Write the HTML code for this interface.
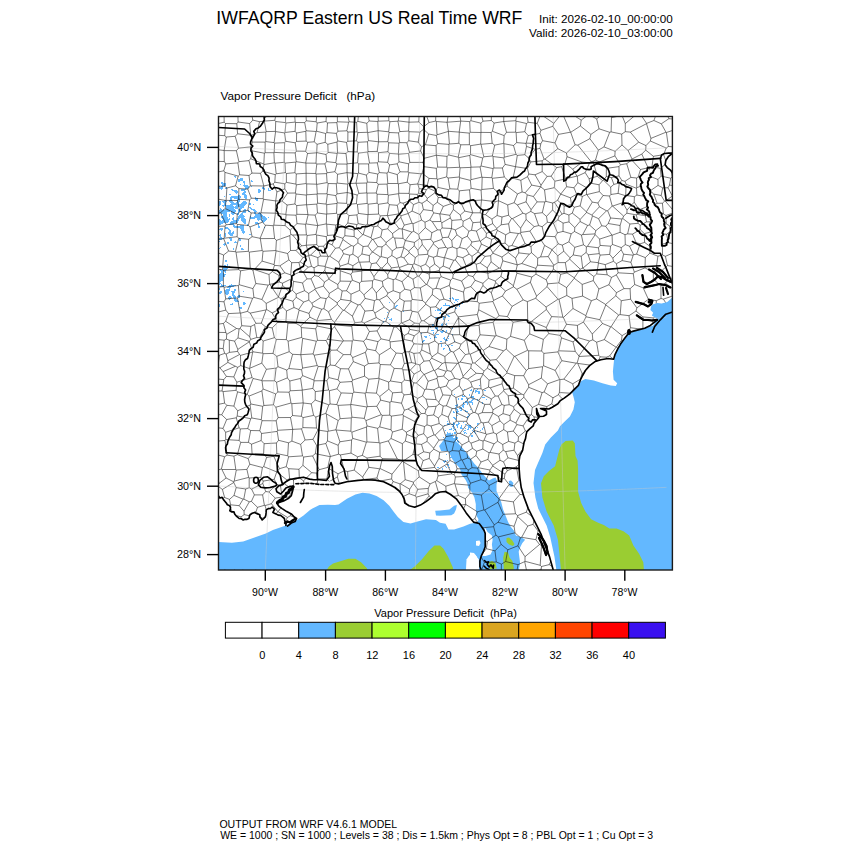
<!DOCTYPE html>
<html><head><meta charset="utf-8"><style>
html,body{margin:0;padding:0;background:#fff;width:850px;height:850px;overflow:hidden}
svg{position:absolute;left:0;top:0}
text{font-family:"Liberation Sans", sans-serif;fill:#000}
</style></head><body>
<svg width="850" height="850" viewBox="0 0 850 850">
<text x="216.31" y="24.30" font-size="17.7" textLength="306.08" lengthAdjust="spacingAndGlyphs" xml:space="preserve">IWFAQRP Eastern US Real Time WRF</text>
<text x="538.95" y="23.40" font-size="11.8" textLength="133.85" lengthAdjust="spacingAndGlyphs" xml:space="preserve">Init: 2026-02-10_00:00:00</text>
<text x="529.04" y="36.80" font-size="11.8" textLength="143.76" lengthAdjust="spacingAndGlyphs" xml:space="preserve">Valid: 2026-02-10_03:00:00</text>
<text x="220.49" y="99.60" font-size="11.5" textLength="154.61" lengthAdjust="spacingAndGlyphs" xml:space="preserve">Vapor Pressure Deficit   (hPa)</text>
<clipPath id="fr"><rect x="218.5" y="116.5" width="453.9" height="453.5"/></clipPath>
<g clip-path="url(#fr)">
<g stroke="none">
<polygon points="672.5,297.2 667.3,302.1 661.6,303.5 657.4,303.1 653.2,304.2 651.1,306.4 650.4,309.9 653.2,312.7 651.8,315.5 657.4,319.1 653.2,325.4 647.5,327.5 639.1,329.6 633.4,331.1 627.8,333.9 623.5,339.5 619.3,345.2 617.9,348.6 615.1,354.3 614.2,358.6 613.6,364.2 612.9,371.2 613.6,379.7 617.2,383.2 615.8,386.1 610.8,385.4 602.4,383.2 593.9,380.4 585.4,379.0 581.2,381.1 578.4,385.4 574.1,389.6 572.0,391.7 573.4,396.6 574.8,402.3 573.4,409.4 569.9,416.4 564.2,422.1 560.0,426.3 557.9,430.5 550.9,437.6 545.2,444.6 542.4,453.1 538.0,463.0 535.0,470.0 533.5,483.0 535.4,497.4 538.2,508.6 542.4,517.1 546.6,525.6 550.2,536.9 552.3,546.8 554.4,556.6 556.5,571.0 672.5,571.0" fill="#63b8ff"/>
<polygon points="218.5,542.0 231.9,542.8 243.2,541.5 254.5,537.5 265.8,533.4 272.9,530.0 284.4,526.1 295.9,520.8 303.5,515.4 310.0,510.1 312.4,508.6 319.5,505.1 327.9,504.7 335.0,505.1 338.5,504.4 346.9,498.8 355.4,494.5 362.5,492.8 369.5,493.4 376.6,495.9 383.6,500.2 389.3,505.8 393.5,511.5 397.8,517.1 403.4,522.1 410.5,523.5 417.5,521.4 426.0,519.2 435.9,519.9 440.0,522.8 445.6,523.7 448.5,529.4 454.1,529.4 463.5,526.5 470.1,523.7 475.8,522.8 478.0,521.0 480.0,516.0 483.0,515.0 486.0,520.0 484.5,526.0 485.0,533.0 485.2,546.8 483.4,551.7 481.3,555.9 479.9,560.9 479.9,566.5 481.3,571.0 218.5,571.0" fill="#63b8ff"/>
<polygon points="435.2,510.8 440.0,510.5 449.4,509.6 454.1,505.8 456.9,504.9 456.0,509.6 454.1,513.4 451.3,515.2 440.0,515.7 436.0,515.5" fill="#63b8ff"/>
<polygon points="447.5,433.5 444.8,438.5 439.1,446.1 441.2,451.1 448.3,451.1 452.5,459.5 456.0,464.0 459.8,468.2 461.6,474.8 465.4,479.5 467.3,483.2 468.2,487.9 472.0,492.6 474.4,497.4 475.8,503.9 475.8,509.6 476.7,516.2 479.5,520.9 483.3,525.6 485.5,528.4 487.6,531.9 491.9,535.5 492.6,539.7 491.9,544.6 492.6,550.3 490.5,554.5 485.5,556.0 482.7,556.0 478.0,557.0 477.0,571.0 518.7,571.0 520.1,563.0 519.4,557.4 518.7,551.7 520.1,547.5 522.2,543.2 525.1,539.7 520.8,536.9 515.9,535.5 513.8,530.5 510.9,527.0 508.1,522.1 505.3,515.0 503.1,509.6 501.2,502.1 498.4,495.5 496.5,490.8 496.5,484.2 497.4,481.4 495.5,477.6 492.7,478.5 488.9,480.4 485.0,476.5 481.5,472.2 478.6,468.0 474.4,463.8 470.2,458.1 467.4,453.9 463.8,449.6 458.2,443.3 453.9,439.8 452.0,435.0 450.5,432.5" fill="#63b8ff"/>
<polygon points="508.7,481.0 511.0,480.4 513.4,483.0 512.5,487.0 509.5,486.5" fill="#63b8ff"/>
<polygon points="469.4,555.3 475.3,554.7 478.8,559.4 479.2,571.0 465.9,571.0 466.5,559.4" fill="#fff"/>
<polygon points="476.0,541.0 479.5,540.4 480.6,543.0 479.0,546.1 476.0,545.5" fill="#fff"/>
<polygon points="470.0,552.5 474.0,553.0 477.0,557.0 477.0,571.0 470.0,571.0" fill="#fff"/>
<polygon points="561.4,444.6 565.6,441.1 572.7,440.4 574.8,443.2 575.5,455.9 577.6,460.6 578.1,469.1 578.1,491.7 581.2,503.0 585.4,511.5 591.1,519.2 598.1,522.8 603.8,524.9 609.4,528.4 616.5,528.4 623.5,531.2 629.2,535.5 633.4,545.4 639.1,553.8 643.3,562.3 644.0,571.0 561.4,571.0 560.8,568.0 559.4,553.8 557.9,539.7 553.7,525.6 546.6,511.5 542.4,497.4 541.0,483.2 543.8,476.2 549.0,471.0 555.1,466.3 557.9,455.0 559.5,449.0" fill="#9acd32"/>
<polygon points="326.0,571.0 329.0,566.5 333.0,563.5 337.1,562.3 348.4,558.8 355.4,558.8 361.1,562.3 366.7,567.9 368.0,571.0" fill="#9acd32"/>
<polygon points="408.4,571.0 414.7,566.5 421.8,559.5 428.8,551.0 434.5,545.4 440.1,545.4 443.5,548.8 448.2,557.1 452.9,567.6 453.5,571.0" fill="#9acd32"/>
<polygon points="504.6,551.7 508.1,552.4 509.5,557.4 512.4,560.9 513.8,567.2 513.5,571.0 503.9,571.0 503.2,557.4" fill="#9acd32"/>
<polygon points="506.5,538.0 509.0,537.6 512.0,540.0 514.5,544.0 513.0,546.0 509.0,544.5 506.5,542.0" fill="#9acd32"/>
<polygon points="489.0,562.0 492.0,561.0 495.5,563.0 496.8,568.6 490.0,569.0 489.0,566.0" fill="#9acd32"/>
<path d="M234 176h2v1h-2zM235 177h1v1h-1zM240 178h3v1h-3zM238 179h5v1h-5zM238 180h5v1h-5zM251 180h1v1h-1zM238 181h2v1h-2zM243 181h2v1h-2zM251 181h2v1h-2zM221 182h2v1h-2zM243 182h2v1h-2zM221 183h5v1h-5zM244 183h1v1h-1zM222 184h4v1h-4zM240 184h1v1h-1zM244 184h1v1h-1zM222 185h4v1h-4zM243 185h5v1h-5zM219 186h1v1h-1zM221 186h2v1h-2zM244 186h5v1h-5zM251 186h1v1h-1zM218 187h5v1h-5zM226 187h1v1h-1zM245 187h4v1h-4zM262 187h2v1h-2zM218 188h5v1h-5zM225 188h2v1h-2zM245 188h3v1h-3zM262 188h3v1h-3zM268 188h1v1h-1zM221 189h1v1h-1zM231 189h2v1h-2zM241 189h5v1h-5zM258 189h2v1h-2zM264 189h1v1h-1zM268 189h1v1h-1zM232 190h5v1h-5zM241 190h4v1h-4zM258 190h3v1h-3zM268 190h3v1h-3zM234 191h4v1h-4zM244 191h2v1h-2zM258 191h3v1h-3zM235 192h3v1h-3zM243 192h3v1h-3zM258 192h2v1h-2zM218 193h1v1h-1zM236 193h1v1h-1zM242 193h3v1h-3zM218 194h1v1h-1zM229 194h2v1h-2zM242 194h4v1h-4zM238 195h2v1h-2zM244 195h3v1h-3zM224 196h1v1h-1zM231 196h10v1h-10zM244 196h3v1h-3zM230 197h11v1h-11zM244 197h3v1h-3zM255 197h1v1h-1zM230 198h2v1h-2zM234 198h6v1h-6zM245 198h2v1h-2zM255 198h3v1h-3zM230 199h2v1h-2zM237 199h3v1h-3zM255 199h3v1h-3zM224 200h2v1h-2zM229 200h3v1h-3zM237 200h3v1h-3zM256 200h2v1h-2zM218 201h3v1h-3zM222 201h5v1h-5zM229 201h4v1h-4zM237 201h3v1h-3zM243 201h3v1h-3zM218 202h3v1h-3zM223 202h3v1h-3zM230 202h4v1h-4zM236 202h3v1h-3zM242 202h5v1h-5zM218 203h3v1h-3zM224 203h2v1h-2zM231 203h8v1h-8zM241 203h6v1h-6zM249 203h2v1h-2zM218 204h3v1h-3zM224 204h2v1h-2zM230 204h16v1h-16zM249 204h2v1h-2zM253 204h1v1h-1zM218 205h2v1h-2zM222 205h11v1h-11zM236 205h9v1h-9zM223 206h1v1h-1zM226 206h8v1h-8zM235 206h9v1h-9zM226 207h12v1h-12zM240 207h4v1h-4zM249 207h2v1h-2zM220 208h1v1h-1zM226 208h8v1h-8zM235 208h3v1h-3zM240 208h2v1h-2zM250 208h2v1h-2zM220 209h2v1h-2zM223 209h1v1h-1zM225 209h10v1h-10zM238 209h3v1h-3zM244 209h2v1h-2zM251 209h4v1h-4zM219 210h17v1h-17zM238 210h3v1h-3zM243 210h3v1h-3zM248 210h1v1h-1zM253 210h3v1h-3zM218 211h12v1h-12zM231 211h5v1h-5zM238 211h2v1h-2zM243 211h3v1h-3zM248 211h2v1h-2zM254 211h3v1h-3zM218 212h9v1h-9zM231 212h4v1h-4zM238 212h1v1h-1zM242 212h4v1h-4zM254 212h2v1h-2zM259 212h1v1h-1zM218 213h2v1h-2zM221 213h6v1h-6zM231 213h4v1h-4zM237 213h2v1h-2zM241 213h2v1h-2zM254 213h2v1h-2zM258 213h3v1h-3zM218 214h1v1h-1zM223 214h4v1h-4zM229 214h1v1h-1zM232 214h2v1h-2zM237 214h2v1h-2zM240 214h3v1h-3zM255 214h7v1h-7zM223 215h4v1h-4zM229 215h1v1h-1zM239 215h5v1h-5zM255 215h8v1h-8zM221 216h6v1h-6zM229 216h1v1h-1zM238 216h7v1h-7zM250 216h1v1h-1zM254 216h11v1h-11zM221 217h7v1h-7zM233 217h1v1h-1zM238 217h6v1h-6zM250 217h11v1h-11zM262 217h4v1h-4zM268 217h1v1h-1zM218 218h1v1h-1zM222 218h6v1h-6zM229 218h1v1h-1zM232 218h2v1h-2zM237 218h3v1h-3zM241 218h4v1h-4zM250 218h5v1h-5zM257 218h4v1h-4zM262 218h5v1h-5zM218 219h2v1h-2zM223 219h7v1h-7zM232 219h2v1h-2zM237 219h2v1h-2zM241 219h5v1h-5zM257 219h5v1h-5zM263 219h4v1h-4zM218 220h3v1h-3zM222 220h7v1h-7zM233 220h6v1h-6zM241 220h5v1h-5zM258 220h1v1h-1zM261 220h5v1h-5zM219 221h10v1h-10zM231 221h7v1h-7zM242 221h4v1h-4zM262 221h3v1h-3zM218 222h10v1h-10zM230 222h8v1h-8zM243 222h3v1h-3zM255 222h3v1h-3zM263 222h1v1h-1zM218 223h5v1h-5zM230 223h4v1h-4zM244 223h2v1h-2zM255 223h4v1h-4zM218 224h3v1h-3zM229 224h5v1h-5zM247 224h1v1h-1zM258 224h1v1h-1zM218 225h1v1h-1zM233 225h2v1h-2zM240 225h4v1h-4zM247 225h1v1h-1zM258 225h1v1h-1zM233 226h11v1h-11zM258 226h2v1h-2zM225 227h3v1h-3zM234 227h10v1h-10zM258 227h2v1h-2zM264 227h1v1h-1zM218 228h1v1h-1zM220 228h3v1h-3zM225 228h4v1h-4zM240 228h4v1h-4zM219 229h4v1h-4zM228 229h2v1h-2zM241 229h3v1h-3zM221 230h1v1h-1zM229 230h2v1h-2zM241 230h3v1h-3zM229 231h2v1h-2zM233 231h1v1h-1zM242 231h3v1h-3zM228 232h3v1h-3zM232 232h2v1h-2zM242 232h3v1h-3zM225 233h1v1h-1zM228 233h6v1h-6zM243 233h1v1h-1zM220 234h1v1h-1zM225 234h1v1h-1zM229 234h4v1h-4zM249 234h2v1h-2zM219 235h2v1h-2zM225 235h1v1h-1zM230 235h3v1h-3zM220 236h1v1h-1zM225 236h1v1h-1zM220 237h2v1h-2zM218 238h6v1h-6zM229 238h3v1h-3zM239 238h1v1h-1zM218 239h4v1h-4zM230 239h2v1h-2zM239 239h2v1h-2zM230 240h2v1h-2zM239 240h2v1h-2zM218 241h2v1h-2zM235 241h1v1h-1zM227 242h2v1h-2zM234 242h3v1h-3zM224 243h1v1h-1zM227 243h2v1h-2zM223 244h3v1h-3zM224 245h1v1h-1zM240 245h1v1h-1zM240 246h1v1h-1zM220 247h1v1h-1zM219 248h1v1h-1zM233 248h1v1h-1zM241 248h2v1h-2zM233 249h1v1h-1zM241 249h3v1h-3zM225 260h2v1h-2zM225 261h2v1h-2zM218 264h1v1h-1zM227 264h1v1h-1zM218 265h1v1h-1zM224 265h2v1h-2zM227 265h1v1h-1zM223 266h4v1h-4zM229 266h1v1h-1zM223 267h5v1h-5zM223 268h5v1h-5zM220 269h1v1h-1zM223 269h4v1h-4zM220 270h6v1h-6zM221 271h2v1h-2zM224 271h2v1h-2zM221 272h2v1h-2zM225 272h1v1h-1zM220 273h4v1h-4zM218 274h8v1h-8zM218 275h7v1h-7zM218 276h7v1h-7zM218 277h5v1h-5zM219 278h4v1h-4zM218 279h5v1h-5zM218 280h5v1h-5zM218 281h3v1h-3zM218 282h2v1h-2zM218 283h3v1h-3zM218 284h2v1h-2zM221 284h1v1h-1zM231 284h1v1h-1zM221 285h5v1h-5zM229 285h7v1h-7zM220 286h4v1h-4zM228 286h6v1h-6zM227 287h4v1h-4zM218 288h2v1h-2zM229 288h1v1h-1zM218 289h2v1h-2zM226 289h4v1h-4zM234 289h2v1h-2zM225 290h5v1h-5zM234 290h2v1h-2zM220 291h2v1h-2zM225 291h4v1h-4zM231 291h4v1h-4zM243 291h1v1h-1zM219 292h3v1h-3zM225 292h4v1h-4zM232 292h3v1h-3zM219 293h2v1h-2zM225 293h4v1h-4zM232 293h2v1h-2zM226 294h2v1h-2zM232 294h2v1h-2zM232 295h3v1h-3zM238 295h2v1h-2zM229 296h2v1h-2zM233 296h3v1h-3zM237 296h3v1h-3zM228 297h4v1h-4zM233 297h3v1h-3zM238 297h2v1h-2zM228 298h3v1h-3zM234 298h2v1h-2zM229 299h1v1h-1zM234 299h3v1h-3zM234 300h4v1h-4zM235 301h4v1h-4zM218 302h1v1h-1zM243 302h2v1h-2zM218 303h1v1h-1zM232 303h1v1h-1zM243 303h3v1h-3zM218 304h2v1h-2zM230 304h3v1h-3zM243 304h2v1h-2zM218 305h2v1h-2zM218 306h2v1h-2zM239 307h3v1h-3zM240 308h2v1h-2zM452 297h1v1h-1zM449 298h2v1h-2zM452 298h2v1h-2zM453 299h1v1h-1zM455 299h4v1h-4zM455 300h2v1h-2zM457 301h1v1h-1zM389 302h1v1h-1zM454 302h1v1h-1zM462 302h1v1h-1zM445 303h1v1h-1zM462 303h1v1h-1zM445 304h1v1h-1zM396 305h2v1h-2zM443 305h7v1h-7zM457 305h1v1h-1zM459 305h1v1h-1zM395 306h2v1h-2zM449 306h1v1h-1zM459 306h1v1h-1zM395 307h1v1h-1zM441 307h1v1h-1zM452 307h1v1h-1zM455 307h1v1h-1zM440 308h2v1h-2zM455 308h2v1h-2zM437 309h2v1h-2zM440 309h1v1h-1zM435 310h1v1h-1zM437 310h4v1h-4zM403 311h1v1h-1zM387 312h1v1h-1zM440 312h1v1h-1zM439 313h2v1h-2zM446 314h1v1h-1zM441 315h1v1h-1zM447 315h2v1h-2zM441 316h3v1h-3zM448 316h2v1h-2zM388 317h1v1h-1zM435 317h2v1h-2zM438 317h1v1h-1zM443 317h3v1h-3zM384 318h1v1h-1zM391 318h1v1h-1zM438 318h2v1h-2zM443 318h1v1h-1zM389 319h3v1h-3zM438 319h1v1h-1zM443 319h1v1h-1zM391 320h1v1h-1zM448 320h1v1h-1zM383 321h1v1h-1zM383 322h1v1h-1zM442 323h1v1h-1zM446 323h1v1h-1zM389 324h1v1h-1zM432 324h2v1h-2zM441 324h2v1h-2zM446 324h1v1h-1zM389 325h1v1h-1zM432 325h2v1h-2zM441 325h2v1h-2zM430 326h1v1h-1zM430 327h1v1h-1zM435 327h3v1h-3zM435 328h3v1h-3zM452 328h1v1h-1zM437 329h1v1h-1zM431 330h3v1h-3zM437 330h1v1h-1zM442 330h2v1h-2zM446 330h1v1h-1zM440 331h4v1h-4zM446 331h1v1h-1zM433 332h1v1h-1zM441 332h2v1h-2zM445 332h1v1h-1zM421 333h1v1h-1zM433 333h1v1h-1zM436 334h3v1h-3zM452 334h1v1h-1zM429 335h1v1h-1zM435 335h1v1h-1zM424 336h3v1h-3zM435 336h1v1h-1zM448 336h1v1h-1zM425 337h2v1h-2zM434 337h3v1h-3zM444 337h1v1h-1zM430 338h1v1h-1zM443 338h2v1h-2zM448 338h1v1h-1zM444 339h3v1h-3zM423 340h2v1h-2zM445 340h3v1h-3zM422 341h2v1h-2zM440 341h2v1h-2zM454 341h1v1h-1zM422 342h1v1h-1zM441 344h1v1h-1zM441 345h1v1h-1zM445 345h1v1h-1zM447 345h1v1h-1zM451 345h2v1h-2zM441 346h1v1h-1zM448 346h1v1h-1zM443 348h2v1h-2zM449 348h1v1h-1zM443 349h1v1h-1zM449 349h1v1h-1zM449 350h1v1h-1zM479 385h1v1h-1zM464 389h1v1h-1zM471 389h1v1h-1zM477 389h1v1h-1zM470 390h2v1h-2zM475 390h2v1h-2zM484 390h2v1h-2zM473 391h1v1h-1zM475 391h5v1h-5zM475 392h1v1h-1zM478 392h2v1h-2zM478 393h2v1h-2zM454 394h1v1h-1zM469 394h1v1h-1zM462 395h1v1h-1zM469 395h1v1h-1zM462 396h3v1h-3zM471 396h3v1h-3zM471 397h3v1h-3zM482 397h3v1h-3zM458 398h1v1h-1zM461 398h2v1h-2zM466 398h1v1h-1zM474 398h1v1h-1zM458 399h1v1h-1zM461 399h2v1h-2zM467 399h1v1h-1zM472 399h2v1h-2zM477 399h1v1h-1zM486 399h1v1h-1zM471 400h2v1h-2zM477 400h1v1h-1zM465 401h2v1h-2zM469 401h3v1h-3zM463 402h1v1h-1zM465 402h3v1h-3zM469 402h4v1h-4zM482 402h1v1h-1zM463 403h1v1h-1zM467 403h1v1h-1zM472 403h1v1h-1zM482 403h1v1h-1zM457 404h1v1h-1zM463 404h2v1h-2zM467 404h1v1h-1zM472 404h1v1h-1zM455 405h3v1h-3zM462 405h2v1h-2zM456 406h1v1h-1zM462 406h2v1h-2zM455 407h1v1h-1zM460 407h2v1h-2zM463 407h1v1h-1zM456 408h1v1h-1zM459 408h3v1h-3zM456 409h2v1h-2zM461 409h1v1h-1zM470 409h1v1h-1zM457 410h1v1h-1zM460 410h2v1h-2zM465 410h1v1h-1zM453 411h1v1h-1zM456 411h3v1h-3zM465 411h3v1h-3zM453 412h2v1h-2zM456 412h2v1h-2zM468 414h1v1h-1zM457 415h1v1h-1zM469 415h1v1h-1zM467 416h2v1h-2zM453 417h2v1h-2zM467 417h1v1h-1zM454 418h2v1h-2zM455 419h1v1h-1zM447 421h1v1h-1zM453 422h1v1h-1zM458 422h1v1h-1zM463 422h1v1h-1zM447 423h2v1h-2zM453 423h2v1h-2zM458 423h2v1h-2zM477 423h2v1h-2zM447 424h3v1h-3zM451 424h4v1h-4zM456 424h3v1h-3zM465 424h1v1h-1zM477 424h1v1h-1zM444 425h1v1h-1zM453 425h1v1h-1zM456 425h2v1h-2zM461 425h1v1h-1zM467 425h4v1h-4zM452 426h2v1h-2zM457 426h1v1h-1zM461 426h1v1h-1zM468 426h3v1h-3zM453 427h1v1h-1zM457 427h1v1h-1zM460 427h2v1h-2zM468 427h4v1h-4zM475 427h1v1h-1zM477 427h1v1h-1zM483 427h1v1h-1zM451 428h1v1h-1zM453 428h1v1h-1zM460 428h3v1h-3zM465 428h1v1h-1zM468 428h1v1h-1zM470 428h1v1h-1zM475 428h1v1h-1zM482 428h1v1h-1zM449 429h3v1h-3zM454 429h2v1h-2zM467 429h2v1h-2zM473 429h1v1h-1zM482 429h1v1h-1zM445 430h1v1h-1zM453 430h1v1h-1zM464 430h2v1h-2zM472 430h1v1h-1zM480 430h1v1h-1zM463 431h1v1h-1zM473 431h2v1h-2zM477 431h1v1h-1zM447 432h1v1h-1zM454 432h2v1h-2zM464 432h2v1h-2zM474 432h1v1h-1zM447 433h1v1h-1zM452 433h1v1h-1zM454 433h2v1h-2zM464 433h1v1h-1zM466 433h1v1h-1zM470 433h1v1h-1zM475 433h1v1h-1zM446 434h1v1h-1zM452 434h1v1h-1zM446 435h3v1h-3zM451 435h1v1h-1zM471 435h2v1h-2zM446 436h2v1h-2zM449 436h1v1h-1zM451 436h3v1h-3zM455 436h1v1h-1zM471 436h2v1h-2zM443 437h1v1h-1zM448 437h2v1h-2zM452 437h1v1h-1zM455 437h3v1h-3zM448 438h1v1h-1zM450 438h1v1h-1zM453 438h5v1h-5zM448 439h3v1h-3zM452 439h5v1h-5zM444 440h1v1h-1zM447 440h2v1h-2zM450 440h6v1h-6zM457 440h1v1h-1zM448 441h1v1h-1zM451 441h3v1h-3zM457 441h2v1h-2zM451 442h2v1h-2zM458 442h1v1h-1zM448 444h1v1h-1zM449 445h1v1h-1zM446 454h1v1h-1zM452 454h1v1h-1zM450 457h2v1h-2zM445 460h1v1h-1zM447 460h1v1h-1zM443 461h3v1h-3zM444 462h1v1h-1zM454 463h1v1h-1zM447 464h2v1h-2zM448 465h1v1h-1zM445 466h1v1h-1zM437 467h2v1h-2zM446 467h1v1h-1zM449 467h1v1h-1zM442 468h1v1h-1zM442 469h1v1h-1zM456 470h1v1h-1zM447 471h2v1h-2zM447 472h1v1h-1z" fill="#63b8ff"/>
</g>
<mask id="land"><rect x="0" y="0" width="850" height="850" fill="#fff"/><polygon points="218.5,496.0 218.5,496.0 222.1,497.4 226.3,503.0 230.5,507.2 229.8,510.8 234.8,514.3 237.6,517.1 243.2,520.0 248.9,518.5 250.0,514.7 254.6,512.4 257.6,513.9 259.9,517.0 262.2,520.0 265.3,517.0 266.1,512.4 268.3,508.6 272.2,507.0 274.5,509.3 272.9,512.4 276.0,513.9 280.6,515.4 284.4,518.5 287.5,521.6 285.9,525.4 290.0,526.0 296.6,518.5 294.3,517.0 291.3,513.9 286.7,511.6 282.1,508.6 279.0,506.3 276.8,503.2 279.0,502.5 283.6,500.9 288.2,498.6 291.3,495.6 292.8,490.2 293.6,486.4 296.0,484.5 305.0,484.0 315.0,484.0 328.0,481.5 333.6,481.0 335.0,483.2 338.5,483.9 346.9,481.8 358.2,480.4 366.7,479.7 375.2,480.1 383.6,481.8 389.3,484.6 394.9,487.5 399.2,491.0 402.0,494.5 404.1,498.8 404.8,503.0 409.1,505.8 414.7,507.2 420.4,505.1 426.0,501.6 431.6,497.4 435.2,493.8 440.1,492.0 445.4,491.5 450.6,494.5 456.3,498.8 460.5,504.4 463.4,508.6 466.2,512.9 470.0,517.8 473.5,522.1 479.2,523.5 481.3,526.3 484.1,530.5 485.2,533.4 485.2,539.7 485.2,546.8 483.4,551.7 481.3,555.9 479.9,560.9 479.9,566.5 481.5,571.0 218.5,569.5" fill="#000"/><polygon points="657.4,319.8 650.4,325.4 644.7,328.2 639.1,329.6 633.4,331.1 629.2,332.5 624.9,338.1 620.7,343.8 617.9,348.6 615.1,354.3 613.6,359.2 608.0,358.5 600.9,359.7 595.3,361.4 589.6,365.6 585.4,370.5 582.6,375.5 580.5,379.7 578.4,385.4 574.1,389.6 569.9,393.8 564.2,398.1 560.0,400.9 557.9,403.7 552.3,407.2 548.8,409.0 544.0,408.6 540.5,408.6 546.5,411.0 546.5,414.5 543.5,416.3 539.5,416.5 537.5,412.0 536.5,408.5 536.8,414.0 538.9,417.5 535.3,421.7 533.9,423.5 533.2,425.9 529.7,428.8 526.9,431.6 526.2,434.4 525.5,438.6 524.1,442.2 522.6,450.3 519.8,455.9 519.1,460.6 519.1,468.4 519.8,477.6 521.2,487.5 524.1,497.4 528.3,508.6 532.5,517.1 536.8,525.6 541.0,534.1 545.2,545.4 549.5,556.6 553.5,571.0 672.5,569.5 672.5,322.0 660.0,325.0" fill="#000"/><polygon points="672.5,297.2 667.3,302.1 661.6,303.5 657.4,303.1 653.2,304.2 651.1,306.4 650.4,309.9 653.2,312.7 651.8,315.5 657.4,319.1 653.2,325.4 647.5,327.5 639.1,329.6 633.4,331.1 627.8,333.9 623.5,339.5 619.3,345.2 617.9,348.6 615.1,354.3 614.2,358.6 613.6,364.2 612.9,371.2 613.6,379.7 617.2,383.2 615.8,386.1 610.8,385.4 602.4,383.2 593.9,380.4 585.4,379.0 581.2,381.1 578.4,385.4 574.1,389.6 572.0,391.7 573.4,396.6 574.8,402.3 573.4,409.4 569.9,416.4 564.2,422.1 560.0,426.3 557.9,430.5 550.9,437.6 545.2,444.6 542.4,453.1 538.0,463.0 535.0,470.0 533.5,483.0 535.4,497.4 538.2,508.6 542.4,517.1 546.6,525.6 550.2,536.9 552.3,546.8 554.4,556.6 556.5,571.0 672.5,571.0" fill="#000"/><polygon points="657.4,164.3 652.9,167.9 647.1,170.9 641.2,175.3 639.7,176.8 642.6,182.6 641.2,187.1 644.1,192.9 645.6,198.8 647.1,204.7 648.5,210.6 650.5,216.0 651.5,228.0 652.2,237.1 651.5,242.9 650.7,248.8 654.4,253.2 660.3,253.2 661.8,242.9 661.8,240.0 663.2,231.2 664.7,222.4 663.2,217.9 661.8,213.5 658.8,209.1 655.9,206.2 652.9,201.8 650.7,195.9 648.5,188.5 647.8,182.6 650.0,175.3 654.4,169.4 658.1,165.7" fill="#000"/><polygon points="672.2,153.5 668.6,156.3 665.8,160.5 665.1,164.8 667.2,167.6 670.8,170.4 673.0,173.5 673.0,153.0" fill="#000"/></mask>
<path mask="url(#land)" d="M471.9 571.8L478.9 573.1M471.9 571.8L467.9 573.2M467.9 573.2L464.5 583.3M477.9 580.7L478.9 573.1M547.7 283.8L558.8 282.9M547.7 283.8L546.2 279.8M546.2 279.8L553.4 269.1M558.8 282.9L560.7 274.3M553.4 269.1L560.7 274.3M569.7 259.2L580.2 269.1M569.7 259.2L565.3 262.6M580.2 269.1L574.3 277.8M574.3 277.8L567.0 272.9M565.3 262.6L567.0 272.9M566.6 287.6L574.3 278.3M566.6 287.6L558.8 282.9M574.3 277.8L574.3 278.3M567.0 272.9L560.7 274.3M546.2 279.8L536.0 274.1M536.0 274.1L535.9 268.4M535.9 268.4L537.5 265.2M553.4 269.1L553.4 266.1M537.5 265.2L553.4 266.1M573.2 255.0L570.0 257.8M573.2 255.0L574.8 247.3M570.0 257.8L563.8 251.2M574.8 247.3L568.9 241.8M563.8 251.2L562.3 245.1M568.9 241.8L562.3 245.1M586.4 246.8L583.5 244.8M586.4 246.8L586.2 252.4M583.5 244.8L574.8 247.3M573.2 255.0L581.2 256.2M586.2 252.4L581.2 256.2M569.7 259.2L570.0 257.8M580.2 269.1L582.7 268.2M581.2 256.2L582.7 268.2M582.2 284.4L574.3 278.3M582.2 284.4L593.3 280.6M593.3 280.6L593.8 276.5M593.8 276.5L582.8 268.2M582.8 268.2L582.7 268.2M598.9 289.0L609.0 284.7M598.9 289.0L593.3 280.6M593.8 276.5L596.7 274.0M609.0 284.7L611.5 277.4M611.5 277.4L607.2 274.8M596.7 274.0L607.2 274.8M596.7 274.0L598.5 263.0M607.2 274.8L605.2 264.6M605.2 264.6L598.5 263.0M636.1 242.6L640.2 243.8M636.1 242.6L629.5 246.2M640.2 243.8L636.6 254.2M636.6 254.2L633.6 254.7M629.5 246.2L633.6 254.7M616.3 274.9L611.5 277.4M616.3 274.9L618.1 272.8M613.5 261.3L605.2 264.6M613.5 261.3L616.4 263.7M616.4 263.7L618.1 272.8M633.2 255.2L623.6 254.2M633.2 255.2L630.9 262.3M623.6 254.2L622.1 260.6M622.1 260.6L630.9 262.3M653.9 120.5L646.6 123.4M653.9 120.5L661.3 123.8M650.9 138.4L666.0 132.2M650.9 138.4L646.5 123.7M646.5 123.7L646.6 123.4M666.0 132.2L661.3 123.8M653.9 120.5L658.6 107.9M664.3 107.9L668.9 118.7M661.3 123.8L668.9 118.7M668.9 118.7L677.7 119.4M637.7 107.0L639.0 112.1M639.0 112.1L646.6 123.4M526.2 143.1L540.8 143.8M526.2 143.1L528.2 135.6M540.8 143.8L542.6 140.7M542.6 140.7L540.0 133.4M540.0 133.4L528.2 135.6M599.0 128.8L590.9 134.4M599.0 128.8L596.7 118.9M590.9 134.4L580.4 126.0M596.7 118.9L588.6 114.5M588.6 114.5L581.2 120.1M581.2 120.1L580.4 126.0M220.8 576.5L211.7 575.0M227.5 586.8L229.5 574.9M220.8 576.5L225.8 572.8M229.5 574.9L225.8 572.8M467.9 573.2L459.6 570.2M458.0 583.7L454.8 574.3M459.6 570.2L454.8 574.3M471.9 571.8L468.6 563.0M468.6 563.0L459.8 566.6M459.6 570.2L459.8 566.6M461.0 553.7L456.8 559.6M461.0 553.7L470.3 555.5M468.6 563.0L470.3 555.5M459.8 566.6L456.8 559.6M312.9 575.8L306.5 565.1M306.5 565.1L302.0 567.0M302.0 567.0L302.1 575.5M595.0 233.9L582.7 234.6M595.0 233.9L595.8 230.7M589.6 225.1L595.8 230.7M589.6 225.1L587.6 225.4M587.6 225.4L582.7 234.6M586.4 246.8L587.4 246.4M595.0 233.9L595.2 234.6M583.5 244.8L581.4 235.1M595.2 234.6L587.4 246.4M582.7 234.6L581.4 235.1M622.6 202.7L627.0 210.0M622.6 202.7L612.6 206.1M623.6 216.1L612.6 206.1M623.6 216.1L626.9 213.2M626.9 213.2L627.0 210.0M623.6 216.1L622.7 218.4M638.2 223.3L636.3 214.9M638.2 223.3L629.9 224.0M626.9 213.2L636.3 214.9M622.7 218.4L629.9 224.0M632.5 234.1L640.2 229.6M632.5 234.1L627.6 233.9M640.2 229.6L640.1 225.4M638.2 223.3L640.1 225.4M629.9 224.0L627.6 233.9M636.1 242.6L632.5 234.1M629.5 246.2L625.3 244.6M625.3 244.6L625.0 234.7M625.0 234.7L627.6 233.9M525.9 214.1L530.8 211.4M525.9 214.1L522.9 213.2M522.9 213.2L517.3 204.9M526.1 201.8L517.3 204.9M526.1 201.8L531.1 209.7M531.1 209.7L530.8 211.4M514.1 202.7L517.3 204.9M514.1 202.7L517.5 193.9M517.5 193.9L522.1 192.0M522.1 192.0L525.2 192.8M526.1 201.8L527.2 194.9M527.2 194.9L525.2 192.8M544.1 159.2L544.9 159.1M544.1 159.2L540.0 148.3M540.0 148.3L540.8 143.8M542.6 140.7L555.0 142.9M555.0 142.9L557.8 148.7M544.9 159.1L557.8 148.7M555.1 236.7L557.5 232.8M555.1 236.7L558.3 243.9M557.5 232.8L563.0 231.4M558.3 243.9L562.3 245.1M568.9 241.8L571.2 233.8M563.0 231.4L571.2 233.8M581.4 235.1L574.5 231.5M571.2 233.8L574.5 231.5M580.0 221.5L574.8 227.6M580.0 221.5L587.6 225.4M574.8 227.6L574.5 231.5M555.1 236.7L544.1 236.1M544.6 245.4L541.3 240.5M544.6 245.4L552.0 249.6M552.0 249.6L558.3 243.9M544.1 236.1L541.3 240.5M548.2 256.6L553.8 265.2M548.2 256.6L552.0 249.8M552.0 249.8L557.8 255.8M557.8 255.8L558.1 262.6M558.1 262.6L553.8 265.2M537.5 265.2L537.7 258.2M553.4 266.1L553.8 265.2M537.7 258.2L540.6 256.9M540.6 256.9L548.2 256.6M540.6 256.9L544.6 245.4M552.0 249.6L552.0 249.8M563.8 251.2L557.8 255.8M565.3 262.6L558.1 262.6M516.0 270.6L517.3 264.9M516.0 270.6L502.3 270.8M502.8 260.8L500.4 268.2M502.8 260.8L517.2 264.8M517.3 264.9L517.2 264.8M502.3 270.8L500.4 268.2M516.9 273.2L531.8 277.0M516.9 273.2L516.0 270.6M531.8 277.0L536.0 274.1M535.9 268.4L521.8 263.5M521.8 263.5L517.3 264.9M508.2 252.5L501.9 257.0M508.2 252.5L515.5 258.2M515.5 258.2L517.2 264.8M501.9 257.0L502.8 260.8M616.4 263.7L622.1 260.6M618.1 272.8L633.3 273.7M630.9 262.3L634.4 272.1M633.3 273.7L634.4 272.1M645.3 257.6L636.6 254.2M645.3 257.6L645.0 267.9M633.6 254.7L633.2 255.2M634.4 272.1L645.0 267.9M642.9 329.4L630.5 327.7M642.9 329.4L642.9 316.9M629.0 315.7L630.5 327.7M629.0 315.7L636.0 311.0M642.9 316.9L636.0 311.0M634.7 284.5L643.2 287.9M634.7 284.5L630.1 288.7M643.2 287.9L648.4 299.3M648.4 299.3L636.9 307.9M636.9 307.9L630.6 299.2M630.6 299.2L630.1 288.7M609.0 284.7L616.4 292.7M616.3 274.9L624.0 288.6M616.4 292.7L624.0 288.6M634.7 284.5L633.3 273.7M630.1 288.7L624.0 288.6M613.5 261.3L612.8 258.2M623.6 254.2L621.2 249.8M612.8 258.2L621.2 249.8M612.1 235.2L620.1 232.3M612.1 235.2L612.4 244.4M625.3 244.6L621.3 247.6M620.1 232.3L625.0 234.7M612.4 244.4L621.3 247.6M621.3 247.6L621.2 249.8M582.8 268.2L590.5 261.8M598.5 263.0L598.3 262.7M598.3 262.7L590.5 261.8M586.2 252.4L588.2 254.8M588.2 254.8L590.5 261.8M640.2 243.8L644.6 242.4M640.2 229.6L644.3 233.6M644.6 242.4L644.3 233.6M645.3 257.6L649.9 253.1M649.9 253.1L649.6 246.1M644.6 242.4L649.6 246.1M609.7 132.3L599.0 128.8M609.7 132.3L604.0 146.9M589.9 138.7L590.9 134.4M589.9 138.7L598.4 150.1M598.4 150.1L604.0 146.9M619.0 166.6L606.4 168.4M619.0 166.6L619.0 175.9M606.4 168.4L606.3 176.5M606.3 176.5L611.4 177.6M619.0 175.9L611.4 177.6M650.9 138.4L650.4 141.0M646.5 123.7L630.3 132.1M650.4 141.0L646.0 145.6M630.3 132.1L638.7 142.2M646.0 145.6L638.7 142.2M674.5 129.8L666.4 132.5M674.5 129.8L684.3 138.2M666.4 132.5L668.4 146.5M668.4 146.5L683.1 147.5M666.0 132.2L666.4 132.5M677.7 119.4L674.5 129.8M650.4 141.0L666.2 148.0M666.2 148.0L668.4 146.5M573.8 115.4L563.4 115.6M573.8 115.4L578.3 102.3M560.0 110.7L561.1 114.3M561.1 114.3L563.4 115.6M570.7 132.3L580.4 126.0M570.7 132.3L570.5 132.2M570.5 132.2L563.4 115.6M581.2 120.1L573.8 115.4M535.3 149.4L526.5 146.4M535.3 149.4L528.3 157.7M526.5 146.4L524.8 154.7M528.3 157.7L524.8 154.7M526.0 143.4L526.5 146.4M526.0 143.4L526.2 143.1M540.0 148.3L535.3 149.4M544.1 159.2L542.2 160.8M542.2 160.8L530.9 161.9M530.9 161.9L528.3 157.7M516.0 154.3L517.3 155.4M516.0 154.3L513.5 145.5M516.7 142.6L513.5 145.5M516.7 142.6L526.0 143.4M517.3 155.4L524.8 154.7M517.3 155.4L515.5 166.7M515.5 166.7L527.4 168.5M527.4 168.5L530.9 161.9M516.0 121.1L515.6 132.2M516.0 121.1L526.5 123.5M526.5 123.5L524.8 131.7M524.8 131.7L516.1 132.6M516.1 132.6L515.6 132.2M516.7 142.6L516.1 132.6M528.2 135.6L524.8 131.7M588.6 114.5L587.9 108.1M596.7 118.9L606.1 111.4M622.0 115.4L611.5 117.6M622.0 115.4L625.3 123.6M611.5 117.6L611.1 131.9M625.3 123.6L625.3 131.7M611.1 131.9L621.7 134.1M621.7 134.1L625.3 131.7M606.1 111.4L611.5 117.6M624.3 105.9L622.0 115.4M639.0 112.1L625.3 123.6M609.7 132.3L611.1 131.9M630.3 132.1L625.3 131.7M674.5 212.9L678.4 223.4M674.5 212.9L683.0 210.9M410.4 370.0L414.1 374.1M410.4 370.0L416.1 364.0M416.1 364.0L419.8 364.9M419.8 364.9L420.6 370.5M414.1 374.1L420.6 370.5M470.7 382.1L480.3 379.0M470.7 382.1L467.6 379.2M467.6 379.2L476.3 373.3M476.3 373.3L483.0 373.7M480.3 379.0L483.0 374.2M483.0 373.7L483.0 374.2M471.4 364.2L460.1 362.1M471.4 364.2L470.8 368.0M470.8 368.0L463.1 376.2M463.1 376.2L458.4 363.0M460.1 362.1L458.5 362.8M458.4 363.0L458.5 362.8M463.0 377.4L463.1 376.2M463.0 377.4L467.6 379.2M476.3 373.3L470.8 368.0M465.4 354.6L460.1 362.1M465.4 354.6L459.3 348.2M459.3 348.2L453.4 352.0M453.4 352.0L458.5 362.8M481.0 388.8L474.1 388.7M481.0 388.8L480.3 379.0M470.7 382.1L472.2 386.6M472.2 386.6L474.1 388.7M482.7 389.9L481.0 388.8M482.7 389.9L483.1 394.5M474.1 388.7L470.7 397.6M483.1 394.5L478.9 400.4M478.9 400.4L470.7 397.6M462.8 391.0L463.4 394.5M462.8 391.0L472.2 386.6M463.4 394.5L468.0 398.6M468.0 398.6L470.7 397.6M437.0 470.1L438.0 475.9M437.0 470.1L447.0 464.0M438.0 475.9L451.7 473.9M451.7 473.9L447.0 464.0M438.9 458.5L434.5 466.1M438.9 458.5L447.9 462.5M437.0 470.1L434.7 467.4M447.0 464.0L447.9 462.5M434.5 466.1L434.7 467.4M308.9 546.8L314.9 555.2M308.9 546.8L302.2 548.8M302.2 548.8L301.6 555.1M301.6 555.1L308.3 559.6M308.3 559.6L314.9 555.2M306.5 565.1L307.3 564.1M302.0 567.0L296.5 564.4M296.5 564.4L297.5 558.1M297.5 558.1L301.6 555.1M307.3 564.1L308.3 559.6M309.5 545.1L317.3 542.7M309.5 545.1L307.9 537.9M307.9 537.9L318.5 534.8M317.3 542.7L318.5 534.8M289.4 567.5L296.5 564.4M289.4 567.5L288.4 566.4M297.5 558.1L290.2 552.9M288.4 566.4L285.1 555.6M290.2 552.9L285.1 555.6M275.7 572.6L275.1 573.2M275.7 572.6L275.4 565.4M275.1 573.2L267.7 573.5M267.7 573.5L266.4 565.6M266.4 565.6L273.5 562.7M275.4 565.4L273.5 562.7M264.2 577.6L267.7 573.5M274.2 581.7L275.1 573.2M288.4 566.4L275.4 565.4M273.7 561.3L273.5 562.7M273.7 561.3L283.1 554.9M285.1 555.6L283.1 554.9M264.2 577.6L255.8 570.1M262.5 564.8L266.4 565.6M262.5 564.8L255.7 568.7M255.8 570.1L255.7 568.7M212.6 565.8L217.0 563.4M225.8 572.8L225.0 569.3M225.0 569.3L217.0 563.4M211.3 552.1L218.8 555.1M217.0 563.4L218.8 555.1M685.5 499.6L677.3 495.3M672.7 507.4L678.4 508.8M672.7 507.4L673.9 498.0M673.9 498.0L677.3 495.3M676.5 448.7L684.4 447.0M676.5 448.7L672.5 445.9M677.7 438.1L672.5 445.9M454.8 574.3L451.2 573.4M451.2 573.4L443.9 577.2M449.1 554.8L444.6 557.3M449.1 554.8L455.9 559.7M455.9 559.7L447.6 564.4M444.6 557.3L444.3 563.1M444.3 563.1L447.6 564.4M441.0 552.6L445.1 546.2M441.0 552.6L444.6 557.3M449.8 547.8L445.1 546.2M449.8 547.8L449.1 554.8M451.2 573.4L447.6 564.4M456.8 559.6L455.9 559.7M438.9 575.2L437.8 572.9M439.1 565.0L437.8 572.9M439.1 565.0L444.3 563.1M434.0 544.0L430.4 548.5M434.0 544.0L434.3 535.3M430.4 548.5L422.1 542.7M434.3 535.3L428.6 533.2M428.6 533.2L423.0 536.5M422.1 542.7L423.0 536.5M436.6 534.3L444.9 536.5M436.6 534.3L434.3 535.3M444.9 536.5L444.5 545.2M444.5 545.2L434.0 544.0M412.5 545.4L416.4 546.0M412.5 545.4L410.9 534.2M416.4 546.0L422.1 542.7M418.1 533.2L411.6 533.1M418.1 533.2L423.0 536.5M410.9 534.2L411.6 533.1M400.5 537.5L399.7 542.0M400.5 537.5L410.9 534.2M412.5 545.4L411.9 545.8M411.9 545.8L399.7 542.0M411.9 545.8L406.7 555.8M398.9 551.5L396.4 545.7M398.9 551.5L406.1 555.9M399.7 542.0L396.4 545.7M406.1 555.9L406.7 555.8M293.3 577.9L288.7 573.0M281.3 582.4L284.8 574.9M288.7 573.0L284.8 574.9M289.4 567.5L288.7 573.0M275.7 572.6L284.8 574.9M516.9 273.2L513.4 285.7M531.8 277.0L530.4 282.3M530.4 282.3L516.9 289.3M516.9 289.3L513.5 286.8M513.4 285.7L513.5 286.8M502.3 270.8L500.9 276.4M513.4 285.7L500.9 276.4M484.0 371.1L474.7 363.0M484.0 371.1L483.0 373.7M471.4 364.2L472.8 363.0M472.8 363.0L474.7 363.0M484.0 371.1L487.3 368.2M474.7 363.0L484.7 354.2M484.7 354.2L490.1 360.2M487.3 368.2L490.1 360.2M582.2 284.4L582.6 296.1M566.6 287.6L566.8 295.5M566.8 295.5L572.0 298.4M572.0 298.4L582.6 296.1M598.9 289.0L596.5 298.9M596.5 298.9L591.4 300.7M591.4 300.7L582.6 296.1M401.6 523.2L398.2 525.9M401.6 523.2L402.7 523.3M400.5 537.5L399.5 535.5M411.6 533.1L410.0 528.6M398.2 525.9L399.5 535.5M402.7 523.3L410.0 528.6M632.9 429.4L637.0 425.1M632.9 429.4L635.0 436.6M635.0 436.6L641.6 437.9M641.6 437.9L645.1 434.8M645.1 434.8L644.5 428.8M637.0 425.1L644.5 428.8M493.6 526.7L480.9 528.0M493.6 526.7L494.2 524.8M494.2 524.8L484.7 510.0M480.9 528.0L475.0 518.5M475.0 518.5L477.4 511.8M477.4 511.8L483.9 509.9M483.9 509.9L484.7 510.0M468.5 522.4L468.0 523.9M468.5 522.4L475.0 518.5M468.0 523.9L472.9 537.4M473.7 537.1L472.9 537.4M473.7 537.1L480.9 528.0M679.7 457.6L672.5 462.7M679.6 470.3L671.4 466.2M672.5 462.7L671.4 466.2M676.5 448.7L679.7 457.6M677.3 495.3L678.3 487.5M677.6 432.5L674.5 430.1M672.5 445.9L671.7 446.0M667.9 431.9L674.5 430.1M667.9 431.9L665.4 439.0M665.4 439.0L671.7 446.0M635.0 436.6L629.9 442.5M641.6 437.9L644.5 448.1M644.5 448.1L644.1 448.8M631.8 448.3L629.9 442.5M631.8 448.3L637.7 450.7M637.7 450.7L644.1 448.8M652.9 459.0L657.2 455.7M652.9 459.0L653.2 466.2M663.6 466.8L661.3 457.7M663.6 466.8L655.1 467.8M653.2 466.2L655.1 467.8M657.2 455.7L661.3 457.7M668.4 468.5L671.4 466.2M668.4 468.5L663.6 466.8M672.5 462.7L667.9 455.7M661.3 457.7L667.9 455.7M671.7 446.0L668.8 448.9M667.9 455.7L668.8 448.9M459.7 334.7L465.5 338.5M459.7 334.7L458.5 318.0M465.5 338.5L468.1 326.3M468.1 326.3L458.5 318.0M461.0 344.2L454.9 341.9M461.0 344.2L466.1 339.8M466.1 339.8L465.5 338.5M459.7 334.7L452.4 334.8M452.4 334.8L454.9 341.9M461.0 344.2L459.3 348.2M451.0 351.4L453.4 352.0M451.0 351.4L447.9 345.4M454.9 341.9L447.9 345.4M451.0 351.4L444.9 356.5M444.9 356.5L437.8 352.8M437.8 352.8L438.5 343.8M438.5 343.8L445.0 343.0M447.9 345.4L445.0 343.0M419.8 364.9L424.0 361.2M424.3 374.4L433.8 370.2M424.3 374.4L423.9 374.3M433.8 370.2L429.5 360.6M423.9 374.3L420.6 370.5M424.0 361.2L429.5 360.6M388.9 120.8L388.4 111.4M388.9 120.8L378.2 121.2M378.2 110.7L378.2 121.2M222.8 111.0L214.5 112.0M209.8 107.8L214.5 112.0M214.5 112.0L210.7 121.5M224.7 135.7L212.6 134.9M224.7 135.7L225.5 123.5M225.5 123.5L224.2 122.2M224.2 122.2L213.2 124.7M222.8 111.0L224.0 112.0M224.0 112.0L224.2 122.2M235.2 136.3L238.6 148.1M235.2 136.3L226.3 137.0M226.3 137.0L224.1 150.5M238.6 148.1L236.4 150.7M236.4 150.7L224.2 150.6M224.1 150.5L224.2 150.6M224.7 135.7L226.3 137.0M225.5 123.5L236.8 123.7M237.6 133.8L236.8 123.7M237.6 133.8L235.2 136.3M213.3 149.2L224.1 150.5M224.3 161.5L224.2 150.6M224.3 161.5L210.5 161.3M611.9 235.1L605.7 226.3M611.9 235.1L599.6 239.1M595.2 234.6L599.6 239.1M595.8 230.7L601.8 225.8M605.7 226.3L601.8 225.8M648.1 206.3L639.2 209.8M648.1 206.3L644.5 196.3M639.2 209.8L634.2 202.2M644.5 196.3L636.9 195.1M634.2 202.2L634.4 196.7M634.4 196.7L636.9 195.1M627.0 210.0L634.2 202.2M636.3 214.9L636.9 214.3M636.9 214.3L639.2 209.8M620.1 225.5L622.0 219.0M620.1 225.5L608.2 223.5M622.0 219.0L610.6 218.0M608.2 223.5L610.6 218.0M622.7 218.4L622.0 219.0M620.1 232.3L620.1 225.5M612.1 235.2L611.9 235.1M605.7 226.3L608.2 223.5M612.2 206.0L607.7 210.8M612.2 206.0L612.6 206.1M607.7 210.8L610.6 218.0M610.7 187.1L610.9 194.5M610.7 187.1L603.5 180.2M599.4 191.6L599.1 184.8M599.4 191.6L603.1 195.5M603.1 195.5L609.5 196.0M599.1 184.8L602.6 180.6M609.5 196.0L610.9 194.5M602.6 180.6L603.5 180.2M606.3 176.5L603.5 180.2M613.9 184.4L611.4 177.6M613.9 184.4L610.7 187.1M606.4 168.4L599.6 161.9M595.5 160.1L599.6 161.9M595.5 160.1L593.0 161.3M593.0 161.3L597.4 176.3M597.4 176.3L602.6 180.6M531.1 209.7L537.1 201.9M527.2 194.9L533.4 196.5M537.1 201.9L533.4 196.5M520.8 180.3L522.1 192.0M520.8 180.3L527.5 176.7M525.2 192.8L531.7 185.1M531.7 185.1L527.5 176.7M514.1 202.7L507.7 204.9M517.5 193.9L507.1 186.2M498.8 193.0L507.1 186.2M498.8 193.0L498.5 200.7M498.5 200.7L507.7 204.9M498.8 193.0L493.4 188.4M507.1 186.2L508.3 180.7M493.4 188.4L492.3 178.3M492.3 178.3L504.3 177.0M504.3 177.0L508.3 180.7M520.8 180.3L513.0 178.2M515.5 166.7L515.5 166.7M527.4 168.5L528.8 174.0M527.5 176.7L528.8 174.0M515.5 166.7L513.0 178.2M513.0 178.2L508.3 180.7M493.4 188.4L481.8 189.5M491.8 177.7L492.3 178.3M491.8 177.7L482.2 177.3M481.8 189.5L482.2 177.3M495.5 201.7L481.7 200.0M495.5 201.7L498.5 200.7M481.7 200.0L481.1 190.1M498.5 200.7L498.5 200.7M481.8 189.5L481.1 190.1M481.5 200.1L481.7 200.0M481.5 200.1L470.5 200.7M470.5 200.7L469.5 189.8M469.5 189.8L471.1 188.3M481.1 190.1L471.1 188.3M557.5 232.8L553.4 223.0M542.2 226.7L544.1 236.1M542.2 226.7L547.4 222.3M547.4 222.3L553.4 223.0M563.0 231.4L563.1 223.1M574.8 227.6L569.0 221.9M563.1 223.1L569.0 221.9M553.4 223.0L557.9 219.9M563.1 223.1L557.9 219.9M580.0 221.5L580.2 219.4M580.2 219.4L572.3 213.1M572.3 213.1L568.9 215.0M569.0 221.9L568.9 215.0M525.9 214.1L526.1 219.5M534.5 213.6L530.8 211.4M534.5 213.6L538.7 225.6M538.7 225.6L534.2 226.6M526.1 219.5L534.2 226.6M512.5 218.6L522.9 213.2M512.5 218.6L520.6 228.2M526.1 219.5L520.6 228.2M515.5 258.2L518.7 252.9M521.8 263.5L529.3 254.1M518.7 252.9L529.3 254.1M537.7 258.2L531.5 252.7M531.5 252.7L529.3 254.1M500.7 244.0L494.2 238.3M500.7 244.0L492.9 252.7M491.7 239.4L494.2 238.3M491.7 239.4L490.0 248.1M490.0 248.1L492.9 252.7M508.2 252.5L508.8 246.3M508.8 246.3L505.0 243.1M505.0 243.1L500.7 244.0M501.9 257.0L492.9 253.2M492.9 253.2L492.9 252.7M487.3 267.9L480.2 263.0M487.3 267.9L491.1 261.8M480.2 263.0L485.0 256.4M491.1 261.8L490.7 255.7M485.0 256.4L490.7 255.7M476.2 264.2L480.2 263.0M476.2 264.2L477.2 270.9M487.5 273.1L477.2 270.9M487.5 273.1L487.3 267.9M499.2 268.1L491.1 261.8M499.2 268.1L487.8 273.5M487.8 273.5L487.5 273.1M499.2 268.1L500.4 268.2M492.9 253.2L490.7 255.7M480.2 212.8L482.3 214.5M480.2 212.8L481.5 200.1M495.5 201.7L485.5 214.7M482.3 214.5L485.5 214.7M610.6 246.2L609.7 254.4M610.6 246.2L600.1 245.4M609.7 254.4L600.1 255.1M598.4 247.8L600.1 245.4M598.4 247.8L599.3 253.6M599.3 253.6L600.1 255.1M612.8 258.2L609.7 254.4M612.4 244.4L610.6 246.2M599.6 239.1L600.1 245.4M598.3 262.7L600.1 255.1M587.4 246.4L598.4 247.8M588.2 254.8L599.3 253.6M643.2 287.9L653.4 279.1M645.0 267.9L653.3 272.2M653.4 279.1L653.3 272.2M649.9 253.1L657.9 256.2M657.9 256.2L655.9 270.7M653.3 272.2L655.9 270.7M642.9 329.4L645.8 332.8M637.0 339.6L628.2 332.0M637.0 339.6L640.6 339.8M630.5 327.7L628.2 332.0M645.8 332.8L644.5 337.2M640.6 339.8L644.5 337.2M652.5 345.9L644.5 337.2M652.5 345.9L651.9 348.7M640.6 349.8L647.1 352.2M640.6 349.8L640.6 339.8M647.1 352.2L651.9 348.7M642.8 387.6L639.8 383.6M642.8 387.6L633.1 392.5M639.8 383.6L632.5 380.6M633.1 392.5L630.8 388.5M630.8 388.5L631.5 380.8M631.5 380.8L632.5 380.6M589.9 138.7L577.8 145.1M595.5 160.1L598.4 150.1M593.0 161.3L591.1 161.7M591.1 161.7L577.8 145.1M570.7 132.3L575.1 144.8M575.1 144.8L577.8 145.1M570.5 132.2L558.4 134.4M558.4 134.4L555.0 142.9M557.8 148.7L566.5 153.0M575.1 144.8L566.5 153.0M591.1 161.7L589.6 162.8M566.5 153.0L567.0 156.7M567.0 156.7L582.2 162.1M582.2 162.1L589.6 162.8M613.9 184.4L619.3 183.0M619.0 175.9L621.9 180.5M621.9 180.5L619.3 183.0M610.9 194.5L618.1 193.4M619.3 183.0L618.1 193.4M622.6 202.7L625.2 195.6M612.2 206.0L609.5 196.0M618.1 193.4L625.2 195.6M634.4 196.7L625.7 195.4M625.2 195.6L625.7 195.4M641.8 154.1L645.7 150.1M641.8 154.1L648.1 167.8M645.7 150.1L653.4 156.3M653.4 156.3L652.0 166.4M652.0 166.4L649.2 168.0M649.2 168.0L648.1 167.8M666.2 148.0L663.6 154.7M646.0 145.6L645.7 150.1M663.6 154.7L653.4 156.3M650.7 176.6L649.2 168.0M650.7 176.6L658.0 179.5M658.0 179.5L661.1 176.1M661.1 176.1L660.3 168.4M660.3 168.4L652.0 166.4M650.7 176.6L646.0 180.7M646.0 180.7L638.2 177.0M640.5 169.5L638.2 177.0M640.5 169.5L648.1 167.8M491.8 177.7L493.1 168.6M493.1 168.6L493.9 168.0M504.3 177.0L502.4 168.0M493.9 168.0L502.4 168.0M515.5 166.7L505.1 164.4M505.1 164.4L502.4 168.0M516.0 154.3L504.3 157.2M513.5 145.5L503.9 143.7M503.9 143.7L504.3 157.2M505.1 164.4L503.8 157.9M504.3 157.2L503.8 157.9M493.9 168.0L493.0 156.5M503.8 157.9L493.0 156.5M515.7 120.7L503.7 121.5M515.7 120.7L516.0 121.1M515.6 132.2L506.5 132.3M506.5 132.3L503.7 121.5M503.9 143.7L503.6 143.4M503.6 143.4L504.2 135.6M506.5 132.3L504.2 135.6M515.7 120.7L517.6 111.1M526.5 123.5L528.1 122.3M528.1 122.3L526.5 110.7M674.5 212.9L673.9 212.6M678.4 223.4L669.8 226.0M673.9 212.6L666.0 215.5M666.0 215.5L666.2 223.8M669.8 226.0L666.2 223.8M640.1 225.4L646.5 221.9M636.9 214.3L645.4 215.8M645.4 215.8L646.5 221.9M644.3 233.6L650.8 232.0M650.8 232.0L650.0 221.8M650.0 221.8L646.5 221.9M239.2 296.2L238.4 285.5M239.2 296.2L252.6 298.3M252.9 288.6L253.9 297.4M252.9 288.6L239.1 284.7M239.1 284.7L238.4 285.5M253.9 297.4L252.6 298.3M225.7 298.9L237.5 298.0M225.7 298.9L224.0 287.2M237.5 298.0L239.2 296.2M224.0 287.2L238.4 285.5M225.8 163.9L224.3 161.5M225.8 163.9L223.8 170.8M210.5 161.3L213.9 172.8M223.8 170.8L213.9 172.8M213.9 172.8L212.0 175.4M416.1 364.0L415.6 363.5M419.9 352.8L424.0 361.2M419.9 352.8L413.8 353.4M413.8 353.4L415.6 363.5M402.9 369.8L410.4 370.0M402.9 369.8L402.2 368.8M402.2 368.8L404.3 363.5M404.3 363.5L411.6 362.6M415.6 363.5L411.6 362.6M402.2 353.5L404.4 352.0M402.2 353.5L404.3 363.5M411.6 362.6L408.9 351.7M404.4 352.0L408.9 351.7M413.8 353.4L409.6 351.6M409.6 351.6L408.9 351.7M416.4 383.1L413.8 382.8M416.4 383.1L423.9 374.3M414.1 374.1L411.6 381.0M411.6 381.0L413.8 382.8M402.9 369.8L404.5 380.1M411.6 381.0L404.5 380.1M402.2 368.8L394.2 368.4M394.2 368.4L390.4 381.0M390.4 381.0L401.7 382.7M404.5 380.1L401.7 382.7M438.9 458.5L439.7 452.3M439.7 452.3L433.8 449.2M429.3 458.4L434.5 466.1M429.3 458.4L429.8 452.9M429.8 452.9L433.8 449.2M433.6 415.0L427.2 415.7M433.6 415.0L438.4 418.0M427.0 424.9L427.2 415.7M427.0 424.9L431.0 426.0M438.4 418.0L439.2 423.5M431.0 426.0L439.2 423.5M502.1 383.8L502.6 377.1M502.1 383.8L490.3 387.8M489.0 380.2L488.5 387.1M489.0 380.2L502.4 377.1M502.4 377.1L502.6 377.1M488.5 387.1L490.3 387.8M482.7 389.9L488.5 387.1M483.0 374.2L489.0 380.2M487.3 368.2L502.4 377.1M490.1 360.2L496.3 359.6M507.0 373.0L502.6 377.1M507.0 373.0L506.9 372.0M496.3 359.6L506.9 372.0M477.6 468.1L478.2 467.7M477.6 468.1L472.0 467.7M478.2 467.7L481.0 462.0M472.0 467.7L470.6 459.3M481.0 462.0L476.0 455.5M470.6 459.3L476.0 455.5M418.1 533.2L420.2 524.3M428.6 533.2L428.2 529.8M428.2 529.8L420.2 524.3M410.0 528.6L416.7 522.3M416.7 522.3L420.2 524.1M420.2 524.3L420.2 524.1M436.6 534.3L439.1 524.2M448.8 527.5L443.6 522.2M448.8 527.5L447.0 535.1M444.9 536.5L447.0 535.1M443.6 522.2L439.1 524.2M428.2 529.8L431.5 521.7M439.1 524.2L431.5 521.7M469.9 493.4L465.4 498.7M469.9 493.4L469.8 485.2M469.8 485.2L454.9 483.9M454.9 483.9L458.4 495.5M458.4 495.5L465.4 498.7M481.3 495.0L483.9 509.9M481.3 495.0L469.9 493.4M477.4 511.8L465.7 504.4M465.7 504.4L465.4 498.7M428.3 488.4L430.1 483.9M428.3 488.4L417.7 489.3M430.1 483.9L419.2 476.9M419.2 476.9L413.4 482.1M413.4 482.1L413.4 483.5M417.7 489.3L413.4 483.5M379.9 488.7L375.6 493.7M379.9 488.7L389.1 490.2M375.6 493.7L379.4 499.0M389.1 490.2L392.1 497.0M379.4 499.0L392.1 497.0M237.5 298.0L240.2 313.0M247.4 311.4L240.6 313.2M247.4 311.4L252.6 298.3M240.2 313.0L240.6 313.2M225.7 298.9L224.0 301.8M224.0 301.8L225.8 310.1M225.8 310.1L228.5 313.6M240.2 313.0L228.5 313.6M229.5 574.9L232.7 575.0M225.0 569.3L229.1 564.2M229.1 564.2L236.2 564.7M232.7 575.0L236.2 564.7M250.7 578.0L241.6 574.7M237.7 577.1L241.6 574.7M255.8 570.1L250.7 578.0M229.1 564.2L228.7 554.7M218.8 555.1L223.8 551.8M223.8 551.8L228.7 554.7M672.7 507.4L666.9 510.6M666.9 510.6L666.9 514.1M666.9 514.1L670.8 520.8M680.9 514.5L670.8 520.8M678.8 572.1L673.2 576.0M678.8 572.1L670.9 563.2M670.9 563.2L665.4 563.9M665.4 563.9L664.3 573.0M666.3 575.5L664.3 573.0M620.2 314.6L618.6 315.0M620.2 314.6L621.3 300.7M618.6 315.0L605.8 304.9M621.3 300.7L615.8 295.8M615.8 295.8L605.6 304.4M605.6 304.4L605.8 304.9M629.0 315.7L620.2 314.6M636.0 311.0L636.9 307.9M630.6 299.2L621.3 300.7M616.4 292.7L615.8 295.8M596.5 298.9L605.6 304.4M458.5 548.3L455.0 546.9M458.5 548.3L466.2 538.4M455.0 546.9L453.4 537.6M453.4 537.6L460.2 534.1M466.2 538.4L460.2 534.1M461.0 553.7L458.5 548.3M449.8 547.8L455.0 546.9M470.3 555.5L474.6 553.8M474.6 553.8L472.5 537.8M472.5 537.8L466.2 538.4M447.0 535.1L453.4 537.6M444.5 545.2L445.1 546.2M458.6 528.2L460.2 534.1M458.6 528.2L455.8 526.1M455.8 526.1L448.8 527.5M458.6 528.2L468.0 523.9M472.5 537.8L472.9 537.4M441.0 552.6L431.5 554.4M439.1 565.0L435.2 562.0M435.2 562.0L431.5 554.4M430.4 548.5L431.0 554.0M431.5 554.4L431.0 554.0M396.6 564.8L400.9 574.0M396.6 564.8L401.3 562.1M401.3 562.1L407.9 568.2M407.9 568.2L405.6 572.6M405.6 572.6L401.2 574.3M400.9 574.0L401.2 574.3M314.9 575.5L319.0 572.1M319.0 572.1L325.5 576.2M492.9 301.5L499.1 315.7M492.9 301.5L479.2 303.3M478.7 309.8L479.2 303.3M478.7 309.8L495.9 318.6M495.9 318.6L499.1 315.7M493.2 322.3L480.0 323.9M493.2 322.3L495.9 318.6M477.3 314.5L480.0 323.9M477.3 314.5L478.7 309.8M500.9 276.4L495.2 281.0M487.8 273.5L488.4 278.3M495.2 281.0L488.4 278.3M469.1 353.8L470.2 354.2M469.1 353.8L466.7 340.0M470.2 354.2L481.5 348.9M481.5 348.9L476.9 340.4M466.7 340.0L476.9 340.4M465.4 354.6L469.1 353.8M472.8 363.0L470.2 354.2M466.1 339.8L466.7 340.0M483.4 350.3L484.7 354.2M483.4 350.3L481.5 348.9M480.0 334.8L479.1 325.3M480.0 334.8L476.9 340.4M479.1 325.3L468.1 326.3M541.3 378.1L542.6 366.7M541.3 378.1L547.6 383.8M547.6 383.8L559.7 379.5M543.6 365.8L555.2 370.4M543.6 365.8L542.6 366.7M559.7 379.5L555.2 370.4M563.8 379.2L559.9 379.6M563.8 379.2L576.2 363.2M559.9 379.6L559.7 379.5M576.2 363.2L561.8 360.7M561.8 360.7L555.2 370.4M633.7 399.7L633.1 392.5M633.7 399.7L629.9 401.9M629.9 401.9L622.9 396.9M630.8 388.5L622.0 391.2M622.0 391.2L622.9 396.9M623.8 410.9L614.5 400.4M623.8 410.9L613.3 411.9M608.5 402.1L612.1 400.0M608.5 402.1L608.4 407.2M608.4 407.2L613.3 411.9M614.5 400.4L612.1 400.0M547.7 283.8L547.1 286.6M530.4 282.3L536.6 296.1M547.1 286.6L536.6 296.1M523.2 299.9L527.4 301.6M523.2 299.9L512.0 306.4M527.4 301.6L527.7 319.8M527.7 319.8L513.0 322.3M512.0 306.4L507.4 316.6M513.0 322.3L507.4 316.6M516.9 289.3L523.2 299.9M536.6 296.1L535.7 298.3M535.7 298.3L527.4 301.6M529.9 321.5L527.7 319.8M529.9 321.5L529.7 333.9M510.5 336.4L524.3 340.3M510.5 336.4L513.0 322.3M529.7 333.9L524.3 340.3M561.8 360.7L557.9 351.9M543.6 365.8L543.8 353.4M557.9 351.9L543.8 353.4M572.0 298.4L573.0 308.5M591.4 300.7L585.8 315.6M573.0 308.5L585.8 315.6M514.9 356.3L527.6 350.3M514.9 356.3L526.3 370.5M528.6 368.6L526.3 370.5M528.6 368.6L528.7 350.8M528.7 350.8L527.6 350.3M514.7 375.6L507.0 373.0M514.7 375.6L523.7 375.7M523.7 375.7L526.3 370.5M506.9 372.0L514.2 356.3M514.2 356.3L514.9 356.3M528.6 384.7L541.3 378.1M528.6 384.7L523.7 375.7M542.6 366.7L528.6 368.6M543.8 353.4L541.6 351.0M541.6 351.0L528.7 350.8M529.7 333.9L543.4 339.4M524.3 340.3L527.6 350.3M543.4 339.4L541.6 351.0M503.6 350.8L506.3 349.1M503.6 350.8L489.0 346.5M506.3 349.1L506.9 339.2M506.9 339.2L496.1 335.5M489.0 346.5L495.2 336.0M496.1 335.5L495.2 336.0M496.3 359.6L503.6 350.8M514.2 356.3L506.3 349.1M483.4 350.3L489.0 346.5M510.5 336.4L506.9 339.2M493.2 322.3L496.1 335.5M499.1 315.7L507.4 316.6M480.0 334.8L495.2 336.0M480.0 323.9L479.1 325.3M402.7 523.3L410.6 517.3M416.7 522.3L415.7 520.1M410.6 517.3L415.7 520.1M478.9 573.1L481.1 571.5M481.1 571.5L491.1 577.4M474.6 553.8L480.6 556.1M480.6 556.1L484.3 562.4M481.1 571.5L484.3 562.4M473.7 537.1L487.3 541.4M480.6 556.1L486.4 548.7M487.3 541.4L486.4 548.7M493.6 526.7L495.9 535.1M487.3 541.4L495.9 535.1M481.3 495.0L489.0 488.8M489.0 488.8L498.8 498.9M484.7 510.0L498.0 502.3M498.0 502.3L499.0 499.8M498.8 498.9L499.0 499.8M494.2 524.8L498.0 522.3M498.0 502.3L503.2 514.3M498.0 522.3L503.2 514.3M665.4 563.9L660.9 560.3M664.3 573.0L655.1 573.2M655.1 573.2L654.8 564.7M654.8 564.7L660.9 560.3M670.9 563.2L675.2 556.6M679.8 557.6L675.2 556.6M668.4 468.5L667.7 477.5M681.3 473.9L671.9 482.1M667.7 477.5L671.9 482.1M678.3 487.5L672.1 482.8M671.9 482.1L672.1 482.8M652.6 445.3L658.0 449.3M652.6 445.3L654.6 436.5M663.1 439.1L658.4 449.1M663.1 439.1L654.8 436.4M658.0 449.3L658.4 449.1M654.8 436.4L654.6 436.5M652.9 459.0L647.6 456.3M644.5 448.1L652.6 445.3M644.1 448.8L647.6 456.3M657.2 455.7L658.0 449.3M645.1 434.8L654.6 436.5M665.4 439.0L663.1 439.1M668.8 448.9L658.4 449.1M637.7 450.7L636.8 458.7M647.6 456.3L640.9 463.1M636.8 458.7L640.9 463.1M653.2 466.2L644.9 468.3M644.9 468.3L641.1 464.7M640.9 463.1L641.1 464.7M412.6 266.2L408.0 276.2M412.6 266.2L417.5 276.2M417.5 276.2L413.0 279.2M413.0 279.2L408.0 276.2M452.4 334.8L449.7 333.7M445.0 343.0L449.1 333.9M449.7 333.7L449.1 333.9M428.6 343.8L430.3 354.0M428.6 343.8L422.9 343.9M430.3 354.0L421.6 349.9M421.6 349.9L422.5 344.3M422.5 344.3L422.9 343.9M437.8 352.8L432.1 356.8M438.5 343.8L434.8 341.0M434.8 341.0L428.6 343.8M432.1 356.8L430.3 354.0M419.9 352.8L421.6 349.9M429.5 360.6L431.6 358.2M431.6 358.2L432.1 356.8M413.9 343.8L409.6 351.6M413.9 343.8L422.5 344.3M434.2 324.7L437.7 330.6M434.2 324.7L429.2 324.7M429.2 324.7L427.5 332.4M437.7 330.6L434.3 335.4M434.3 335.4L427.5 332.4M423.8 320.7L429.2 324.7M423.8 320.7L431.1 315.3M431.1 315.3L436.2 318.5M436.2 318.5L434.2 324.7M434.8 341.0L434.3 335.4M441.2 329.8L449.1 333.9M441.2 329.8L437.7 330.6M420.8 332.8L427.5 332.4M420.8 332.8L422.9 343.9M261.9 299.5L268.2 285.1M261.9 299.5L253.9 297.4M252.9 288.6L255.8 283.5M268.2 285.1L255.8 283.5M420.8 332.8L419.6 331.9M419.6 331.9L419.3 331.1M421.5 320.8L423.8 320.7M421.5 320.8L419.4 323.7M419.4 323.7L419.3 331.1M225.8 163.9L237.9 162.9M236.4 150.7L238.9 161.7M238.9 161.7L237.9 162.9M306.3 111.1L317.0 111.8M318.2 110.8L317.0 111.8M305.8 111.5L306.3 120.8M317.0 111.8L316.2 121.8M316.2 121.8L306.3 120.8M387.1 184.1L378.3 184.3M387.1 184.1L387.9 194.6M378.3 184.3L376.2 193.0M376.2 193.0L377.1 194.2M377.1 194.2L387.9 194.6M408.6 163.8L408.2 171.9M408.6 163.8L398.9 161.8M398.9 161.8L397.2 163.8M397.2 163.8L400.0 171.8M408.2 171.9L400.0 171.8M387.0 173.1L387.8 183.5M387.0 173.1L388.2 172.0M387.8 183.5L397.9 183.5M388.2 172.0L397.3 174.6M397.9 183.5L397.3 174.6M388.2 172.0L389.6 164.9M397.2 163.8L389.6 164.9M397.3 174.6L400.0 171.8M337.0 112.0L337.3 112.3M337.0 112.0L337.0 100.4M346.6 110.9L337.3 112.3M388.9 120.8L389.9 121.7M389.9 121.7L388.7 131.8M378.2 121.2L377.8 121.5M388.7 131.8L378.2 130.7M377.8 121.5L378.2 130.7M387.6 162.3L389.5 153.4M387.6 162.3L378.4 161.8M378.4 161.8L378.5 152.7M378.5 152.7L388.0 151.7M388.0 151.7L389.5 153.4M367.6 111.9L369.2 121.0M367.6 111.9L358.9 111.9M358.9 111.9L357.8 121.4M357.8 121.4L366.8 123.3M366.8 123.3L369.2 121.0M369.1 110.4L367.6 111.9M377.8 121.5L369.2 121.0M358.1 110.9L358.9 111.9M347.1 111.3L349.1 121.8M357.8 121.4L356.6 122.3M349.1 121.8L356.6 122.3M357.8 132.6L356.5 140.8M357.8 132.6L357.1 131.9M347.8 141.3L356.5 140.8M347.8 141.3L347.9 132.0M347.9 132.0L357.1 131.9M357.8 132.6L367.4 132.3M367.4 132.3L366.8 123.3M356.6 122.3L357.1 131.9M237.6 133.8L250.7 135.3M236.8 123.7L238.1 122.0M238.1 122.0L249.7 123.6M250.7 135.3L249.7 123.6M601.8 225.8L598.6 218.7M607.7 210.8L606.5 210.8M606.5 210.8L598.6 218.7M589.6 225.1L592.5 215.9M598.6 218.7L592.5 215.9M632.0 159.0L628.1 150.5M632.0 159.0L631.7 160.0M631.7 160.0L626.7 163.7M628.1 150.5L622.0 145.0M620.5 164.8L614.9 155.9M620.5 164.8L626.7 163.7M622.0 145.0L615.1 151.3M615.1 151.3L614.9 155.9M638.7 142.2L628.1 150.5M641.8 154.1L632.0 159.0M640.5 169.5L631.7 160.0M621.7 134.1L622.0 145.0M619.0 166.6L620.5 164.8M599.6 161.9L614.9 155.9M604.0 146.9L615.1 151.3M542.2 160.8L542.2 171.6M528.8 174.0L535.0 174.8M542.2 171.6L535.0 174.8M565.1 163.2L561.7 166.7M565.1 163.2L572.8 169.2M561.7 166.7L565.5 178.8M572.8 169.2L577.0 176.1M565.5 178.8L577.0 176.1M544.9 159.1L556.7 167.6M556.7 167.6L561.7 166.7M567.0 156.7L565.1 163.2M582.2 162.1L572.8 169.2M476.4 231.0L471.5 230.3M476.4 231.0L481.4 227.7M471.5 230.3L472.9 222.7M472.9 222.7L480.3 222.1M481.4 227.7L480.3 222.1M463.1 221.3L469.9 217.9M463.1 221.3L462.9 225.9M469.9 217.9L472.9 222.7M462.9 225.9L468.9 231.2M468.9 231.2L471.5 230.3M480.2 212.8L472.7 212.8M470.5 200.7L469.6 201.7M469.6 201.7L472.7 212.8M469.9 217.9L472.6 212.8M482.3 214.5L480.3 222.1M472.7 212.8L472.6 212.8M471.1 188.3L470.4 180.4M470.4 180.4L470.9 179.7M482.2 177.3L481.9 177.1M481.9 177.1L470.9 179.7M408.2 171.9L408.8 172.7M398.4 183.8L397.9 183.5M398.4 183.8L407.2 182.2M407.2 182.2L408.8 172.7M457.1 256.2L455.3 259.9M457.1 256.2L456.9 248.6M447.7 248.3L452.4 247.0M447.7 248.3L444.5 257.6M455.3 259.9L453.8 260.3M444.5 257.6L453.8 260.3M452.4 247.0L456.9 248.6M534.5 213.6L542.3 212.7M537.1 201.9L544.8 201.9M542.3 212.7L544.8 201.9M542.2 226.7L538.7 225.6M547.4 222.3L546.5 216.4M542.3 212.7L546.5 216.4M562.1 214.1L558.9 216.5M562.1 214.1L554.4 202.2M558.9 216.5L552.6 209.9M552.6 209.9L552.7 203.0M554.4 202.2L552.7 203.0M557.9 219.9L558.9 216.5M564.0 213.3L568.9 215.0M564.0 213.3L562.1 214.1M546.5 216.4L552.6 209.9M545.9 201.4L544.8 201.9M545.9 201.4L552.7 203.0M534.2 226.6L529.9 231.1M520.6 228.2L520.8 232.4M529.9 231.1L520.8 232.4M541.3 240.5L536.4 241.9M529.9 231.1L536.4 241.9M531.5 252.7L531.0 246.5M536.4 241.9L531.0 246.5M476.2 264.2L472.4 261.9M485.0 256.4L478.0 252.0M472.4 261.9L472.0 256.3M478.0 252.0L472.0 256.3M457.1 256.2L462.8 257.7M462.8 257.7L469.1 254.1M459.6 247.4L456.9 248.6M459.6 247.4L466.3 249.2M466.3 249.2L469.1 254.1M462.8 257.7L466.0 265.8M466.0 265.8L472.4 261.9M469.1 254.1L472.0 256.3M481.4 244.1L478.1 251.4M481.4 244.1L480.4 241.1M480.4 241.1L479.8 240.8M479.8 240.8L471.9 242.0M478.1 251.4L470.7 245.0M471.9 242.0L470.7 245.0M490.0 248.1L481.4 244.1M478.0 252.0L478.1 251.4M486.1 237.0L491.7 239.4M486.1 237.0L480.4 241.1M467.3 236.2L468.9 231.2M467.3 236.2L471.9 242.0M476.4 231.0L479.8 240.8M466.3 249.2L470.7 245.0M467.3 236.2L462.2 238.6M459.6 247.4L462.2 238.6M486.1 237.0L486.4 233.4M481.4 227.7L482.8 228.2M486.4 233.4L482.8 228.2M670.6 309.5L674.2 322.7M670.6 309.5L680.8 309.8M674.2 322.7L681.7 311.3M648.4 299.3L656.3 300.7M656.3 300.7L656.1 316.1M642.9 316.9L653.3 317.9M653.3 317.9L656.1 316.1M645.8 332.8L651.9 330.6M653.3 317.9L651.9 330.6M665.3 315.9L672.6 323.5M665.3 315.9L658.2 317.1M672.6 323.5L661.1 322.6M658.2 317.1L661.1 322.6M674.2 322.7L673.7 323.9M673.7 323.9L683.9 324.1M669.8 309.2L665.3 315.9M669.8 309.2L670.6 309.5M672.6 323.5L673.5 324.1M673.7 323.9L673.5 324.1M673.5 324.1L672.3 329.9M672.3 329.9L678.0 336.8M662.4 244.2L668.4 242.7M662.4 244.2L657.5 241.4M668.4 242.7L666.6 234.3M657.5 241.4L657.6 232.9M666.6 234.3L657.7 232.8M657.6 232.9L657.7 232.8M662.5 255.0L665.4 256.3M662.5 255.0L662.4 244.2M673.0 243.7L668.4 242.7M673.0 243.7L674.2 252.5M674.2 252.5L665.4 256.3M657.9 256.2L662.5 255.0M649.6 246.1L657.5 241.4M650.8 232.0L657.6 232.9M670.2 231.4L666.6 234.3M670.2 231.4L669.8 226.0M666.2 223.8L659.3 227.2M659.3 227.2L657.7 232.8M659.3 227.2L653.7 220.2M653.7 220.2L650.0 221.8M645.3 377.0L639.8 383.6M645.3 377.0L645.6 371.8M632.5 380.6L640.0 371.1M645.6 371.8L640.0 371.1M625.0 181.3L626.1 184.2M625.0 181.3L630.9 177.4M626.1 184.2L636.5 188.3M630.9 177.4L636.6 178.0M636.6 178.0L636.7 187.7M636.7 187.7L636.5 188.3M621.9 180.5L625.0 181.3M625.7 195.4L626.1 184.2M626.7 163.7L630.9 177.4M636.9 195.1L636.5 188.3M638.2 177.0L636.6 178.0M646.0 180.7L646.6 184.1M646.6 184.1L636.7 187.7M493.1 168.6L481.0 166.0M481.9 177.1L480.1 166.9M481.0 166.0L480.1 166.9M505.3 109.8L503.9 111.7M503.7 121.5L503.7 121.5M503.9 111.7L503.7 121.5M503.9 111.7L492.6 110.1M470.5 109.9L472.2 111.9M472.2 111.9L480.5 111.2M540.7 114.3L537.2 123.4M540.7 114.3L553.8 123.3M537.2 123.4L540.9 130.3M540.9 130.3L552.8 126.3M553.8 123.3L552.8 126.3M540.6 110.5L540.7 114.3M528.1 122.3L537.2 123.4M561.1 114.3L553.8 123.3M540.0 133.4L540.9 130.3M558.4 134.4L552.8 126.3M663.4 213.9L655.2 215.5M663.4 213.9L662.4 203.2M655.2 215.5L650.3 208.8M657.2 203.3L662.4 203.2M657.2 203.3L649.8 207.4M649.8 207.4L650.3 208.8M666.0 215.5L663.4 213.9M653.7 220.2L655.2 215.5M673.9 212.6L673.6 210.8M673.6 210.8L665.3 201.1M665.3 201.1L664.6 201.2M664.6 201.2L662.4 203.2M645.4 215.8L650.3 208.8M648.1 206.3L649.8 207.4M663.6 154.7L665.8 160.6M660.3 168.4L665.5 164.2M665.8 160.6L665.5 164.2M665.8 160.6L680.3 158.7M670.8 168.2L665.5 164.2M670.8 168.2L679.7 165.0M672.2 177.0L670.7 178.2M672.2 177.0L675.5 177.1M675.5 177.1L678.3 186.2M670.7 178.2L669.5 185.1M669.5 185.1L678.3 186.2M661.1 176.1L670.7 178.2M670.8 168.2L672.2 177.0M683.3 175.1L675.5 177.1M224.0 301.8L212.0 301.0M212.0 301.0L213.8 287.6M224.0 287.2L223.4 286.6M223.4 286.6L213.8 287.6M225.8 310.1L212.6 313.4M212.6 341.1L214.1 347.9M214.1 347.9L213.3 353.0M424.8 389.8L416.4 383.1M424.8 389.8L426.0 389.1M424.3 374.4L428.1 381.3M426.0 389.1L428.1 381.3M433.8 370.2L434.6 370.6M437.0 378.4L428.1 381.3M437.0 378.4L437.5 376.8M434.6 370.6L437.5 376.8M414.3 335.8L412.3 341.1M414.3 335.8L408.0 333.5M412.3 341.1L404.3 339.5M408.0 333.5L404.2 335.5M404.2 335.5L404.3 339.5M419.6 331.9L414.3 335.8M413.9 343.8L412.3 341.1M409.8 329.4L419.3 331.1M409.8 329.4L408.0 333.5M404.4 352.0L403.7 340.4M403.7 340.4L404.3 339.5M388.6 382.0L388.8 389.2M388.6 382.0L379.2 378.6M379.2 378.6L376.4 393.2M388.8 389.2L379.8 396.4M379.8 396.4L376.4 393.2M366.0 392.6L376.4 393.2M366.0 392.6L368.8 379.2M379.2 378.6L378.8 378.3M368.8 379.2L378.8 378.3M433.6 415.0L436.1 406.3M436.1 406.3L428.1 406.8M427.2 415.7L425.1 413.4M428.1 406.8L425.9 410.1M425.1 413.4L425.9 410.1M390.4 381.0L388.6 382.0M401.7 382.7L402.0 392.2M388.8 389.2L392.6 392.8M402.0 392.2L392.6 392.8M379.8 396.4L380.6 400.1M389.9 402.3L380.6 400.1M389.9 402.3L391.2 401.5M391.2 401.5L392.6 392.8M433.6 448.2L427.1 441.4M433.6 448.2L439.0 440.1M439.0 440.1L435.1 435.1M427.3 438.0L427.1 441.4M427.3 438.0L434.0 434.8M434.0 434.8L435.1 435.1M445.9 436.6L442.9 427.6M445.9 436.6L444.2 439.7M444.2 439.7L439.0 440.1M442.9 427.6L435.1 435.1M423.7 433.7L427.3 438.0M423.7 433.7L424.5 426.5M424.5 426.5L427.0 424.9M431.0 426.0L434.0 434.8M439.2 423.5L443.1 426.4M443.1 426.4L442.9 427.6M478.9 400.4L479.2 401.4M468.0 398.6L467.4 400.4M467.4 400.4L473.2 412.6M473.2 412.6L475.0 412.5M479.2 401.4L475.0 412.5M467.4 400.4L459.2 407.0M473.2 412.6L469.9 414.4M459.2 407.0L469.9 414.4M463.4 394.5L455.9 397.5M455.9 397.5L457.2 407.3M459.2 407.0L457.2 407.3M457.0 468.8L466.4 468.7M457.0 468.8L454.2 474.6M454.2 474.6L455.4 477.0M455.4 477.0L467.1 476.3M467.1 476.3L468.4 469.8M468.4 469.8L466.4 468.7M461.2 459.8L455.6 463.1M461.2 459.8L462.1 460.1M455.6 463.1L457.0 468.8M462.1 460.1L466.4 468.7M451.7 473.9L454.2 474.6M447.9 462.5L450.0 460.5M450.0 460.5L455.6 463.1M438.0 475.9L436.7 480.6M454.4 483.5L455.4 477.0M454.4 483.5L445.8 486.2M445.8 486.2L436.7 480.6M470.6 483.2L467.1 476.3M470.6 483.2L469.8 485.2M454.4 483.5L454.9 483.9M470.6 483.2L481.0 479.7M477.6 468.1L481.0 479.7M472.0 467.7L468.4 469.8M462.1 460.1L467.6 458.0M470.6 459.3L467.6 458.0M489.0 488.8L489.0 485.5M481.0 479.7L485.6 481.3M489.0 485.5L485.6 481.3M452.1 450.6L454.1 442.3M452.1 450.6L449.1 452.1M447.5 451.3L444.8 440.6M447.5 451.3L449.1 452.1M444.8 440.6L454.1 442.3M450.0 460.5L449.1 452.1M461.2 459.8L459.0 451.1M459.0 451.1L452.1 450.6M439.7 452.3L447.5 451.3M433.8 449.2L433.6 448.2M444.2 439.7L444.8 440.6M467.6 458.0L466.9 451.9M476.0 455.5L476.7 451.2M476.7 451.2L472.5 448.4M472.5 448.4L466.9 451.9M459.0 451.1L460.5 450.1M460.5 450.1L466.9 451.9M420.2 524.1L428.6 517.0M415.7 520.1L421.0 512.4M421.0 512.4L428.6 517.0M431.5 521.7L428.8 517.0M428.6 517.0L428.8 517.0M535.5 457.0L535.2 450.2M535.5 457.0L526.5 456.0M526.9 449.0L526.5 456.0M526.9 449.0L532.9 448.9M532.9 448.9L535.2 450.2M543.9 444.8L548.2 437.4M543.9 444.8L541.3 444.8M543.8 430.9L548.2 437.4M543.8 430.9L539.8 431.3M541.3 444.8L534.8 437.7M539.8 431.3L534.8 437.7M493.5 432.7L496.4 434.0M493.5 432.7L486.5 434.4M496.4 434.0L497.6 441.2M486.5 434.4L484.0 440.2M484.0 440.2L494.0 443.9M494.0 443.9L497.6 441.2M429.3 458.4L423.1 460.6M434.7 467.4L420.4 469.2M420.4 469.2L423.1 460.6M430.1 483.9L435.3 481.5M436.7 480.6L435.3 481.5M419.2 476.9L418.3 470.7M420.4 469.2L418.3 470.7M405.2 479.7L413.4 482.1M405.2 479.7L403.5 462.0M418.3 470.7L403.5 462.0M345.6 570.1L346.0 575.5M345.6 570.1L350.2 567.2M346.0 575.5L356.7 574.4M352.3 567.3L350.2 567.2M352.3 567.3L356.7 574.4M356.7 574.4L356.7 574.4M325.5 576.2L334.3 570.3M334.3 570.3L337.5 579.8M359.5 560.0L358.9 558.1M359.5 560.0L352.3 567.3M358.9 558.1L352.3 553.7M350.2 567.2L345.7 556.7M352.3 553.7L345.7 556.7M356.7 574.4L355.5 580.6M359.5 560.0L361.5 561.8M356.7 574.4L362.1 573.0M362.1 573.0L361.5 561.8M412.3 576.0L405.6 572.6M401.2 574.3L400.2 579.8M362.1 573.0L368.5 576.1M398.9 551.5L392.6 559.7M396.4 545.7L393.0 545.6M393.0 545.6L386.9 550.7M386.9 550.7L386.8 551.3M386.8 551.3L392.6 559.7M396.6 564.8L392.4 563.1M389.1 573.2L400.9 574.0M389.1 573.2L388.3 565.1M388.3 565.1L392.4 563.1M401.3 562.1L406.1 555.9M392.6 559.7L392.4 563.1M399.5 535.5L386.9 535.2M393.0 545.6L385.8 537.3M386.9 535.2L385.8 537.3M199.5 455.9L214.2 454.0M214.2 454.0L212.5 441.7M405.2 479.7L400.4 483.7M413.4 483.5L409.7 489.2M409.7 489.2L400.4 483.7M389.1 490.2L393.1 481.5M393.1 481.5L400.0 483.9M392.1 497.0L393.2 497.7M393.2 497.7L400.6 495.1M400.6 495.1L400.0 483.9M401.6 523.2L398.7 511.3M398.2 525.9L390.1 525.4M398.7 511.3L390.5 516.7M390.5 516.7L390.1 525.4M386.9 535.2L388.6 526.0M390.1 525.4L388.6 526.0M225.9 332.5L223.4 323.4M225.9 332.5L212.4 332.3M223.4 323.4L214.7 324.7M214.7 324.7L211.0 328.0M226.7 334.3L225.9 332.5M226.7 334.3L236.6 328.5M225.7 321.3L236.6 328.5M225.7 321.3L223.4 323.4M228.5 313.6L225.7 321.3M212.6 313.4L214.7 324.7M214.0 339.1L212.4 332.3M214.0 339.1L212.6 341.1M366.0 392.6L365.1 393.2M380.6 400.1L376.8 406.3M376.8 406.3L367.3 406.6M365.1 393.2L367.3 406.6M262.5 564.8L261.7 556.3M273.7 561.3L268.4 552.7M268.4 552.7L261.7 556.3M307.3 564.1L315.1 566.4M314.9 555.2L316.9 555.6M316.9 555.6L315.1 566.4M308.9 546.8L309.5 545.1M317.3 542.7L322.7 547.3M322.7 547.3L319.8 555.3M316.9 555.6L319.8 555.3M319.0 572.1L319.1 571.9M319.1 571.9L315.1 566.4M309.8 528.3L306.1 523.9M309.8 528.3L314.0 527.5M314.0 527.5L316.1 517.2M306.1 523.9L306.8 518.6M306.8 518.6L313.5 516.2M316.1 517.2L313.5 516.2M304.6 534.8L309.8 528.3M304.6 534.8L307.9 537.9M319.2 533.9L318.5 534.8M319.2 533.9L319.0 532.3M319.0 532.3L314.0 527.5M319.0 532.3L327.6 523.6M319.0 516.4L316.1 517.2M319.0 516.4L325.4 518.1M327.6 523.6L325.4 518.1M319.8 504.7L314.1 502.1M319.8 504.7L319.0 516.4M314.1 502.1L309.0 507.5M309.0 507.5L313.5 516.2M304.6 534.8L299.1 534.3M299.1 534.3L297.2 529.1M306.1 523.9L297.8 526.9M297.8 526.9L297.2 529.1M300.2 516.1L306.8 518.6M300.2 516.1L296.5 518.1M297.8 526.9L296.5 518.1M302.2 548.8L296.8 545.4M299.1 534.3L297.2 536.9M297.2 536.9L296.8 545.4M290.2 552.9L292.6 547.6M296.8 545.4L292.6 547.6M283.1 554.9L279.8 549.0M279.8 549.0L284.3 542.0M292.6 547.6L284.3 542.0M239.0 558.3L245.2 551.4M239.0 558.3L240.2 562.6M240.2 562.6L243.8 565.2M245.2 551.4L251.7 559.0M243.8 565.2L250.5 564.2M250.5 564.2L251.7 559.0M240.8 544.4L245.8 546.0M240.8 544.4L238.9 544.8M245.8 546.0L245.2 551.4M238.9 544.8L233.0 554.7M233.0 554.7L239.0 558.3M236.2 564.7L240.2 562.6M233.0 554.7L228.7 554.7M241.6 574.7L243.8 565.2M255.7 568.7L250.5 564.2M261.7 556.3L257.1 554.6M257.1 554.6L251.7 559.0M223.8 551.4L229.7 541.8M223.8 551.4L219.1 544.5M219.1 544.5L217.6 539.7M217.6 539.7L227.8 535.4M229.7 541.8L228.2 535.5M228.2 535.5L227.8 535.4M223.8 551.8L223.8 551.4M238.9 544.8L229.7 541.8M210.6 546.9L219.1 544.5M210.6 536.1L217.6 539.7M211.9 531.9L221.0 529.0M221.0 529.0L227.8 535.4M240.8 544.4L239.1 534.1M239.1 534.1L233.4 531.1M233.4 531.1L228.2 535.5M590.1 538.4L596.9 538.3M590.1 538.4L587.2 541.2M596.9 538.3L599.1 546.4M587.2 541.2L590.8 545.7M599.1 546.4L590.8 545.7M596.9 538.3L602.5 533.8M607.4 544.1L605.0 535.0M607.4 544.1L602.1 550.3M599.1 546.4L602.1 550.3M602.5 533.8L605.0 535.0M655.1 573.2L651.0 577.3M416.4 546.0L420.2 556.9M406.7 555.8L409.4 557.9M420.2 556.9L409.4 557.9M431.0 554.0L422.2 558.2M420.2 556.9L422.2 558.2M407.9 568.2L410.8 565.5M410.8 565.5L409.4 557.9M389.1 573.2L387.9 575.7M374.6 572.2L368.5 576.1M374.6 572.2L381.6 578.8M495.7 282.5L491.3 292.8M495.7 282.5L505.5 291.0M502.4 296.0L493.6 300.4M502.4 296.0L505.5 291.0M493.6 300.4L491.3 292.8M513.5 286.8L505.5 291.0M495.2 281.0L495.7 282.5M492.9 301.5L493.6 300.4M512.0 306.4L502.4 296.0M608.4 407.2L602.3 412.9M613.3 411.9L611.3 419.5M611.3 419.5L611.1 419.5M611.1 419.5L603.4 416.2M602.3 412.9L603.4 416.2M606.6 426.1L611.1 419.5M606.6 426.1L599.0 425.5M603.4 416.2L599.0 425.5M622.0 391.2L619.6 389.0M622.9 396.9L614.5 400.4M612.1 400.0L613.0 390.7M619.6 389.0L613.0 390.7M631.5 380.8L626.0 377.9M626.0 377.9L620.7 382.6M619.6 389.0L620.7 382.6M626.0 377.9L624.1 372.6M624.1 372.6L617.1 370.2M617.1 370.2L615.6 370.8M620.7 382.6L611.6 380.0M615.6 370.8L611.6 380.0M628.2 332.0L622.1 335.6M618.6 315.0L611.1 326.7M622.1 335.6L611.1 326.7M605.8 304.9L599.8 319.7M585.8 315.6L586.0 316.8M586.0 316.8L599.8 319.7M566.8 295.5L559.0 299.2M573.0 308.5L563.4 317.5M563.4 317.5L562.9 317.2M559.0 299.2L562.9 317.2M547.1 286.6L558.0 299.2M559.0 299.2L558.0 299.2M535.7 298.3L546.1 307.0M558.0 299.2L546.1 307.0M548.7 333.6L560.2 335.4M548.7 333.6L543.4 339.4M558.7 350.8L557.9 351.9M558.7 350.8L561.5 337.9M561.5 337.9L560.2 335.4M417.7 489.3L415.3 495.9M409.7 489.2L409.1 493.7M415.3 495.9L409.1 493.7M400.6 495.1L403.7 496.3M400.4 483.7L400.0 483.9M403.7 496.3L409.1 493.7M393.2 497.7L392.7 505.3M392.7 505.3L398.7 511.1M398.7 511.1L407.2 507.1M403.7 496.3L407.2 507.1M410.6 517.3L410.3 508.1M398.7 511.3L398.7 511.1M407.2 507.1L410.3 508.1M635.6 412.6L637.2 420.2M635.6 412.6L627.2 408.1M637.2 420.2L627.8 417.8M627.8 417.8L624.3 415.6M624.3 415.6L624.0 410.9M627.2 408.1L624.0 410.9M639.6 400.9L643.0 407.2M639.6 400.9L633.7 399.7M629.9 401.9L627.2 408.1M643.0 407.2L635.6 412.6M630.3 428.9L627.8 417.8M630.3 428.9L632.9 429.4M637.0 425.1L637.4 420.4M637.4 420.4L637.2 420.2M623.8 410.9L624.0 410.9M611.3 419.5L619.4 423.7M619.4 423.7L624.3 415.6M637.4 420.4L645.4 417.0M643.0 407.2L647.4 410.4M647.4 410.4L645.4 417.0M639.6 400.9L642.5 398.2M642.5 398.2L650.8 401.0M650.8 401.0L652.0 409.2M647.4 410.4L652.0 409.2M650.8 401.0L653.7 396.0M653.7 396.0L661.9 399.5M661.9 399.5L662.0 400.0M662.0 400.0L655.5 409.6M652.0 409.2L655.5 409.6M666.8 412.1L670.3 404.9M666.8 412.1L657.2 411.6M670.3 404.9L662.0 400.0M657.2 411.6L655.5 409.6M484.3 562.4L496.3 562.0M486.4 548.7L495.0 550.9M496.3 562.0L495.0 550.9M495.9 535.1L498.4 536.9M498.4 536.9L501.1 544.3M495.0 550.9L501.1 544.3M518.8 464.4L516.4 466.8M518.8 464.4L527.8 468.7M516.4 466.8L518.9 480.4M518.9 480.4L527.7 478.2M527.8 468.7L527.7 478.2M535.5 457.0L536.7 458.9M526.5 456.0L518.4 460.6M518.4 460.6L518.8 464.4M536.7 458.9L531.8 467.1M527.8 468.7L531.8 467.1M541.9 471.5L542.2 459.5M541.9 471.5L537.5 471.1M536.7 458.9L542.2 459.5M531.8 467.1L537.5 471.1M552.3 499.7L542.2 499.9M552.3 499.7L552.5 501.2M552.5 501.2L545.7 511.1M545.7 511.1L542.2 508.9M542.2 508.9L542.2 499.9M513.4 501.9L519.9 494.4M513.4 501.9L515.5 513.8M519.9 494.4L523.2 494.8M523.2 494.8L529.6 502.6M526.2 512.2L517.6 515.6M526.2 512.2L529.6 503.9M529.6 503.9L529.6 502.6M515.5 513.8L517.6 515.6M498.8 498.9L509.1 484.5M499.0 499.8L513.4 501.9M509.1 484.5L513.9 485.9M513.9 485.9L519.9 494.4M503.2 514.3L515.5 513.8M533.9 517.8L526.2 512.2M533.9 517.8L539.5 509.4M539.5 509.4L529.6 503.9M539.5 509.4L542.2 508.9M542.2 499.9L539.9 498.0M539.9 498.0L529.6 502.6M552.3 499.7L554.1 496.7M539.9 490.8L539.9 498.0M539.9 490.8L548.9 489.4M548.9 489.4L554.1 496.7M590.1 538.4L588.6 525.7M587.2 541.2L587.1 541.2M588.6 525.7L587.6 525.2M587.6 525.2L582.9 526.3M582.9 526.3L579.8 536.5M587.1 541.2L579.8 536.5M491.1 577.4L501.3 570.3M496.3 562.0L501.4 564.1M501.3 570.3L501.4 564.1M544.1 392.0L547.6 383.8M544.1 392.0L542.1 392.6M528.6 384.7L528.7 387.3M542.1 392.6L528.7 387.3M610.9 434.8L619.1 443.6M610.9 434.8L611.8 432.8M611.8 432.8L620.1 428.6M623.9 440.6L619.1 443.6M623.9 440.6L621.5 429.5M621.5 429.5L620.1 428.6M605.9 438.5L610.9 434.8M605.9 438.5L606.2 446.6M606.2 446.6L616.6 448.4M616.6 448.4L619.1 443.6M619.4 423.7L620.1 428.6M606.6 426.1L611.8 432.8M617.1 449.5L624.9 455.0M617.1 449.5L616.6 448.4M624.9 455.0L631.8 448.3M629.9 442.5L623.9 440.6M630.3 428.9L621.5 429.5M666.9 510.6L662.7 507.7M666.9 514.1L660.7 518.7M662.7 507.7L654.7 508.4M660.7 518.7L652.8 518.9M654.7 508.4L652.8 518.9M630.6 501.9L637.2 494.0M630.6 501.9L635.3 507.5M635.3 507.5L640.1 507.1M640.1 507.1L643.6 497.1M643.6 497.1L637.2 494.0M646.3 496.2L650.9 499.1M646.3 496.2L643.6 497.1M650.9 499.1L652.8 507.3M643.5 509.9L652.8 507.3M643.5 509.9L640.1 507.1M614.3 477.6L618.1 477.9M614.3 477.6L608.7 480.4M608.7 480.4L606.8 488.0M606.8 488.0L613.5 492.0M613.5 492.0L621.3 484.5M621.3 484.5L618.1 477.9M616.2 498.2L616.7 504.6M616.2 498.2L625.3 492.9M616.7 504.6L621.8 505.3M621.8 505.3L629.2 501.6M629.2 501.6L625.3 492.9M605.4 498.0L615.3 497.2M605.4 498.0L609.8 505.7M609.8 505.7L614.6 506.8M615.3 497.2L616.2 498.2M614.6 506.8L616.7 504.6M629.2 517.1L621.8 505.3M629.2 517.1L635.3 507.5M630.6 501.9L629.2 501.6M644.2 556.0L639.5 562.8M644.2 556.0L648.0 557.8M648.0 557.8L650.4 563.5M639.5 562.8L645.3 567.3M650.4 563.5L645.3 567.3M637.3 550.5L630.2 555.5M637.3 550.5L643.5 553.8M643.5 553.8L644.2 556.0M630.1 560.0L630.2 555.5M630.1 560.0L634.7 563.8M634.7 563.8L639.5 562.8M654.8 564.7L650.4 563.5M655.5 554.0L648.0 557.8M655.5 554.0L660.4 556.2M660.4 556.2L660.9 560.3M651.0 577.3L645.5 573.9M645.5 573.9L645.3 567.3M655.5 554.0L652.3 548.6M660.4 556.2L664.8 550.5M664.8 550.5L659.4 544.7M659.4 544.7L652.3 548.6M644.0 535.1L651.3 540.0M644.0 535.1L639.5 536.6M639.5 536.6L641.6 542.9M641.6 542.9L649.0 545.9M651.3 540.0L649.0 545.9M643.5 553.8L649.3 547.0M652.3 548.6L649.3 547.0M637.3 550.5L637.3 549.7M637.3 549.7L641.6 542.9M649.3 547.0L649.0 545.9M657.1 487.5L669.3 486.0M657.1 487.5L660.6 495.1M661.7 495.8L660.6 495.1M661.7 495.8L665.9 494.5M665.9 494.5L669.3 486.0M650.9 499.1L660.6 495.1M662.7 507.7L661.7 495.8M652.8 507.3L654.7 508.4M673.9 498.0L665.9 494.5M672.1 482.8L669.3 486.0M656.3 486.6L664.5 478.2M656.3 486.6L654.1 485.8M654.1 485.8L651.3 479.3M664.5 478.2L655.1 474.4M655.1 474.4L651.3 479.3M667.7 477.5L664.5 478.2M657.1 487.5L656.3 486.6M646.3 496.2L648.1 490.2M648.1 490.2L654.1 485.8M655.1 467.8L655.1 474.4M644.9 468.3L643.1 477.3M643.1 477.3L651.3 479.3M479.2 303.3L477.3 301.7M477.3 301.7L478.0 294.1M491.3 292.8L482.9 285.5M478.0 294.1L482.9 285.5M488.4 278.3L482.9 283.3M482.9 285.5L482.9 283.3M455.6 307.4L464.3 300.5M455.6 307.4L450.4 301.2M464.3 300.5L463.5 292.1M463.5 292.1L450.5 287.9M450.4 301.2L450.5 287.9M421.5 320.8L418.1 312.3M431.1 315.3L430.3 307.3M430.3 307.3L425.8 304.2M418.1 312.3L425.8 304.2M451.5 329.1L443.9 323.3M451.5 329.1L458.3 317.8M458.3 317.8L458.1 316.9M458.1 316.9L454.7 311.9M454.7 311.9L447.0 314.4M447.0 314.4L445.3 316.0M445.3 316.0L443.9 323.3M441.2 329.8L443.9 323.3M449.7 333.7L451.5 329.1M458.5 318.0L458.3 317.8M477.3 314.5L458.1 316.9M477.3 301.7L464.3 300.5M455.6 307.4L454.7 311.9M436.2 318.5L445.3 316.0M435.7 306.8L430.3 307.3M435.7 306.8L447.0 314.4M315.3 288.7L315.0 289.3M315.3 288.7L323.4 286.1M328.7 296.7L326.2 298.6M328.7 296.7L329.3 293.4M326.2 298.6L320.5 297.7M315.0 289.3L320.5 297.7M329.3 293.4L323.4 286.1M384.3 307.1L389.5 310.8M384.3 307.1L379.3 299.8M389.5 310.8L394.0 308.0M394.0 308.0L394.3 304.0M394.3 304.0L386.9 295.6M379.3 299.8L386.9 295.6M408.9 327.4L414.7 323.1M408.9 327.4L401.8 323.0M401.8 323.0L409.6 319.7M414.7 323.1L409.6 319.7M409.8 329.4L408.9 327.4M419.4 323.7L414.7 323.1M396.3 326.9L401.3 323.0M396.3 326.9L404.2 335.5M401.3 323.0L401.8 323.0M401.3 323.0L401.3 311.6M401.3 311.6L402.8 310.9M402.8 310.9L411.0 310.2M412.2 311.2L411.0 310.2M412.2 311.2L409.6 319.7M418.1 312.3L412.2 311.2M213.8 287.6L211.7 286.6M223.8 170.8L224.9 172.4M212.0 175.4L216.0 186.0M224.9 172.4L224.7 186.4M224.7 186.4L216.0 186.0M211.4 190.5L216.0 186.0M224.2 238.2L225.1 226.1M224.2 238.2L223.7 238.7M223.7 238.7L213.0 239.9M225.1 226.1L213.6 226.4M213.0 239.9L213.6 226.4M327.5 122.9L326.9 132.6M327.5 122.9L326.0 121.5M326.0 121.5L317.2 123.0M325.6 133.5L326.9 132.6M325.6 133.5L316.5 131.2M316.5 131.2L317.2 123.0M326.7 111.4L326.0 121.5M316.2 121.8L317.2 123.0M316.0 163.2L305.9 163.1M316.0 163.2L316.5 152.8M307.5 153.5L316.5 152.8M307.5 153.5L305.7 163.0M305.7 163.0L305.9 163.1M316.0 163.2L316.8 164.0M305.9 163.1L306.1 173.3M306.1 173.3L315.7 173.5M316.8 164.0L315.7 173.5M317.1 144.3L316.7 152.6M317.1 144.3L325.2 142.3M316.7 152.6L326.1 154.5M325.2 142.3L327.8 144.3M327.8 144.3L328.1 152.4M328.1 152.4L326.1 154.5M336.4 133.4L326.9 132.6M336.4 133.4L337.8 141.0M337.8 141.0L337.0 142.0M337.0 142.0L327.8 144.3M325.6 133.5L325.2 142.3M305.6 151.3L307.5 153.5M305.6 151.3L296.4 151.1M296.2 161.7L305.7 163.0M296.2 161.7L295.2 152.9M296.4 151.1L295.2 152.9M286.4 173.5L286.4 182.4M286.4 173.5L294.9 172.7M294.9 172.7L296.3 173.9M296.3 173.9L295.9 184.1M295.9 184.1L286.4 182.4M296.2 161.7L295.8 162.1M295.8 162.1L294.9 172.7M306.1 173.3L306.1 173.3M306.1 173.3L296.3 173.9M295.8 162.1L285.0 163.1M286.4 173.5L285.4 172.6M285.4 172.6L285.0 163.1M274.6 238.5L273.2 225.7M274.6 238.5L260.3 238.6M260.1 238.3L260.3 238.6M260.1 238.3L265.5 225.2M265.5 225.2L273.2 225.7M296.4 184.8L306.2 183.5M296.4 184.8L295.4 193.0M295.4 193.0L296.0 194.0M296.0 194.0L306.4 195.1M306.7 183.9L306.7 194.8M306.7 183.9L306.2 183.5M306.7 194.8L306.4 195.1M306.1 173.3L306.2 183.5M295.9 184.1L296.4 184.8M408.6 163.8L409.8 162.4M398.9 161.8L398.6 154.2M409.8 162.4L408.6 153.4M408.6 153.4L398.6 154.2M389.6 164.9L387.6 162.3M389.5 153.4L398.4 154.0M398.6 154.2L398.4 154.0M460.8 121.1L469.7 121.6M460.8 121.1L459.0 110.5M469.7 121.6L470.9 120.7M472.2 111.9L470.9 120.7M327.1 111.1L337.0 112.0M378.1 130.7L367.7 132.6M378.1 130.7L378.6 141.8M378.5 141.8L378.6 141.8M378.5 141.8L368.4 140.6M368.4 140.6L367.7 132.6M378.2 130.7L378.1 130.7M367.4 132.3L367.7 132.6M368.0 151.6L377.2 151.4M368.0 151.6L367.5 141.8M377.2 151.4L378.5 141.8M367.5 141.8L368.4 140.6M367.5 141.8L357.9 142.3M357.9 142.3L356.5 140.8M346.9 130.8L348.6 122.2M346.9 130.8L337.9 131.2M348.6 122.2L337.4 121.8M337.9 131.2L336.8 122.6M337.4 121.8L336.8 122.6M349.1 121.8L348.6 122.2M347.9 132.0L346.9 130.8M347.8 141.3L346.5 142.4M336.4 133.4L337.9 131.2M346.5 142.4L337.8 141.0M337.3 112.3L337.4 121.8M327.5 122.9L336.8 122.6M274.2 152.4L274.6 143.1M274.2 152.4L284.3 152.9M274.6 143.1L284.6 142.7M284.6 142.7L284.4 152.8M284.3 152.9L284.4 152.8M295.2 152.9L284.4 152.8M284.2 162.3L285.0 163.1M284.2 162.3L284.3 152.9M265.2 142.1L265.1 152.7M265.2 142.1L252.4 142.1M252.4 142.1L250.7 146.9M264.4 153.2L265.1 152.7M264.4 153.2L252.3 150.9M250.7 146.9L252.3 150.9M273.9 152.7L265.1 152.7M273.9 152.7L274.2 152.4M274.6 143.1L274.1 142.6M265.7 141.6L274.1 142.6M265.7 141.6L265.2 142.1M238.6 148.1L250.7 146.9M250.9 135.6L250.7 135.3M250.9 135.6L252.4 142.1M250.7 158.7L263.8 164.1M250.7 158.7L252.3 150.9M263.8 164.1L264.4 153.2M249.0 160.6L238.9 161.7M249.0 160.6L250.7 158.7M296.6 110.4L294.5 112.8M295.6 122.5L304.7 122.6M295.6 122.5L295.2 122.1M304.7 122.6L306.3 120.8M295.2 122.1L294.5 112.8M224.0 112.0L237.4 111.1M238.1 122.0L237.8 111.4M591.8 215.0L599.4 206.8M591.8 215.0L586.6 212.4M586.6 212.4L586.4 211.8M586.4 211.8L592.3 202.1M592.3 202.1L597.9 203.0M597.9 203.0L599.4 206.8M606.5 210.8L599.4 206.8M592.5 215.9L591.8 215.0M580.2 219.4L586.6 212.4M580.1 205.9L574.4 207.2M580.1 205.9L586.4 211.8M572.3 213.1L574.4 207.2M586.8 194.6L586.5 194.5M586.8 194.6L592.3 202.1M580.1 205.9L582.4 196.4M586.5 194.5L582.4 196.4M586.8 194.6L599.4 191.6M603.1 195.5L597.9 203.0M551.2 176.2L554.8 181.2M551.2 176.2L547.1 176.4M547.1 176.4L541.0 185.3M554.8 181.2L554.3 187.7M554.3 187.7L544.5 189.8M544.5 189.8L540.7 186.8M541.0 185.3L540.7 186.8M540.7 186.8L540.7 186.8M556.7 167.6L551.2 176.2M565.4 179.0L554.8 181.2M565.4 179.0L565.5 178.8M542.2 171.6L547.1 176.4M535.0 174.8L541.0 185.3M533.4 196.5L540.7 186.8M545.9 201.4L544.5 189.8M531.7 185.1L540.7 186.8M577.3 176.2L585.2 172.6M577.3 176.2L577.8 182.7M577.8 182.7L586.5 187.7M585.2 172.6L589.0 178.7M589.0 178.7L589.9 183.0M589.9 183.0L586.5 187.7M589.6 162.8L585.2 172.6M577.0 176.1L577.3 176.2M565.4 179.0L566.6 186.7M566.6 186.7L574.0 187.8M574.0 187.8L577.8 182.7M586.5 194.5L586.5 187.7M582.4 196.4L576.6 194.2M574.0 187.8L576.6 194.2M597.4 176.3L589.0 178.7M599.1 184.8L589.9 183.0M571.5 204.7L564.1 206.1M571.5 204.7L570.4 197.8M570.4 197.8L560.7 194.1M564.1 206.1L557.6 200.3M557.6 200.3L560.7 194.1M560.7 194.1L560.7 194.1M574.4 207.2L571.5 204.7M564.0 213.3L564.1 206.1M576.6 194.2L570.4 197.8M566.6 186.7L560.7 194.1M554.4 202.2L557.6 200.3M554.3 187.7L560.7 194.1M459.7 177.7L459.3 177.0M459.7 177.7L457.7 189.2M459.3 177.0L448.1 178.0M448.1 178.0L449.9 188.8M457.7 189.2L449.9 188.8M469.5 189.8L459.4 190.8M470.4 180.4L459.7 177.7M459.4 190.8L457.7 189.2M436.5 155.3L437.7 167.1M436.5 155.3L436.3 155.2M436.3 155.2L424.2 158.3M424.2 158.3L423.0 162.4M424.0 166.7L436.3 168.3M424.0 166.7L423.0 162.4M437.7 167.1L436.3 168.3M447.0 156.4L446.7 167.2M447.0 156.4L436.5 155.3M437.7 167.1L446.7 167.2M451.5 228.5L442.2 228.0M451.5 228.5L451.8 220.4M442.2 228.0L441.8 222.8M441.8 222.8L450.3 218.0M451.8 220.4L450.3 218.0M446.7 176.9L447.3 167.8M446.7 176.9L437.5 179.3M436.3 168.3L436.9 178.8M446.7 167.2L447.3 167.8M437.5 179.3L436.9 178.8M434.7 264.1L439.9 268.2M434.7 264.1L433.3 257.3M433.3 257.3L436.9 256.1M436.9 256.1L444.3 257.8M444.3 257.8L443.2 266.1M439.9 268.2L443.2 266.1M445.9 247.3L447.7 248.3M445.9 247.3L438.4 248.4M444.5 257.6L444.3 257.8M438.4 248.4L436.9 256.1M449.5 268.6L453.8 260.3M449.5 268.6L443.2 266.1M439.3 270.5L430.1 272.8M439.3 270.5L439.9 268.2M434.7 264.1L429.7 267.7M430.1 272.8L429.7 267.7M441.2 276.7L439.6 277.9M441.2 276.7L439.3 270.5M439.6 277.9L429.5 278.1M429.5 278.1L429.2 274.1M430.1 272.8L429.2 274.1M429.5 278.1L426.8 284.5M426.8 284.5L426.2 284.5M426.2 284.5L419.0 276.2M419.0 276.2L422.5 271.6M429.2 274.1L422.5 271.6M425.3 227.7L425.0 222.2M425.3 227.7L431.9 232.7M425.0 222.2L429.8 220.0M432.2 221.6L429.8 220.0M432.2 221.6L437.5 229.9M431.9 232.7L437.5 229.9M442.2 228.0L440.2 229.9M441.8 222.8L440.9 221.5M440.9 221.5L432.2 221.6M440.2 229.9L437.5 229.9M448.3 237.2L451.8 240.6M448.3 237.2L451.5 228.6M451.8 240.6L456.9 234.8M456.9 234.8L455.3 229.9M451.5 228.6L455.3 229.9M445.9 247.3L441.7 239.4M452.4 247.0L451.8 240.6M441.7 239.4L442.4 237.7M442.4 237.7L448.3 237.2M451.5 228.5L451.5 228.6M442.4 237.7L440.2 229.9M462.2 238.6L456.9 234.8M462.9 225.9L455.3 229.9M463.1 221.3L461.4 219.6M461.4 219.6L451.8 220.4M440.9 221.5L439.8 213.9M449.9 215.3L450.3 218.0M449.9 215.3L440.0 213.8M440.0 213.8L439.8 213.9M429.8 220.0L433.7 212.9M439.8 213.9L433.7 212.9M402.3 228.9L402.2 229.0M402.3 228.9L411.8 232.1M402.2 229.0L403.0 238.4M411.8 232.1L405.3 240.4M405.3 240.4L403.0 238.4M419.6 238.7L414.4 242.4M419.6 238.7L418.7 234.5M413.7 231.3L418.7 234.5M413.7 231.3L411.8 232.1M405.3 240.5L414.4 242.4M405.3 240.5L405.3 240.4M396.5 248.0L394.7 238.0M396.5 248.0L403.5 247.1M394.7 238.0L403.0 238.4M403.5 247.1L405.3 240.5M387.5 215.7L398.8 213.9M387.5 215.7L390.3 223.1M395.1 223.3L390.3 223.1M395.1 223.3L400.8 217.4M398.8 213.9L401.1 215.7M401.1 215.7L400.8 217.4M404.3 225.1L402.3 228.9M404.3 225.1L400.8 217.4M402.2 229.0L399.1 228.7M399.1 228.7L395.1 223.3M399.9 202.6L398.5 193.7M399.9 202.6L397.3 205.3M397.3 205.3L389.4 204.7M398.5 193.7L388.4 195.2M388.4 195.2L387.9 202.9M387.9 202.9L389.4 204.7M387.3 215.5L387.5 215.7M387.3 215.5L389.4 204.7M398.8 213.9L397.3 205.3M387.8 183.5L387.1 184.1M398.8 193.3L398.5 193.7M398.8 193.3L398.4 183.8M387.9 194.6L388.4 195.2M518.4 233.5L511.9 245.5M518.4 233.5L520.3 233.1M520.3 233.1L525.1 243.7M525.1 243.7L518.6 247.5M511.9 245.5L518.6 247.5M520.8 232.4L520.3 233.1M531.0 246.5L525.1 243.7M518.7 252.9L518.6 247.5M508.8 246.3L511.9 245.5M494.2 238.3L497.4 230.4M486.4 233.4L496.8 229.2M497.4 230.4L496.8 229.2M505.0 243.1L505.7 234.8M497.4 230.4L505.7 234.8M518.4 233.5L510.0 232.4M510.0 232.4L505.7 234.8M654.7 331.5L661.0 330.3M654.7 331.5L657.7 342.6M661.0 330.3L665.4 332.2M665.4 332.2L663.4 342.7M657.7 342.6L663.4 342.7M656.1 316.1L658.2 317.1M651.9 330.6L654.7 331.5M661.1 322.6L661.0 330.3M652.5 345.9L657.7 342.6M672.3 329.9L665.4 332.2M672.3 296.1L672.0 287.7M672.3 296.1L663.4 299.1M672.0 287.7L665.3 283.2M663.4 299.1L661.0 298.5M661.0 298.5L660.9 285.9M660.9 285.9L665.3 283.2M674.5 296.2L681.1 291.2M674.5 296.2L672.3 296.1M674.3 285.0L681.7 286.0M674.3 285.0L672.0 287.7M669.8 309.2L663.4 299.1M681.3 304.7L674.5 296.2M656.3 300.7L661.0 298.5M653.4 279.1L660.9 285.9M685.1 245.2L673.8 243.0M681.9 233.4L676.9 236.2M673.8 243.0L676.9 236.2M670.2 231.4L676.9 236.2M673.0 243.7L673.8 243.0M675.3 273.6L674.7 266.8M675.3 273.6L673.3 277.0M673.3 277.0L671.1 278.4M674.7 266.8L667.5 265.6M669.0 278.6L671.1 278.4M669.0 278.6L662.3 270.1M662.3 270.1L667.5 265.6M682.2 275.1L675.3 273.6M682.9 283.9L673.3 277.0M674.3 285.0L671.1 278.4M665.3 283.2L669.0 278.6M655.9 270.7L662.3 270.1M665.4 256.3L667.5 265.6M678.8 263.6L676.8 254.2M676.8 254.2L679.8 253.2M674.7 266.8L678.8 263.6M674.2 252.5L676.8 254.2M645.3 377.0L649.4 384.4M642.8 387.6L646.5 389.5M649.4 384.4L646.5 389.5M642.5 398.2L646.9 390.9M653.7 396.0L651.4 392.8M651.4 392.8L646.9 390.9M646.9 390.9L646.5 389.5M645.6 371.8L648.3 370.4M654.7 381.7L649.4 384.4M654.7 381.7L652.8 372.0M648.3 370.4L652.8 372.0M647.1 352.2L646.9 359.3M653.7 350.3L658.0 359.2M653.7 350.3L651.9 348.7M646.9 359.3L648.7 361.7M648.7 361.7L658.0 359.2M661.9 399.5L665.1 392.1M651.4 392.8L661.2 386.2M665.1 392.1L661.2 386.2M654.7 381.7L660.9 384.4M661.2 386.2L660.9 384.4M672.6 404.6L676.8 398.9M672.6 404.6L670.3 404.9M665.1 392.1L674.5 391.0M676.8 398.9L674.5 391.0M678.4 411.7L677.0 418.0M677.0 418.0L681.6 419.6M672.6 404.6L678.4 411.7M676.8 398.9L681.0 399.8M670.2 418.8L674.1 419.9M670.2 418.8L666.8 412.1M674.1 419.9L677.0 418.0M674.5 430.1L674.1 419.9M492.4 131.3L494.2 123.0M492.4 131.3L491.1 132.5M491.1 132.5L481.0 132.4M494.2 123.0L491.3 120.5M491.3 120.5L483.0 121.2M481.0 132.4L480.9 123.2M480.9 123.2L483.0 121.2M504.2 135.6L492.4 131.3M503.7 121.5L494.2 123.0M491.5 110.8L491.3 120.5M480.5 111.2L483.0 121.2M470.9 120.7L480.9 123.2M481.0 144.3L492.2 143.3M481.0 144.3L483.8 156.8M492.3 156.0L494.7 145.1M492.3 156.0L483.8 156.8M494.7 145.1L492.2 143.3M503.6 143.4L494.7 145.1M493.0 156.5L492.3 156.0M482.7 158.0L481.0 166.0M482.7 158.0L483.8 156.8M491.1 132.5L492.2 143.3M448.7 110.9L447.2 122.2M447.2 122.2L447.1 122.3M447.1 122.3L436.3 121.5M435.7 110.0L435.7 121.1M436.3 121.5L435.7 121.1M460.8 121.1L460.7 121.2M460.7 121.2L447.2 122.2M448.4 131.3L447.1 122.3M448.4 131.3L459.2 132.1M460.7 121.2L459.2 132.1M448.4 131.4L437.0 134.8M448.4 131.4L449.4 144.0M449.0 144.4L449.4 144.0M449.0 144.4L437.7 143.5M437.7 143.5L436.4 135.5M437.0 134.8L436.4 135.5M448.4 131.3L448.4 131.4M436.3 121.5L437.0 134.8M459.3 132.2L458.8 143.3M459.3 132.2L459.2 132.1M458.8 143.3L449.4 144.0M448.8 155.0L458.2 157.2M448.8 155.0L449.0 144.4M458.8 143.3L460.8 144.8M460.8 144.8L458.2 157.2M447.0 156.4L448.8 155.0M436.3 155.2L436.1 145.7M436.1 145.7L437.7 143.5M436.1 145.7L425.4 144.8M425.4 144.8L428.7 134.0M428.7 134.0L436.4 135.5M409.8 162.4L423.0 162.4M424.2 158.3L420.6 150.9M408.6 153.4L409.5 152.3M420.6 150.9L409.5 152.3M425.4 144.8L421.5 146.8M420.6 150.9L421.5 146.8M409.0 122.2L409.4 112.1M409.0 122.2L398.2 120.9M409.4 112.1L399.7 112.1M398.2 120.9L399.7 112.1M389.9 121.7L397.9 121.2M397.9 121.2L398.2 120.9M397.9 109.8L399.7 112.1M428.7 134.0L423.5 129.3M421.5 146.8L418.2 142.1M418.2 142.1L419.9 132.1M423.5 129.3L419.9 132.1M661.2 195.5L653.8 194.1M661.2 195.5L662.7 187.8M658.0 185.4L662.7 187.8M658.0 185.4L650.7 190.5M653.8 194.1L650.5 191.1M650.5 191.1L650.7 190.5M664.6 201.2L661.2 195.5M657.2 203.3L653.8 194.1M665.3 201.1L672.4 196.0M672.4 196.0L668.0 187.8M668.0 187.8L662.7 187.8M658.0 179.5L658.0 185.4M668.0 187.8L669.5 185.1M646.6 184.1L650.7 190.5M644.5 196.3L650.5 191.1M681.7 190.4L676.0 196.6M677.6 199.2L676.0 196.6M672.4 196.0L676.0 196.6M673.6 210.8L677.6 199.2M229.4 352.4L229.3 340.2M229.4 352.4L226.1 354.0M226.1 354.0L224.7 353.4M224.7 353.4L223.2 348.6M223.2 348.6L224.2 340.2M224.2 340.2L226.4 339.1M226.4 339.1L229.3 340.2M214.1 347.9L223.2 348.6M213.3 353.0L219.5 355.2M219.5 355.2L224.7 353.4M214.0 339.1L224.2 340.2M226.7 334.3L226.4 339.1M229.4 352.4L237.6 351.4M226.1 354.0L227.8 360.7M227.8 360.7L239.6 354.5M237.6 351.4L239.6 354.5M436.1 406.3L439.4 403.9M438.4 418.0L441.8 414.4M441.8 414.4L443.2 406.0M439.4 403.9L443.2 406.0M439.0 387.1L433.9 389.8M439.0 387.1L440.4 387.6M440.4 387.6L442.8 394.9M433.9 389.8L436.0 399.6M442.8 394.9L438.8 402.1M436.0 399.6L438.8 402.1M437.0 378.4L439.0 387.1M426.0 389.1L433.9 389.8M424.8 389.8L422.5 395.9M422.5 395.9L426.0 399.1M426.0 399.1L436.0 399.6M450.5 395.4L442.8 394.9M450.5 395.4L446.4 405.8M439.4 403.9L438.8 402.1M443.2 406.0L446.4 405.8M426.0 399.1L428.1 406.8M451.8 391.1L446.3 386.0M451.8 391.1L459.3 385.7M446.3 386.0L448.8 380.6M448.8 380.6L454.8 378.4M454.8 378.4L460.0 379.6M460.0 379.6L459.3 385.7M451.6 394.6L450.5 395.4M451.6 394.6L451.8 391.1M440.4 387.6L446.3 386.0M462.8 391.0L459.3 385.7M455.9 397.5L451.6 394.6M437.5 376.8L443.6 376.1M443.6 376.1L448.8 380.6M463.0 377.4L460.0 379.6M457.5 363.3L451.1 371.4M457.5 363.3L458.4 363.0M451.1 371.4L454.8 378.4M447.1 370.5L446.1 371.3M447.1 370.5L445.5 362.6M446.1 371.3L437.8 368.6M437.8 368.6L442.4 363.4M442.4 363.4L445.2 362.4M445.2 362.4L445.5 362.6M451.1 371.4L447.1 370.5M443.6 376.1L446.1 371.3M457.5 363.3L445.5 362.6M434.6 370.6L437.8 368.6M431.6 358.2L442.4 363.4M444.9 356.5L445.2 362.4M394.2 368.4L390.4 364.9M378.8 378.3L380.3 364.5M390.4 364.9L380.3 364.5M402.2 353.5L396.2 353.0M390.4 364.9L396.2 353.0M396.3 326.9L393.8 327.2M389.5 310.8L385.8 321.4M394.0 308.0L401.3 311.6M393.8 327.2L385.8 321.4M374.5 300.6L376.8 299.5M374.5 300.6L373.1 310.4M384.3 307.1L374.9 313.1M379.3 299.8L376.8 299.5M373.1 310.4L374.9 313.1M410.4 394.3L404.0 394.9M410.4 394.3L417.7 398.4M404.0 394.9L401.5 403.2M414.4 405.5L417.0 401.0M414.4 405.5L408.0 409.0M401.5 403.2L404.4 410.2M417.7 398.4L417.0 401.0M408.0 409.0L404.4 410.2M413.8 382.8L410.4 394.3M402.0 392.2L404.0 394.9M422.5 395.9L417.7 398.4M391.2 401.5L401.5 403.2M421.3 413.6L425.1 413.4M421.3 413.6L414.4 405.5M425.9 410.1L417.0 401.0M418.6 415.8L408.0 409.0M418.6 415.8L421.3 413.6M429.8 452.9L423.7 451.8M427.1 441.4L421.5 444.4M421.5 444.4L423.7 451.8M423.1 460.6L417.9 455.0M423.7 451.8L417.9 455.0M403.5 462.0L402.9 461.2M402.9 461.2L412.9 454.5M417.9 455.0L412.9 454.5M421.5 444.4L416.2 443.9M412.9 454.5L415.4 444.6M416.2 443.9L415.4 444.6M418.6 415.8L414.6 421.4M402.7 414.6L403.4 415.7M402.7 414.6L404.4 410.2M403.4 415.7L414.6 421.4M424.5 426.5L415.7 424.0M415.7 424.0L414.6 421.4M448.2 417.1L452.2 408.5M448.2 417.1L450.1 423.9M456.3 421.3L452.8 424.4M456.3 421.3L456.6 412.9M456.6 412.9L455.5 408.5M450.1 423.9L452.8 424.4M452.2 408.5L455.5 408.5M441.8 414.4L448.2 417.1M446.4 405.8L452.2 408.5M443.1 426.4L450.1 423.9M467.7 418.1L456.6 412.9M467.7 418.1L466.6 421.3M466.6 421.3L456.3 421.3M457.2 407.3L455.5 408.5M467.7 418.1L469.9 414.4M479.2 401.4L484.8 404.4M475.0 412.5L478.1 414.2M478.1 414.2L482.2 412.6M484.8 404.4L482.2 412.6M593.2 382.6L586.4 384.9M593.2 382.6L590.4 374.4M590.4 374.4L582.1 373.3M582.1 373.3L580.4 379.2M586.4 384.9L580.4 379.2M577.2 362.9L576.2 363.2M577.2 362.9L577.7 363.4M563.8 379.2L572.7 383.8M577.7 363.4L582.1 373.3M580.4 379.2L572.7 383.8M485.9 433.8L474.2 430.4M485.9 433.8L483.1 422.9M481.1 422.3L483.1 422.9M481.1 422.3L474.1 428.7M474.1 428.7L474.2 430.4M478.1 414.2L481.1 422.3M466.6 421.3L467.5 423.5M467.5 423.5L474.1 428.7M489.9 470.0L489.8 471.2M489.9 470.0L492.7 466.0M489.8 471.2L501.3 479.2M492.7 466.0L504.9 474.1M504.9 474.1L504.3 478.4M504.3 478.4L501.3 479.2M478.2 467.7L489.9 470.0M485.6 481.3L489.8 471.2M489.0 485.5L501.3 479.2M507.3 470.7L516.4 466.8M507.3 470.7L504.9 474.1M509.1 484.5L504.3 478.4M518.9 480.4L513.9 485.9M482.8 449.1L476.7 451.2M482.8 449.1L483.1 441.0M483.1 441.0L479.4 440.0M472.5 448.4L471.0 443.2M471.0 443.2L479.4 440.0M486.5 434.4L485.9 433.8M483.1 441.0L484.0 440.2M474.2 430.4L474.1 430.7M479.4 440.0L474.1 430.7M439.5 496.1L446.1 490.6M439.5 496.1L438.8 497.7M438.8 497.7L448.2 501.0M446.1 490.6L450.5 497.2M450.5 497.2L448.2 501.0M445.8 486.2L446.1 490.6M435.3 481.5L439.5 496.1M458.4 495.5L450.5 497.2M434.2 501.7L434.1 500.4M434.2 501.7L442.6 508.3M434.1 500.4L438.8 497.7M448.2 501.0L448.1 504.4M448.1 504.4L442.6 508.3M434.2 501.7L431.4 506.6M431.4 506.6L431.6 513.8M431.6 513.8L441.7 513.3M442.6 508.3L441.7 513.3M443.6 522.2L444.4 517.7M431.6 513.8L428.8 517.0M441.7 513.3L444.4 517.7M541.3 444.8L535.2 450.2M532.9 448.9L530.2 439.7M534.8 437.7L531.4 437.9M530.2 439.7L531.4 437.9M534.7 426.5L526.9 431.6M534.7 426.5L539.8 431.3M531.4 437.9L526.9 431.6M482.8 449.1L489.1 452.8M481.0 462.0L488.0 459.4M489.1 452.8L488.0 459.4M494.0 443.9L490.0 452.4M489.1 452.8L490.0 452.4M492.7 466.0L492.7 465.3M488.0 459.4L492.7 465.3M358.9 558.1L366.0 550.7M352.5 545.4L352.3 553.7M352.5 545.4L358.2 542.3M366.0 550.7L365.9 549.6M365.9 549.6L358.2 542.3M380.7 547.4L382.8 538.0M380.7 547.4L377.4 548.4M377.4 548.4L371.6 541.4M382.8 538.0L375.0 535.7M375.0 535.7L371.6 540.2M371.6 540.2L371.6 541.4M386.9 550.7L380.7 547.4M385.8 537.3L382.8 538.0M373.2 529.1L381.4 523.4M373.2 529.1L375.0 535.7M381.4 523.4L388.6 526.0M365.9 549.6L371.6 541.4M360.3 537.9L358.2 542.3M360.3 537.9L371.6 540.2M381.1 558.4L382.8 564.0M381.1 558.4L374.5 554.2M373.7 554.4L374.5 554.2M373.7 554.4L369.7 563.0M382.8 564.0L375.1 570.2M375.1 570.2L369.7 563.0M386.8 551.3L381.1 558.4M388.3 565.1L382.8 564.0M377.4 548.4L374.5 554.2M366.0 550.7L373.7 554.4M361.5 561.8L369.7 563.0M374.6 572.2L375.1 570.2M235.4 366.3L227.9 362.4M235.4 366.3L223.1 371.6M227.9 362.4L219.9 367.8M223.1 371.6L219.9 367.8M219.5 355.2L217.8 367.4M227.9 362.4L227.8 360.7M219.9 367.8L217.8 367.4M213.3 367.5L217.7 367.5M217.8 367.4L217.7 367.5M214.3 454.0L214.2 454.0M214.3 454.0L224.6 456.7M224.6 456.7L227.2 455.2M212.5 441.7L225.0 440.4M227.2 455.2L225.0 440.4M313.8 380.1L302.6 375.6M313.8 380.1L314.1 380.8M314.1 380.8L312.9 388.4M302.6 375.6L300.6 378.4M300.6 378.4L302.3 390.1M302.3 390.1L312.9 388.4M278.4 297.3L280.9 298.5M278.4 297.3L266.2 303.4M266.2 303.4L266.5 309.4M266.5 309.4L272.2 312.9M272.2 312.9L282.9 307.4M282.9 307.4L280.9 298.5M285.9 322.0L286.5 311.0M285.9 322.0L277.7 322.5M272.2 312.9L277.7 322.5M282.9 307.4L286.5 311.0M286.5 311.0L294.0 307.5M282.3 298.1L280.9 298.5M282.3 298.1L292.9 301.2M294.0 307.5L292.9 301.2M329.9 352.8L314.1 355.2M329.9 352.8L330.3 365.1M327.6 367.1L330.3 365.1M327.6 367.1L318.2 366.4M314.1 355.2L317.2 365.5M318.2 366.4L317.2 365.5M336.8 350.1L330.9 350.2M336.8 350.1L343.4 354.6M330.9 350.2L329.9 352.8M335.0 365.5L343.4 354.6M335.0 365.5L330.3 365.1M302.6 368.1L301.6 369.7M302.6 368.1L317.2 365.5M301.6 369.7L302.6 375.6M313.8 380.1L318.2 366.4M365.3 486.4L358.4 496.9M365.3 486.4L363.9 479.5M358.4 496.9L355.3 496.1M355.3 496.1L350.7 486.3M363.9 479.5L363.5 479.1M350.7 486.3L363.5 479.1M347.6 471.5L354.2 470.1M347.6 471.5L348.4 485.6M350.7 486.3L348.4 485.6M363.5 479.1L362.6 477.0M354.2 470.1L362.6 477.0M391.6 478.9L392.0 474.2M391.6 478.9L379.8 481.1M392.0 474.2L380.0 468.5M379.8 481.1L376.9 478.0M376.9 478.0L379.6 468.8M380.0 468.5L379.6 468.8M393.1 481.5L391.6 478.9M402.9 461.2L402.5 461.1M402.5 461.1L392.0 474.2M379.9 488.7L379.8 481.1M375.6 493.7L375.3 493.7M365.3 486.4L375.3 493.7M363.9 479.5L376.9 478.0M368.8 467.3L362.6 477.0M368.8 467.3L379.6 468.8M402.5 461.1L402.4 461.0M402.4 461.0L397.3 459.0M380.0 468.5L382.3 458.6M397.3 459.0L382.3 458.6M367.0 458.0L368.8 467.3M367.0 458.0L380.1 456.2M380.1 456.2L382.3 458.6M376.8 406.3L381.2 414.7M366.9 407.0L367.3 406.6M366.9 407.0L364.3 418.4M381.2 414.7L365.9 420.6M364.3 418.4L365.9 420.6M367.0 458.0L362.3 455.4M354.2 470.1L357.6 456.8M357.6 456.8L362.3 455.4M335.9 429.8L328.3 431.2M335.9 429.8L338.2 420.5M328.3 431.2L326.3 413.9M338.2 420.5L326.3 413.9M340.5 368.7L335.0 365.5M340.5 368.7L338.1 379.8M327.6 367.1L328.8 377.6M338.1 379.8L328.8 377.6M314.1 380.8L326.9 380.7M326.9 380.7L328.8 377.6M297.2 529.1L287.4 527.7M297.2 536.9L286.8 537.1M287.4 527.7L286.8 537.1M284.3 542.0L284.0 539.1M286.8 537.1L284.0 539.1M268.4 552.7L269.2 549.2M255.2 546.1L257.1 554.6M255.2 546.1L260.5 545.3M260.5 545.3L269.2 549.2M279.8 549.0L271.5 547.2M271.5 547.2L269.2 549.2M245.8 546.0L250.4 543.6M239.1 534.1L243.4 532.8M243.4 532.8L250.4 543.6M255.2 546.1L251.0 543.4M250.4 543.6L251.0 543.4M325.0 564.0L322.5 557.4M325.0 564.0L334.9 566.6M322.5 557.4L331.6 554.4M331.6 554.4L338.3 560.7M338.3 560.7L336.8 565.3M336.8 565.3L334.9 566.6M319.8 555.3L322.5 557.4M319.1 571.9L325.0 564.0M334.3 570.3L334.9 566.6M345.6 570.1L336.8 565.3M345.7 556.7L343.1 556.7M343.1 556.7L338.3 560.7M355.3 496.1L347.8 499.4M347.8 499.4L345.4 497.1M348.4 485.6L343.6 487.3M345.4 497.1L343.6 487.3M335.2 504.5L328.7 510.4M335.2 504.5L333.2 499.1M333.2 499.1L326.7 498.4M328.7 510.4L322.8 503.5M322.8 503.5L326.7 498.4M345.8 506.7L347.8 499.4M345.8 506.7L342.9 509.4M342.9 509.4L335.2 504.5M345.4 497.1L334.7 497.1M334.7 497.1L333.2 499.1M319.8 504.7L322.8 503.5M325.4 518.1L327.5 515.9M327.5 515.9L328.7 510.4M221.0 529.0L222.1 524.1M233.4 531.1L233.7 528.7M233.7 528.7L230.5 524.7M222.1 524.1L230.5 524.7M215.6 518.6L220.7 520.3M215.6 518.6L211.5 521.0M220.7 520.3L222.1 524.1M296.5 518.1L290.4 515.8M284.0 524.5L287.4 527.7M284.0 524.5L287.4 517.4M287.4 517.4L290.4 515.8M300.2 516.1L302.6 507.9M290.6 511.0L290.4 515.8M290.6 511.0L295.1 504.3M295.1 504.3L302.6 507.9M309.0 507.5L304.7 507.0M302.6 507.9L304.7 507.0M266.6 457.4L273.8 456.3M266.6 457.4L263.7 466.6M276.7 471.9L263.7 466.6M276.7 471.9L279.5 468.7M279.5 468.7L273.8 456.3M276.4 443.0L276.8 453.6M276.4 443.0L278.6 440.3M278.6 440.3L288.5 442.8M288.5 442.8L287.7 455.8M276.8 453.6L287.7 455.8M620.5 576.6L611.8 574.0M611.8 574.0L606.3 577.1M634.4 573.3L639.8 575.0M634.4 573.3L632.3 574.7M632.3 574.7L631.8 585.0M645.5 573.9L639.8 575.0M634.7 563.8L634.4 573.3M623.2 563.7L630.1 560.0M623.2 563.7L623.9 573.8M623.9 573.8L632.3 574.7M620.5 576.6L623.9 573.8M417.1 567.5L421.7 564.4M417.1 567.5L416.6 573.2M421.7 564.4L426.5 568.5M416.6 573.2L424.2 578.3M426.5 568.5L427.6 571.8M424.2 578.3L427.6 571.8M422.2 558.2L421.7 564.4M410.8 565.5L417.1 567.5M412.3 576.0L416.6 573.2M435.2 562.0L426.5 568.5M437.8 572.9L427.6 571.8M598.9 425.5L594.5 423.9M598.9 425.5L599.2 435.2M594.5 423.9L587.4 431.7M587.4 431.7L594.8 436.8M599.2 435.2L596.0 436.8M596.0 436.8L594.8 436.8M605.9 438.5L599.2 435.2M599.0 425.5L598.9 425.5M627.3 368.1L628.0 361.8M627.3 368.1L638.9 369.7M628.0 361.8L636.1 359.6M638.9 369.7L637.1 360.4M636.1 359.6L637.1 360.4M640.0 371.1L638.9 369.7M624.1 372.6L627.3 368.1M646.9 359.3L637.1 360.4M648.3 370.4L648.7 361.7M640.6 349.8L636.2 352.1M636.2 352.1L636.1 359.6M617.1 370.2L617.0 362.0M628.0 361.8L625.0 358.5M625.0 358.5L617.0 362.0M602.3 373.4L609.6 369.0M602.3 373.4L597.0 368.5M609.6 369.0L606.2 357.2M597.0 368.5L596.7 366.0M596.7 366.0L600.1 356.8M606.2 357.2L600.1 356.8M615.6 370.8L609.6 369.0M609.6 356.0L617.0 362.0M609.6 356.0L606.2 357.2M590.4 374.4L597.0 368.5M577.7 363.4L596.7 366.0M608.5 386.8L608.7 381.5M608.5 386.8L602.0 390.7M608.7 381.5L602.9 377.2M602.9 377.2L595.2 383.4M595.2 383.4L597.7 390.0M602.0 390.7L597.7 390.0M613.0 390.7L608.5 386.8M611.6 380.0L608.7 381.5M608.5 402.1L606.1 401.0M606.1 401.0L602.0 390.7M602.3 373.4L602.9 377.2M593.2 382.6L595.2 383.4M590.5 395.3L585.3 389.4M590.5 395.3L593.4 395.0M593.4 395.0L597.7 390.0M586.4 384.9L585.3 389.4M593.4 395.0L597.9 402.1M606.1 401.0L597.9 402.1M611.1 326.7L610.6 326.8M599.8 319.7L602.5 323.5M610.6 326.8L602.5 323.5M546.4 309.5L551.6 316.6M546.4 309.5L531.6 321.4M551.6 316.6L546.3 327.5M531.6 321.4L546.3 327.5M562.9 317.2L551.6 316.6M546.1 307.0L546.4 309.5M529.9 321.5L531.6 321.4M548.7 333.6L546.3 327.5M563.4 317.5L566.5 324.3M566.5 324.3L560.2 335.4M586.0 316.8L583.4 322.1M602.5 323.5L592.3 334.0M583.4 322.1L592.3 334.0M566.5 324.3L577.4 325.4M583.4 322.1L577.4 325.4M416.3 497.2L416.4 506.3M416.3 497.2L428.1 493.8M428.1 493.8L429.1 495.9M429.1 495.9L420.8 505.9M420.8 505.9L418.3 507.1M418.3 507.1L416.4 506.3M415.3 495.9L416.3 497.2M410.3 508.1L416.4 506.3M428.3 488.4L428.1 493.8M434.1 500.4L429.1 495.9M431.4 506.6L420.8 505.9M421.0 512.4L418.3 507.1M649.4 425.0L649.1 422.1M649.4 425.0L656.5 429.5M649.1 422.1L658.0 417.8M656.5 429.5L660.8 426.6M660.8 426.6L661.7 422.8M661.7 422.8L658.0 417.8M644.5 428.8L649.4 425.0M645.4 417.0L649.1 422.1M654.8 436.4L656.5 429.5M657.2 411.6L658.0 417.8M667.9 431.9L660.8 426.6M670.2 418.8L661.7 422.8M517.9 545.8L507.8 549.8M517.9 545.8L525.0 556.7M507.8 549.8L505.7 561.5M505.7 561.5L518.0 564.7M518.0 564.7L524.7 561.6M525.0 556.7L525.0 561.3M525.0 561.3L524.7 561.6M501.1 544.3L507.8 549.8M501.4 564.1L505.7 561.5M516.0 576.3L518.0 564.7M527.9 577.0L524.7 561.6M539.5 544.5L541.5 545.4M539.5 544.5L525.0 556.7M541.5 545.4L540.2 565.3M540.2 565.3L525.0 561.3M517.6 455.6L514.1 450.2M517.6 455.6L524.4 447.3M514.1 450.2L514.9 443.1M524.4 447.3L523.2 443.7M523.2 443.7L518.1 441.1M514.9 443.1L518.1 441.1M526.9 449.0L524.4 447.3M518.4 460.6L518.4 460.4M518.4 460.4L517.6 455.6M530.2 439.7L523.2 443.7M514.1 526.3L517.6 516.5M514.1 526.3L515.0 532.8M517.6 516.5L527.8 526.0M527.8 526.0L521.7 537.3M515.0 532.8L520.4 537.7M521.7 537.3L520.4 537.7M498.0 522.3L514.1 526.3M517.6 515.6L517.6 516.5M498.4 536.9L515.0 532.8M533.9 517.8L534.4 518.7M533.1 524.3L534.4 518.7M533.1 524.3L527.8 526.0M535.9 539.7L538.1 531.0M535.9 539.7L521.7 537.3M533.1 524.3L538.1 531.0M517.9 545.8L520.4 537.7M535.9 539.7L539.5 544.5M610.3 468.3L615.2 462.7M610.3 468.3L606.2 467.6M612.4 458.9L615.2 462.7M612.4 458.9L607.6 457.9M606.2 467.6L607.6 457.9M532.3 486.3L530.3 481.1M532.3 486.3L536.7 487.3M530.3 481.1L536.3 476.5M536.7 487.3L542.8 479.8M542.8 479.8L536.3 476.5M527.7 478.2L530.3 481.1M523.2 494.8L532.3 486.3M539.9 490.8L536.7 487.3M537.5 471.1L536.3 476.5M548.9 489.4L551.1 483.1M542.8 479.8L545.4 478.2M551.1 483.1L545.4 478.2M541.9 471.5L545.7 473.6M545.7 473.6L545.4 478.2M576.6 499.7L571.6 491.9M576.6 499.7L573.3 505.3M565.4 498.4L568.2 506.9M565.4 498.4L569.4 492.0M573.3 505.3L568.4 507.0M569.4 492.0L571.6 491.9M568.2 506.9L568.4 507.0M552.5 501.2L558.5 509.8M555.9 496.1L554.1 496.7M555.9 496.1L565.4 498.4M568.2 506.9L558.5 509.8M605.4 498.0L599.5 495.0M615.3 497.2L613.5 492.0M606.8 488.0L600.8 491.8M599.5 495.0L600.8 491.8M602.5 533.8L601.3 529.6M588.6 525.7L596.6 524.8M601.3 529.6L596.6 524.8M609.8 505.7L600.2 507.5M614.6 506.8L613.6 516.3M613.6 516.3L609.8 517.5M609.8 517.5L601.7 515.8M600.2 507.5L601.7 515.8M597.2 497.1L599.5 495.0M597.2 497.1L597.5 505.0M600.2 507.5L597.5 505.0M601.3 529.6L607.5 524.8M596.6 524.8L599.4 518.0M607.5 524.8L609.8 517.5M601.7 515.8L599.4 518.0M587.1 541.2L582.3 547.6M579.8 536.5L574.8 537.4M582.3 547.6L574.2 545.3M574.2 545.3L574.8 537.4M501.3 570.3L504.3 575.4M554.2 427.2L545.2 428.3M554.2 427.2L555.2 418.1M555.2 418.1L546.4 417.6M545.2 428.3L544.7 418.6M544.7 418.6L546.4 417.6M543.8 430.9L545.2 428.3M548.2 437.4L554.9 437.2M554.9 437.2L556.7 436.1M556.7 436.1L557.1 431.1M557.1 431.1L554.2 427.2M565.4 420.9L565.4 425.5M565.4 420.9L558.5 416.3M558.5 416.3L555.2 418.1M565.4 425.5L557.1 431.1M534.1 416.8L544.7 418.6M534.1 416.8L534.7 426.5M559.1 410.9L551.9 403.7M559.1 410.9L564.4 407.1M564.4 407.1L565.8 402.2M565.8 402.2L558.4 394.8M551.9 403.7L553.0 397.8M553.0 397.8L558.4 394.8M558.5 416.3L559.1 410.9M546.8 406.6L546.4 417.6M546.8 406.6L551.9 403.7M565.4 420.9L566.7 420.3M566.7 420.3L572.3 411.5M572.3 411.5L564.4 407.1M544.1 392.0L553.0 397.8M546.8 406.6L538.5 404.4M538.5 404.4L542.1 392.6M559.9 379.6L559.4 392.5M559.4 392.5L558.4 394.8M580.2 411.9L581.6 418.9M580.2 411.9L586.8 406.9M591.8 420.2L595.3 410.9M591.8 420.2L582.2 419.3M582.2 419.3L581.6 418.9M586.8 406.9L594.2 409.0M594.2 409.0L595.3 410.9M566.7 420.3L577.2 421.8M577.2 421.8L581.6 418.9M577.1 410.3L572.3 411.5M577.1 410.3L580.2 411.9M602.3 412.9L595.3 410.9M594.5 423.9L591.8 420.2M585.1 432.0L582.2 419.3M585.1 432.0L587.4 431.7M575.3 430.0L584.0 433.0M575.3 430.0L577.2 421.8M585.1 432.0L584.0 433.0M586.0 400.5L590.5 395.3M586.0 400.5L586.8 406.9M597.9 402.1L594.2 409.0M582.8 438.4L584.0 433.0M582.8 438.4L575.8 438.8M575.3 430.0L570.5 432.7M570.5 432.7L575.8 438.8M565.4 425.5L570.5 432.7M570.5 432.7L570.5 432.7M556.7 436.1L564.5 439.1M570.5 432.7L564.5 439.1M613.6 516.3L615.1 517.5M629.2 517.1L629.1 517.6M615.1 517.5L627.8 518.5M627.8 518.5L628.7 518.1M629.1 517.6L628.7 518.1M637.3 549.7L631.7 542.3M639.5 536.6L634.3 534.7M634.3 534.7L633.6 535.0M631.7 542.3L633.6 535.0M627.2 552.5L630.2 555.5M627.2 552.5L625.3 547.0M631.7 542.3L625.3 547.0M616.7 545.0L618.6 543.4M616.7 545.0L614.4 555.9M614.4 555.9L627.2 552.5M625.3 547.0L618.6 543.4M651.6 520.0L643.9 516.6M651.6 520.0L651.6 527.1M648.3 528.4L651.6 527.1M648.3 528.4L640.1 524.5M643.9 516.6L639.2 520.6M640.1 524.5L639.2 520.6M643.5 509.9L643.9 516.6M652.8 518.9L651.6 520.0M644.0 535.1L648.3 528.4M634.3 534.7L634.3 534.4M634.3 534.4L640.1 524.5M629.1 517.6L639.2 520.6M634.3 534.4L628.7 518.1M637.2 494.0L635.2 490.1M625.3 492.9L626.6 488.9M626.6 488.9L635.2 490.1M621.3 484.5L625.7 487.4M626.6 488.9L625.7 487.4M648.1 490.2L639.6 483.0M635.2 490.1L639.6 483.0M643.1 477.3L639.8 479.2M639.6 483.0L639.8 479.2M610.3 468.3L614.3 477.6M615.2 462.7L616.3 462.9M618.1 477.9L621.1 474.6M621.1 474.6L616.3 462.9M617.1 449.5L612.4 458.9M624.9 455.0L625.1 459.7M616.3 462.9L625.1 459.7M636.8 458.7L627.4 461.9M625.1 459.7L627.4 461.9M659.4 544.7L658.7 539.4M651.3 540.0L655.0 538.0M655.0 538.0L658.7 539.4M651.6 527.1L653.7 528.6M655.0 538.0L653.7 528.6M660.7 518.7L660.9 527.8M653.7 528.6L660.9 527.8M477.2 270.9L473.0 276.6M482.9 283.3L475.1 280.3M473.0 276.6L475.1 280.3M478.0 294.1L470.8 286.6M475.1 280.3L470.8 286.6M463.5 292.1L464.7 288.5M464.7 288.5L470.8 286.6M444.0 299.1L440.4 289.1M444.0 299.1L439.8 300.2M439.8 300.2L432.2 294.5M440.4 289.1L436.0 288.3M436.0 288.3L432.9 289.2M432.9 289.2L432.2 294.5M450.4 301.2L444.0 299.1M450.5 287.9L449.3 285.4M449.3 285.4L440.4 289.1M435.7 306.8L439.8 300.2M425.8 304.2L425.5 303.1M425.5 303.1L432.2 294.5M450.6 280.1L449.3 285.4M450.6 280.1L441.2 276.7M439.6 277.9L436.0 288.3M426.8 284.5L432.9 289.2M426.2 284.5L420.3 287.9M425.5 303.1L422.5 300.6M422.5 300.6L420.3 287.9M417.5 276.2L419.0 276.2M413.0 279.2L414.5 287.6M420.3 287.9L414.5 287.6M407.8 276.2L402.0 281.6M407.8 276.2L399.7 268.7M402.0 281.6L395.6 279.0M395.6 279.0L399.7 268.7M404.3 301.1L399.7 298.4M404.3 301.1L411.1 300.9M399.7 298.4L400.0 293.0M400.0 293.0L404.8 289.2M411.1 300.9L412.2 299.4M412.2 299.4L410.4 290.4M404.8 289.2L410.4 290.4M402.8 310.9L404.3 301.1M394.3 304.0L399.7 298.4M411.0 310.2L411.1 300.9M422.5 300.6L412.2 299.4M414.5 287.6L410.4 290.4M407.8 276.2L408.0 276.2M402.0 281.6L404.8 289.2M278.4 297.3L278.4 297.0M278.4 297.0L282.5 285.3M282.3 298.1L289.2 291.7M282.5 285.3L289.2 291.7M296.2 294.0L292.5 290.4M296.2 294.0L296.2 297.3M296.2 297.3L292.9 301.2M289.2 291.7L292.5 290.4M315.3 288.7L311.0 278.8M311.0 278.8L307.0 278.9M304.6 290.7L302.5 282.9M304.6 290.7L308.7 293.4M308.7 293.4L315.0 289.3M307.0 278.9L302.5 282.9M296.2 294.0L304.6 290.7M292.5 290.4L293.5 281.4M302.5 282.9L293.5 281.4M352.4 316.1L354.8 322.8M352.4 316.1L344.2 310.2M344.2 310.2L343.0 310.3M343.0 310.3L334.6 322.3M334.6 322.3L335.4 324.9M354.8 322.8L351.8 326.4M335.4 324.9L351.8 326.4M331.4 319.3L316.9 320.7M331.4 319.3L328.5 311.8M328.5 311.8L323.9 308.7M316.8 320.5L316.9 320.7M316.8 320.5L321.7 309.2M321.7 309.2L323.9 308.7M343.0 310.3L337.4 304.4M334.6 322.3L331.4 319.3M337.4 304.4L328.5 311.8M328.7 296.7L337.2 302.8M337.2 302.8L337.4 304.4M326.2 298.6L323.9 308.7M320.5 297.7L311.9 303.2M321.7 309.2L313.0 306.1M313.0 306.1L311.9 303.2M308.7 293.4L308.8 300.2M311.9 303.2L308.8 300.2M296.2 297.3L303.7 302.0M308.8 300.2L303.7 302.0M294.0 307.5L298.7 309.5M303.7 302.0L298.7 309.5M337.2 302.8L340.7 299.4M329.3 293.4L338.0 287.9M338.0 287.9L342.2 290.9M340.7 299.4L342.2 290.9M348.9 215.6L347.8 223.0M348.9 215.6L356.9 214.9M347.8 223.0L356.9 224.6M356.9 214.9L358.2 223.6M356.9 224.6L358.2 223.6M371.5 263.7L369.9 270.1M371.5 263.7L369.4 261.8M369.4 261.8L359.7 262.2M369.9 270.1L362.1 270.7M359.7 262.2L362.1 270.7M395.6 279.0L393.2 279.6M400.0 293.0L393.2 290.7M393.2 290.7L393.2 279.6M386.9 295.6L387.8 293.2M393.2 290.7L387.8 293.2M376.3 262.9L380.6 267.9M376.3 262.9L371.5 263.7M369.9 270.1L373.9 276.7M373.9 276.7L380.6 267.9M376.3 262.9L380.3 256.9M369.4 261.8L369.4 255.6M369.4 255.6L372.3 251.9M372.3 251.9L372.5 251.9M372.5 251.9L380.3 256.9M392.3 250.9L385.9 244.1M392.3 250.9L391.8 255.5M391.8 255.5L387.6 258.2M387.6 258.2L381.2 256.6M381.2 256.6L382.0 246.9M385.9 244.1L382.0 246.9M372.5 251.9L377.9 246.6M380.3 256.9L381.2 256.6M382.0 246.9L377.9 246.6M224.9 172.4L238.2 176.1M226.9 188.0L224.7 186.4M226.9 188.0L235.5 185.8M235.5 185.8L238.2 176.1M249.0 160.6L252.0 173.1M237.9 162.9L239.6 174.8M252.0 173.1L249.0 175.5M249.0 175.5L239.6 174.8M239.6 174.8L238.2 176.1M226.1 200.4L226.0 200.5M226.1 200.4L226.9 188.0M212.4 198.2L226.0 200.5M225.1 226.1L226.2 224.8M226.2 224.8L220.6 212.7M213.6 226.4L212.8 225.5M212.8 225.5L213.5 213.2M213.5 213.2L220.6 212.7M249.3 252.1L262.2 250.5M249.3 252.1L250.3 269.1M262.1 261.1L254.3 269.5M262.1 261.1L263.0 251.3M263.0 251.3L262.2 250.5M250.3 269.1L252.9 270.0M252.9 270.0L254.3 269.5M248.4 251.3L248.6 239.3M248.4 251.3L249.3 252.1M252.1 236.7L248.6 239.3M252.1 236.7L260.1 238.3M260.3 238.6L262.2 250.5M275.8 250.5L263.0 251.3M275.8 250.5L276.1 250.8M276.1 250.8L274.1 264.6M274.1 264.6L262.1 261.1M276.4 240.4L274.6 238.5M276.4 240.4L275.8 250.5M240.6 270.8L239.1 284.7M240.6 270.8L250.3 269.1M255.8 283.5L252.9 270.0M223.6 255.0L222.5 269.6M223.6 255.0L228.6 251.1M228.6 251.1L235.4 251.7M238.6 269.6L223.5 270.3M238.6 269.6L236.0 252.2M236.0 252.2L235.4 251.7M223.5 270.3L222.5 269.6M212.4 250.6L223.6 255.0M212.3 269.3L222.5 269.6M223.7 238.7L228.6 251.1M224.2 238.2L237.2 236.7M238.7 238.3L237.2 236.7M238.7 238.3L235.4 251.7M240.6 270.8L238.6 269.6M223.4 286.6L223.5 270.3M248.4 251.3L236.0 252.2M248.6 239.3L238.7 238.3M307.7 142.3L314.2 141.8M307.7 142.3L306.1 141.1M306.1 141.1L305.8 131.3M314.2 141.8L316.1 131.5M316.1 131.5L306.2 130.8M306.2 130.8L305.8 131.3M305.6 151.3L307.7 142.3M316.5 152.8L316.7 152.6M317.1 144.3L314.2 141.8M316.5 131.2L316.1 131.5M304.7 122.6L306.2 130.8M348.9 215.6L346.8 213.4M337.7 224.1L337.8 214.5M337.7 224.1L344.6 226.6M344.6 226.6L347.8 223.0M346.8 213.4L337.8 214.5M316.8 164.0L324.9 163.9M326.1 154.5L326.7 161.6M326.7 161.6L324.9 163.9M296.5 141.4L296.6 133.0M296.5 141.4L295.2 142.8M295.2 142.8L285.8 141.3M295.1 131.3L296.6 133.0M295.1 131.3L285.0 132.5M285.8 141.3L284.5 132.9M285.0 132.5L284.5 132.9M306.1 141.1L296.5 141.4M305.8 131.3L296.6 133.0M296.4 151.1L295.2 142.8M284.6 142.7L285.8 141.3M295.6 122.5L295.1 131.3M285.9 123.0L295.2 122.1M285.9 123.0L285.0 132.5M274.1 142.6L275.6 131.6M275.6 131.6L284.5 132.9M289.9 235.6L290.8 234.4M289.9 235.6L276.4 240.4M273.2 225.7L273.8 225.2M290.8 234.4L290.2 230.1M290.2 230.1L285.1 225.6M285.1 225.6L273.8 225.2M294.9 204.0L287.1 205.0M294.9 204.0L296.7 205.6M296.7 205.6L296.8 214.3M287.1 205.0L285.8 214.4M285.8 214.4L286.1 214.8M286.1 214.8L296.1 215.2M296.1 215.2L296.8 214.3M296.0 194.0L294.9 204.0M306.4 195.1L306.5 204.7M306.5 204.7L296.7 205.6M306.6 204.8L307.9 214.5M306.6 204.8L306.5 204.7M307.9 214.5L296.8 214.3M285.1 225.6L286.1 214.8M273.8 225.2L275.4 213.3M275.4 213.3L285.8 214.4M297.0 223.6L290.2 230.1M297.0 223.6L296.1 215.2M307.9 214.5L308.1 214.8M305.5 224.3L297.0 223.6M305.5 224.3L305.9 223.9M308.1 214.8L305.9 223.9M418.2 142.1L408.8 140.8M419.9 132.1L409.0 131.7M409.0 131.7L408.8 140.8M397.9 121.2L399.8 131.6M409.0 122.2L409.0 122.2M409.0 122.2L408.6 131.1M408.6 131.1L399.8 131.6M409.5 152.3L406.8 142.7M408.8 140.8L406.8 142.7M460.9 202.7L464.8 211.1M460.9 202.7L458.7 202.1M458.7 202.1L453.4 205.1M464.8 211.1L460.3 215.0M460.3 215.0L453.4 209.5M453.4 205.1L453.4 209.5M469.6 201.7L460.9 202.7M472.6 212.8L464.8 211.1M459.4 190.8L458.7 202.1M461.4 219.6L460.3 215.0M449.9 215.3L453.4 209.5M450.7 203.8L443.3 206.4M450.7 203.8L453.4 205.1M440.0 213.8L443.3 206.4M424.0 166.7L422.1 173.3M436.9 178.8L429.0 178.4M429.0 178.4L422.1 173.3M408.8 172.7L421.3 173.8M422.1 173.3L421.3 173.8M448.1 178.0L446.7 176.9M449.9 188.8L448.6 189.7M437.5 179.3L437.9 187.4M437.9 187.4L448.6 189.7M450.7 203.8L447.0 197.3M448.6 189.7L447.0 197.3M426.9 200.2L427.3 198.4M426.9 200.2L433.2 205.4M427.3 198.4L435.0 192.7M433.2 205.4L437.3 202.3M437.3 202.3L438.2 197.5M435.0 192.7L438.2 197.5M423.4 209.6L422.0 203.3M423.4 209.6L432.5 210.8M422.0 203.3L426.9 200.2M432.5 210.8L433.2 205.4M443.3 206.4L437.3 202.3M432.5 210.8L433.7 212.9M447.0 197.3L438.2 197.5M435.0 191.0L437.9 187.4M435.0 191.0L435.0 192.7M418.6 255.0L415.3 257.6M418.6 255.0L427.6 254.3M425.6 264.3L420.7 266.4M425.6 264.3L428.9 255.9M415.3 257.6L414.1 263.7M428.9 255.9L427.6 254.3M420.7 266.4L414.1 263.7M429.7 267.7L425.6 264.3M422.5 271.6L420.7 266.4M433.3 257.3L428.9 255.9M412.6 266.2L412.7 264.7M412.7 264.7L414.1 263.7M422.3 244.4L421.5 239.9M422.3 244.4L427.9 251.5M421.5 239.9L430.8 239.3M427.9 251.5L433.3 243.8M430.8 239.3L433.3 242.4M433.3 243.8L433.3 242.4M419.6 238.7L421.5 239.9M417.9 250.2L414.3 245.8M417.9 250.2L422.3 244.4M414.4 242.4L414.3 245.8M417.9 250.2L418.6 255.0M427.6 254.3L427.9 251.5M418.7 234.5L425.3 227.7M431.9 232.7L430.8 239.3M438.4 248.4L433.3 243.8M441.7 239.4L433.3 242.4M420.0 214.5L412.1 211.1M420.0 214.5L421.6 220.1M421.6 220.1L413.0 223.8M412.1 211.1L408.3 213.3M412.1 223.2L413.0 223.8M412.1 223.2L408.2 213.5M408.2 213.5L408.3 213.3M423.4 209.6L420.0 214.5M422.0 203.3L418.9 202.3M418.9 202.3L413.5 204.6M413.5 204.6L412.1 211.1M425.0 222.2L421.6 220.1M413.7 231.3L413.0 223.8M413.5 204.6L409.2 200.9M403.1 203.2L409.2 200.9M403.1 203.2L408.3 213.3M404.3 225.1L412.1 223.2M401.1 215.7L408.2 213.5M403.1 203.2L399.9 202.6M403.5 247.1L403.8 247.7M414.3 245.8L408.7 251.1M403.8 247.7L408.7 251.1M415.3 257.6L409.4 252.8M408.7 251.1L409.4 252.8M408.3 264.2L403.9 257.8M408.3 264.2L399.5 267.5M399.5 267.5L398.9 266.9M398.9 266.9L396.6 258.5M403.9 257.8L400.9 256.9M396.6 258.5L400.9 256.9M412.7 264.7L408.3 264.2M409.4 252.8L403.9 257.8M399.7 268.7L399.5 267.5M403.8 247.7L400.9 256.9M396.5 248.0L392.3 250.9M391.8 255.5L396.6 258.5M393.0 237.0L392.5 233.5M393.0 237.0L386.0 242.6M392.5 233.5L387.6 228.9M386.0 242.6L380.8 236.8M380.8 236.8L382.2 229.8M382.2 229.8L387.6 228.9M394.7 238.0L393.0 237.0M399.1 228.7L392.5 233.5M385.9 244.1L386.0 242.6M390.3 223.1L387.6 228.9M373.0 239.4L377.9 246.6M373.0 239.4L380.8 236.8M387.3 215.5L380.4 215.8M380.4 215.8L377.7 226.1M377.7 226.1L382.2 229.8M482.8 228.2L492.7 223.6M496.8 229.2L496.7 228.4M492.7 223.6L496.7 228.4M485.5 214.7L491.9 219.1M492.7 223.6L491.9 219.1M498.5 200.7L497.1 215.5M491.9 219.1L497.1 215.5M682.2 366.4L676.4 361.4M676.4 361.4L676.6 356.5M676.6 356.5L683.0 350.7M665.1 344.4L672.5 344.0M665.1 344.4L664.3 351.3M672.5 344.0L673.1 353.6M673.1 353.6L665.0 353.6M664.3 351.3L665.0 353.6M663.4 342.7L665.1 344.4M679.0 340.1L672.5 344.0M653.7 350.3L664.3 351.3M676.6 356.5L673.1 353.6M660.9 384.4L665.7 378.4M674.5 390.9L674.5 391.0M674.5 390.9L674.8 383.1M665.7 378.4L674.8 383.1M674.5 390.9L685.6 389.6M674.8 383.1L678.3 380.0M470.2 132.3L469.3 133.1M470.2 132.3L480.9 132.5M469.3 133.1L469.4 144.7M480.9 132.5L480.7 144.1M480.7 144.1L470.6 145.7M470.6 145.7L469.4 144.7M469.7 121.6L470.2 132.3M459.3 132.2L469.3 133.1M481.0 132.4L480.9 132.5M460.8 144.8L469.4 144.7M481.0 144.3L480.7 144.1M482.7 158.0L470.5 154.6M470.5 154.6L470.6 145.7M469.8 155.4L458.7 157.7M469.8 155.4L471.0 167.2M470.8 167.4L471.0 167.2M470.8 167.4L460.1 167.8M458.7 157.7L459.6 167.3M459.6 167.3L460.1 167.8M470.5 154.6L469.8 155.4M458.2 157.2L458.7 157.7M480.1 166.9L471.0 167.2M470.9 179.7L470.8 167.4M459.3 177.0L460.1 167.8M447.3 167.8L459.6 167.3M409.4 112.1L410.2 111.2M418.8 121.9L423.7 126.8M418.8 121.9L419.3 111.2M429.0 122.5L424.3 109.7M429.0 122.5L423.7 126.8M423.5 129.3L423.7 126.8M409.0 122.2L418.8 121.9M409.0 131.7L408.6 131.1M435.7 121.1L429.0 122.5M261.9 299.5L266.2 303.4M247.4 311.4L250.2 313.1M266.5 309.4L266.1 309.9M250.2 313.1L266.1 309.9M247.2 394.3L237.6 391.9M247.2 394.3L253.1 378.5M253.1 378.5L252.1 377.5M236.1 390.3L237.6 391.9M236.1 390.3L236.8 382.2M252.1 377.5L236.8 382.2M235.4 366.3L237.7 367.3M223.1 371.6L226.4 376.4M226.4 376.4L233.8 376.9M233.8 376.9L237.7 367.3M252.7 352.0L240.5 355.4M252.7 352.0L249.7 368.3M240.5 355.4L240.7 365.6M240.7 365.6L249.4 368.5M249.7 368.3L249.4 368.5M239.6 354.5L240.5 355.4M237.7 367.3L240.7 365.6M252.1 377.5L249.4 368.5M236.8 382.2L233.8 376.9M229.3 340.2L234.5 341.0M237.6 351.4L237.8 349.4M234.5 341.0L237.8 349.4M348.5 368.9L353.3 361.6M348.5 368.9L352.6 380.1M353.3 361.6L364.5 366.1M352.6 380.1L364.5 376.2M364.5 376.2L364.5 366.1M340.5 368.7L348.5 368.9M343.4 354.6L350.6 354.6M350.6 354.6L352.6 357.6M352.6 357.6L353.3 361.6M368.8 379.2L364.5 376.2M380.3 364.5L379.0 362.9M364.5 366.1L368.3 363.7M368.3 363.7L379.0 362.9M352.6 357.6L365.4 352.3M368.3 363.7L365.4 352.3M377.1 330.9L383.4 321.8M377.1 330.9L369.4 331.5M369.4 331.5L364.2 323.0M364.2 323.0L376.3 317.6M383.4 321.8L376.3 317.6M364.9 311.1L361.7 322.0M364.9 311.1L373.1 310.4M374.9 313.1L376.3 317.6M361.7 322.0L364.2 323.0M385.8 321.4L383.4 321.8M402.4 461.0L402.4 443.7M415.4 444.6L405.3 441.1M402.4 443.7L405.3 441.1M412.9 428.7L406.3 432.2M412.9 428.7L418.2 435.4M418.2 435.4L416.3 438.2M416.3 438.2L406.7 434.4M406.7 434.4L406.3 432.2M403.4 415.7L402.2 429.2M415.7 424.0L412.9 428.7M402.2 429.2L406.3 432.2M423.7 433.7L418.2 435.4M416.2 443.9L416.3 438.2M405.3 441.1L406.7 434.4M526.9 431.6L525.4 431.0M518.1 441.1L518.5 436.8M518.5 436.8L525.4 431.0M508.6 441.4L502.7 444.5M508.6 441.4L507.4 431.9M496.4 434.0L503.7 429.6M502.7 444.5L497.6 441.2M507.4 431.9L503.7 429.6M508.6 441.4L514.9 443.1M518.5 436.8L513.3 431.1M507.4 431.9L513.3 431.1M534.1 416.8L531.4 414.5M538.5 404.4L532.3 407.5M531.4 414.5L532.3 407.5M528.7 387.3L523.8 394.8M532.3 407.5L523.9 397.2M523.8 394.8L523.9 397.2M573.9 388.2L580.3 391.2M573.9 388.2L571.5 393.3M580.3 391.2L580.5 398.3M571.5 393.3L572.2 399.6M580.5 398.3L574.4 400.8M574.4 400.8L572.2 399.6M585.3 389.4L580.3 391.2M572.7 383.8L573.9 388.2M559.4 392.5L571.5 393.3M586.0 400.5L580.5 398.3M565.8 402.2L572.2 399.6M577.1 410.3L574.4 400.8M468.3 437.3L468.9 441.3M468.3 437.3L460.0 433.3M468.9 441.3L462.1 444.9M462.1 444.9L456.3 439.0M456.3 439.0L456.3 434.9M460.0 433.3L457.2 433.5M456.3 434.9L457.2 433.5M471.0 443.2L468.9 441.3M474.1 430.7L468.3 437.3M467.5 423.5L460.0 433.3M460.5 450.1L462.1 444.9M454.1 442.3L456.3 439.0M445.9 436.6L456.3 434.9M452.8 424.4L457.2 433.5M465.7 504.4L451.0 506.6M465.7 504.4L460.2 515.1M451.0 506.6L452.8 514.9M460.2 515.1L457.2 516.5M457.2 516.5L452.8 514.9M465.7 504.4L465.7 504.4M448.1 504.4L451.0 506.6M468.5 522.4L460.2 515.1M444.4 517.7L452.8 514.9M455.8 526.1L457.2 516.5M499.0 454.0L500.0 460.3M499.0 454.0L503.2 450.2M503.2 450.2L505.7 451.6M505.7 451.6L508.0 457.8M508.0 457.8L503.5 461.8M503.5 461.8L500.0 460.3M490.0 452.4L499.0 454.0M492.7 465.3L500.0 460.3M502.7 444.5L503.2 450.2M514.1 450.2L505.7 451.6M518.4 460.4L508.0 457.8M507.3 470.7L503.5 461.8M339.3 545.1L335.9 536.6M339.3 545.1L338.9 545.9M338.9 545.9L332.6 547.8M332.6 547.8L327.0 544.8M327.0 544.8L327.5 538.0M327.5 538.0L332.7 534.5M332.7 534.5L335.9 536.6M352.5 545.4L347.6 542.2M347.6 542.2L339.3 545.1M343.1 556.7L338.9 545.9M331.6 554.4L332.6 547.8M322.7 547.3L327.0 544.8M319.2 533.9L327.5 538.0M327.6 523.6L332.8 527.1M332.8 527.1L332.7 534.5M371.4 508.5L368.1 511.0M371.4 508.5L368.2 500.2M368.1 511.0L359.8 501.7M368.2 500.2L360.1 499.4M360.1 499.4L359.8 501.7M375.3 493.7L368.2 500.2M358.4 496.9L360.1 499.4M345.8 506.7L356.5 508.5M356.5 508.5L359.8 501.7M366.2 513.9L370.4 518.4M366.2 513.9L359.5 516.1M359.0 517.0L362.3 526.4M359.0 517.0L359.5 516.1M370.4 518.4L370.7 527.8M370.7 527.8L363.4 528.0M363.4 528.0L362.3 526.4M356.5 508.5L359.5 516.1M368.1 511.0L366.2 513.9M373.2 529.1L370.7 527.8M359.7 534.2L363.4 528.0M359.7 534.2L360.3 537.9M379.5 505.6L384.2 509.3M379.5 505.6L372.5 508.5M372.5 508.5L377.1 517.1M384.2 509.3L384.1 511.5M384.1 511.5L380.2 518.3M380.2 518.3L377.1 517.1M379.4 499.0L379.5 505.6M392.7 505.3L384.2 509.3M371.4 508.5L372.5 508.5M370.4 518.4L377.1 517.1M390.5 516.7L384.1 511.5M381.4 523.4L380.2 518.3M226.4 376.4L223.8 379.6M217.7 367.5L217.5 379.0M223.8 379.6L217.5 379.0M217.5 379.0L211.3 382.2M226.1 478.0L221.9 469.5M226.1 478.0L233.7 481.8M221.9 469.5L235.8 469.5M233.7 481.8L234.2 481.1M234.2 481.1L236.3 470.0M235.8 469.5L236.3 470.0M224.6 456.7L221.4 469.0M221.4 469.0L221.9 469.5M227.2 455.2L233.9 456.1M233.9 456.1L235.8 469.5M221.4 469.0L215.7 470.6M226.1 478.0L219.1 483.4M219.1 483.4L215.7 470.6M239.2 440.4L225.7 439.6M239.2 440.4L240.3 428.9M240.3 428.9L239.1 427.8M239.1 427.8L225.6 432.3M225.7 439.6L225.6 432.3M233.9 456.1L237.4 454.7M225.0 440.4L225.7 439.6M237.4 454.7L240.7 442.4M240.7 442.4L239.2 440.4M250.7 430.5L248.4 442.4M250.7 430.5L247.7 428.6M240.7 442.4L248.4 442.4M247.7 428.6L240.3 428.9M226.7 419.5L223.0 428.4M226.7 419.5L236.3 417.8M223.0 428.4L225.6 432.3M236.3 417.8L239.1 427.8M210.4 430.9L215.2 427.5M215.2 427.5L223.0 428.4M224.6 497.5L222.4 489.4M224.6 497.5L220.1 499.1M220.1 499.1L211.8 493.2M222.4 489.4L217.7 486.0M217.7 486.0L211.7 486.8M233.8 482.5L222.4 489.4M233.8 482.5L233.7 481.8M219.1 483.4L217.7 486.0M214.3 507.0L207.2 505.6M214.3 507.0L220.1 499.1M215.3 508.4L215.6 518.6M215.3 508.4L214.3 507.0M316.3 341.2L313.1 353.9M316.3 341.2L302.7 338.4M302.7 338.4L300.8 354.7M313.1 353.9L300.8 354.7M300.8 354.7L300.8 354.7M330.9 350.2L326.1 340.5M314.1 355.2L313.1 353.9M326.1 340.5L317.5 340.4M317.5 340.4L316.3 341.2M301.7 337.4L301.3 327.6M301.7 337.4L302.7 338.4M301.3 327.6L315.7 328.8M317.5 340.4L315.7 328.8M302.6 368.1L300.8 354.7M301.6 369.7L288.9 368.5M288.9 368.5L292.6 354.3M292.6 354.3L300.8 354.7M315.2 400.1L315.3 391.6M315.2 400.1L328.8 404.8M315.3 391.6L328.6 390.0M328.8 404.8L330.1 404.0M330.1 404.0L329.4 390.7M328.6 390.0L329.4 390.7M312.9 388.4L315.3 391.6M326.9 380.7L328.6 390.0M296.0 323.4L300.6 326.0M296.0 323.4L299.1 310.2M300.6 326.0L309.9 317.2M299.1 310.2L309.0 313.4M309.9 317.2L309.0 313.4M285.9 322.0L287.9 323.4M287.9 323.4L296.0 323.4M298.7 309.5L299.1 310.2M301.3 327.6L300.6 326.0M315.7 328.8L317.1 326.0M317.1 326.0L316.9 320.7M316.8 320.5L309.9 317.2M313.0 306.1L309.0 313.4M366.4 442.2L352.7 438.4M366.4 442.2L366.9 441.9M366.9 441.9L366.5 427.0M366.5 427.0L351.8 432.2M352.7 438.4L351.8 432.2M350.6 404.7L338.1 405.4M350.6 404.7L351.9 417.2M338.1 405.4L340.1 418.7M340.1 418.7L351.3 417.9M351.9 417.2L351.3 417.9M350.8 404.4L366.9 407.0M350.8 404.4L350.6 404.7M364.3 418.4L351.9 417.2M336.7 404.6L330.1 404.0M336.7 404.6L338.1 405.4M338.2 420.5L340.1 418.7M325.8 413.3L326.3 413.9M325.8 413.3L328.8 404.8M335.9 429.8L336.1 430.0M336.1 430.0L350.9 431.2M350.9 431.2L351.3 417.9M365.9 420.6L367.1 426.0M366.5 427.0L367.1 426.0M351.8 432.2L350.9 431.2M340.0 382.3L337.0 388.8M340.0 382.3L352.0 381.5M352.0 381.5L353.9 392.1M341.2 392.9L337.0 388.8M341.2 392.9L352.8 393.4M353.9 392.1L352.8 393.4M338.1 379.8L340.0 382.3M329.4 390.7L337.0 388.8M352.6 380.1L352.0 381.5M365.1 393.2L353.9 392.1M336.7 404.6L341.2 392.9M350.8 404.4L352.8 393.4M284.0 524.5L278.3 526.3M284.0 539.1L278.1 536.0M278.3 526.3L278.1 536.0M260.5 545.3L265.5 534.8M271.5 547.2L271.6 539.3M265.5 534.8L271.6 539.3M278.1 536.0L271.6 539.3M290.6 511.0L283.1 504.7M287.4 517.4L278.1 511.7M278.1 511.7L283.1 504.7M251.0 543.4L255.4 533.2M265.5 534.8L265.3 534.5M255.4 533.2L265.3 534.5M243.4 532.8L247.1 528.6M255.4 533.2L253.1 528.5M247.1 528.6L253.1 528.5M233.7 528.7L240.5 522.4M247.1 528.6L240.5 522.4M334.7 497.1L335.8 489.5M343.6 487.3L340.2 486.5M340.2 486.5L335.8 489.5M321.1 490.0L321.2 489.6M321.1 490.0L326.7 498.4M335.8 489.5L328.3 486.3M321.2 489.6L328.3 486.3M220.7 520.3L223.7 517.7M230.5 524.7L230.4 518.8M230.4 518.8L223.7 517.7M215.3 508.4L224.8 510.4M223.7 517.7L224.8 510.4M215.2 427.5L213.4 414.4M226.7 419.5L221.7 414.8M221.7 414.8L213.4 414.4M262.4 467.5L260.8 477.3M262.4 467.5L249.8 464.2M260.8 477.3L249.2 478.0M249.8 464.2L246.9 469.4M246.9 469.4L248.7 477.4M249.2 478.0L248.7 477.4M236.3 470.0L246.9 469.4M248.2 458.6L237.4 454.7M248.2 458.6L249.8 464.2M234.2 481.1L248.7 477.4M314.1 502.1L313.0 496.4M304.7 507.0L304.1 498.7M304.1 498.7L313.0 496.4M321.1 490.0L313.1 496.1M313.0 496.4L313.1 496.1M316.4 473.1L317.9 478.9M316.4 473.1L311.7 472.7M311.7 472.7L303.5 480.9M317.3 483.2L317.9 478.9M317.3 483.2L305.1 485.6M303.5 480.9L305.1 485.6M321.2 489.6L317.3 483.2M313.1 496.1L304.6 486.9M305.1 485.6L304.6 486.9M279.5 468.7L286.2 466.7M273.8 456.3L276.8 453.6M287.7 455.8L288.6 456.8M286.2 466.7L288.6 456.8M312.6 455.9L303.7 457.0M312.6 455.9L319.2 469.7M316.4 473.1L319.2 469.7M311.7 472.7L302.9 465.3M302.9 465.3L303.7 457.0M540.5 583.4L542.3 573.3M554.4 578.6L542.3 573.3M528.6 577.2L541.2 568.9M542.3 573.3L541.2 568.9M540.2 565.3L541.5 566.5M541.5 566.5L541.2 568.9M681.0 525.2L675.9 527.2M682.7 538.4L677.0 536.1M677.0 536.1L675.9 527.2M658.7 539.4L664.4 536.8M660.9 527.8L664.5 529.3M664.4 536.8L664.5 529.3M670.8 520.8L672.0 525.0M664.5 529.3L672.0 525.0M672.0 525.0L675.9 527.2M665.6 550.2L670.1 540.6M665.6 550.2L673.8 553.6M673.8 553.6L677.1 547.9M677.1 547.9L672.4 540.1M670.1 540.6L672.4 540.1M664.8 550.5L665.6 550.2M664.4 536.8L670.1 540.6M675.2 556.6L673.8 553.6M683.2 547.0L677.1 547.9M677.0 536.1L672.4 540.1M618.7 562.4L614.2 556.1M618.7 562.4L612.4 569.9M612.4 569.9L606.3 561.2M614.2 556.1L606.8 557.0M606.8 557.0L606.3 561.2M623.2 563.7L618.7 562.4M614.4 555.9L614.2 556.1M611.8 574.0L612.4 569.9M606.3 577.1L602.4 574.7M602.4 574.7L600.1 569.1M600.1 569.1L606.3 561.2M616.7 545.0L607.4 544.1M602.1 550.3L601.9 553.1M601.9 553.1L606.8 557.0M624.6 354.5L616.3 347.1M624.6 354.5L631.9 349.8M630.8 345.5L621.5 340.2M630.8 345.5L631.9 349.8M621.5 340.2L616.3 347.1M625.0 358.5L624.6 354.5M616.1 347.2L616.3 347.1M616.1 347.2L609.6 356.0M636.2 352.1L631.9 349.8M637.0 339.6L630.8 345.5M622.1 335.6L621.5 340.2M616.1 347.2L604.3 339.6M610.6 326.8L604.3 339.6M604.3 339.6L596.6 342.2M592.3 334.0L592.8 339.9M596.6 342.2L592.8 339.9M600.1 356.8L598.8 355.3M596.6 342.2L598.8 355.3M577.2 362.9L579.0 356.5M598.8 355.3L579.0 356.5M581.1 498.1L579.3 489.1M581.1 498.1L584.6 500.1M584.6 500.1L591.1 495.8M591.1 495.8L585.6 487.4M579.3 489.1L585.6 487.4M581.1 498.1L576.6 499.7M571.6 491.9L578.6 488.9M579.3 489.1L578.6 488.9M591.1 495.8L597.2 497.1M598.5 488.3L600.8 491.8M598.5 488.3L586.5 485.8M586.5 485.8L585.6 487.4M575.8 438.8L572.7 447.0M564.5 439.1L565.8 444.0M572.7 447.0L571.5 447.2M565.8 444.0L571.5 447.2M555.2 450.6L547.6 449.3M555.2 450.6L557.0 451.9M557.0 451.9L557.5 453.6M557.5 453.6L552.0 463.8M547.6 449.3L542.9 459.4M542.9 459.4L552.0 463.8M543.9 444.8L547.6 449.3M554.9 437.2L555.2 450.6M565.8 444.0L557.0 451.9M569.2 456.1L571.5 447.2M569.2 456.1L566.5 458.4M566.5 458.4L557.5 453.6M567.1 467.3L554.5 468.2M567.1 467.3L566.5 458.4M553.2 467.5L554.5 468.2M553.2 467.5L552.0 463.8M542.2 459.5L542.9 459.4M545.7 473.6L553.2 467.5M578.7 458.2L580.6 455.9M578.7 458.2L569.2 456.1M572.7 447.0L577.1 448.2M577.1 448.2L580.6 455.9M582.8 438.4L584.9 443.4M577.1 448.2L584.9 443.4M594.8 436.8L587.2 444.5M584.9 443.4L587.2 444.5M601.7 454.1L599.0 459.5M601.7 454.1L601.3 451.8M599.0 459.5L587.6 457.3M601.3 451.8L597.3 450.0M597.3 450.0L590.3 449.5M590.3 449.5L586.6 455.2M587.6 457.3L586.6 455.2M606.2 446.6L601.3 451.8M607.6 457.9L601.7 454.1M596.0 436.8L597.3 450.0M587.2 444.5L590.3 449.5M580.6 455.9L586.6 455.2M544.4 527.8L540.8 519.0M544.4 527.8L549.1 527.7M549.1 527.7L551.9 525.4M551.9 525.4L550.4 515.9M540.8 519.0L547.5 514.5M550.4 515.9L547.5 514.5M534.4 518.7L540.8 519.0M538.1 531.0L544.4 527.8M545.7 511.1L547.5 514.5M556.8 512.7L558.5 509.8M556.8 512.7L550.4 515.9M572.9 546.2L574.2 545.3M572.9 546.2L564.5 543.0M570.3 533.9L574.8 537.4M570.3 533.9L566.4 537.0M564.5 543.0L566.4 537.0M549.7 532.8L556.1 537.9M549.7 532.8L542.4 545.4M542.4 545.4L546.2 546.3M546.2 546.3L555.6 542.5M555.6 542.5L556.1 537.9M558.7 526.7L558.8 534.8M558.7 526.7L551.9 525.4M549.1 527.7L549.7 532.8M558.8 534.8L556.1 537.9M541.5 545.4L542.4 545.4M558.8 534.8L566.4 537.0M561.0 545.3L555.6 542.5M561.0 545.3L564.5 543.0M557.6 479.4L554.6 482.3M557.6 479.4L566.6 479.8M554.6 482.3L559.1 488.9M559.1 488.9L566.4 487.1M566.4 487.1L566.6 479.8M551.1 483.1L554.6 482.3M554.5 468.2L557.6 479.4M555.9 496.1L559.1 488.9M569.4 492.0L566.4 487.1M576.7 524.4L570.0 531.3M576.7 524.4L573.7 517.6M573.7 517.6L571.1 516.2M571.1 516.2L563.5 521.7M570.0 531.3L562.2 525.3M562.2 525.3L563.5 521.7M582.9 526.3L576.7 524.4M570.3 533.9L570.0 531.3M568.4 507.0L571.1 516.2M556.8 512.7L563.5 521.7M558.7 526.7L562.2 525.3M589.0 509.8L588.5 512.7M589.0 509.8L584.4 505.4M579.4 507.0L579.9 514.6M579.4 507.0L584.4 505.4M579.9 514.6L586.6 515.5M586.6 515.5L588.5 512.7M597.5 505.0L589.0 509.8M599.4 518.0L588.5 512.7M584.6 500.1L584.4 505.4M573.3 505.3L579.4 507.0M573.7 517.6L579.9 514.6M587.6 525.2L586.6 515.5M622.7 529.4L616.4 529.1M622.7 529.4L626.7 534.0M626.7 534.0L618.7 542.8M618.7 542.8L613.4 533.3M613.4 533.3L615.2 530.2M615.2 530.2L616.4 529.1M615.1 517.5L616.4 529.1M627.8 518.5L622.7 529.4M633.6 535.0L626.7 534.0M618.6 543.4L618.7 542.8M605.0 535.0L613.4 533.3M607.5 524.8L615.2 530.2M628.1 465.0L624.4 473.2M628.1 465.0L634.9 468.2M624.4 473.2L633.0 477.4M634.9 468.2L635.5 477.1M635.5 477.1L633.0 477.4M621.1 474.6L624.4 473.2M627.4 461.9L628.1 465.0M641.1 464.7L634.9 468.2M625.7 487.4L633.0 477.4M639.8 479.2L635.5 477.1M461.6 281.0L468.4 275.4M461.6 281.0L452.7 278.2M452.7 278.2L453.2 274.6M453.2 274.6L461.2 267.2M468.4 275.4L464.8 267.2M464.8 267.2L461.2 267.2M473.0 276.6L468.4 275.4M464.7 288.5L461.6 281.0M450.6 280.1L452.7 278.2M449.5 268.6L453.2 274.6M455.3 259.9L461.2 267.2M466.0 265.8L464.8 267.2M311.0 278.8L314.6 275.5M311.5 266.4L308.3 267.2M311.5 266.4L314.0 267.8M307.0 278.9L303.3 272.0M314.0 267.8L314.6 275.5M308.3 267.2L303.3 272.0M332.2 329.1L327.3 339.3M332.2 329.1L334.5 326.7M334.5 326.7L343.6 340.9M327.3 339.3L343.0 341.2M343.0 341.2L343.6 340.9M326.1 340.5L327.3 339.3M317.1 326.0L332.2 329.1M335.4 324.9L334.5 326.7M351.8 326.4L353.2 340.1M352.3 340.9L353.2 340.1M352.3 340.9L343.6 340.9M336.8 350.1L343.0 341.2M350.6 354.6L352.3 340.9M338.0 287.9L337.8 284.5M337.8 284.5L340.1 281.1M342.2 290.9L346.5 290.8M346.5 290.8L351.0 281.3M340.1 281.1L351.0 281.3M351.0 294.2L350.8 300.9M351.0 294.2L359.7 290.3M351.0 301.4L350.8 300.9M351.0 301.4L358.1 304.9M358.1 304.9L360.3 304.5M360.3 304.5L365.1 298.4M359.7 290.3L363.9 294.8M365.1 298.4L363.9 294.8M340.7 299.4L350.8 300.9M346.5 290.8L351.0 294.2M344.2 310.2L351.0 301.4M352.4 316.1L358.1 304.9M364.9 311.1L360.3 304.5M354.8 322.8L361.7 322.0M374.5 300.6L365.1 298.4M282.5 285.3L282.5 283.2M293.5 281.4L291.4 278.8M282.5 283.2L291.4 278.8M301.2 271.3L303.3 272.0M301.2 271.3L291.2 275.9M291.2 275.9L291.4 278.8M318.4 276.4L324.8 270.4M318.4 276.4L324.5 282.0M324.8 270.4L328.9 278.8M324.5 282.0L328.8 279.2M328.8 279.2L328.9 278.8M323.4 286.1L324.5 282.0M314.6 275.5L318.4 276.4M337.8 284.5L328.8 279.2M311.5 266.4L308.7 255.6M314.0 267.8L318.1 265.5M310.6 255.1L317.8 257.6M310.6 255.1L308.9 255.3M308.9 255.3L308.7 255.6M318.1 265.5L317.8 257.6M318.0 247.9L310.6 255.1M318.0 247.9L320.6 256.1M320.6 256.1L317.8 257.6M335.9 225.0L326.7 224.2M335.9 225.0L334.4 234.9M326.7 224.2L327.4 235.5M327.4 235.5L334.4 234.9M324.8 270.4L325.4 266.9M328.9 278.8L336.7 269.9M336.7 269.9L325.4 266.9M318.1 265.5L325.1 266.4M325.4 266.9L325.1 266.4M327.9 256.3L328.2 256.5M327.9 256.3L320.6 256.1M325.1 266.4L328.2 256.5M337.7 224.1L335.9 225.0M344.6 226.6L345.1 228.2M342.9 238.3L344.8 235.7M342.9 238.3L336.0 236.1M336.0 236.1L334.4 234.9M345.1 228.2L344.8 235.7M372.3 251.9L367.9 246.1M373.0 239.4L372.1 239.3M367.9 246.1L372.1 239.3M316.6 235.0L316.8 244.6M316.6 235.0L326.3 236.7M326.3 236.7L326.9 242.7M326.9 242.7L323.5 246.2M323.5 246.2L318.5 246.4M318.5 246.4L316.8 244.6M332.0 244.8L326.9 242.7M332.0 244.8L336.0 236.1M327.4 235.5L326.3 236.7M318.0 247.9L318.5 246.4M327.9 256.3L323.5 246.2M383.0 285.8L382.3 281.3M383.0 285.8L376.3 292.9M382.3 281.3L374.3 279.3M372.2 287.2L376.3 292.9M372.2 287.2L372.6 280.7M372.6 280.7L374.3 279.3M387.8 293.2L383.0 285.8M393.2 279.6L388.0 277.9M388.0 277.9L382.3 281.3M376.8 299.5L376.3 292.9M363.9 294.8L372.2 287.2M382.1 268.1L387.7 274.6M382.1 268.1L387.5 262.4M387.7 274.6L391.5 267.9M387.5 262.4L391.5 267.9M373.9 276.7L374.3 279.3M388.0 277.9L387.7 274.6M380.6 267.9L382.1 268.1M387.6 258.2L387.5 262.4M398.9 266.9L391.5 267.9M213.5 213.2L213.1 212.9M220.6 212.7L225.2 208.5M225.2 208.5L226.0 200.5M378.5 214.1L368.2 214.5M378.5 214.1L378.3 204.3M368.2 214.5L368.1 204.2M368.1 204.2L377.1 203.2M377.1 203.2L378.3 204.3M387.9 202.9L378.3 204.3M380.4 215.8L378.5 214.1M357.4 204.5L367.2 203.4M357.4 204.5L358.4 213.4M367.2 203.4L368.1 204.2M358.4 213.4L368.0 214.7M368.0 214.7L368.2 214.5M367.2 203.4L367.0 193.1M376.2 193.0L367.0 193.1M377.1 194.2L377.1 203.2M379.3 172.6L377.8 174.0M379.3 172.6L377.3 162.8M377.8 174.0L368.9 172.4M368.9 172.4L368.6 163.9M377.3 162.8L369.5 163.1M369.5 163.1L368.6 163.9M387.0 173.1L379.3 172.6M378.3 184.3L376.8 182.6M376.8 182.6L377.8 174.0M378.4 161.8L377.3 162.8M368.0 151.6L367.6 152.0M377.2 151.4L378.5 152.7M367.6 152.0L369.5 163.1M376.8 182.6L367.4 182.1M368.9 172.4L366.4 175.1M366.4 175.1L367.4 182.1M367.0 193.1L366.7 192.9M366.7 192.9L366.7 183.0M366.7 183.0L367.4 182.1M337.0 142.0L337.6 153.0M328.1 152.4L337.2 153.4M337.2 153.4L337.6 153.0M326.7 161.6L335.8 162.7M337.2 153.4L335.8 162.7M366.7 192.9L358.9 193.4M366.7 183.0L356.1 183.3M358.9 193.4L356.1 183.3M326.8 214.0L326.7 204.7M326.8 214.0L336.5 213.3M336.5 213.3L337.0 203.4M337.0 203.4L326.7 204.7M307.1 235.5L306.3 245.2M307.1 235.5L306.4 234.9M306.4 234.9L292.6 235.0M292.6 235.0L301.7 245.8M301.7 245.8L306.3 245.3M306.3 245.2L306.3 245.3M316.0 234.4L307.1 235.5M316.0 234.4L316.6 235.0M316.8 244.6L306.3 245.2M316.0 234.4L317.7 225.6M305.5 224.3L306.4 234.9M305.9 223.9L317.7 225.6M290.8 234.4L292.6 235.0M308.9 255.3L306.3 245.3M317.5 213.0L326.6 214.2M317.5 213.0L315.1 215.1M315.1 215.1L317.8 225.5M326.6 214.2L326.3 223.9M326.3 223.9L317.8 225.5M316.8 204.1L317.5 213.0M316.8 204.1L306.6 204.8M308.1 214.8L315.1 215.1M317.7 225.6L317.8 225.5M326.8 214.0L326.6 214.2M326.7 224.2L326.3 223.9M336.5 213.3L337.8 214.5M287.6 193.1L282.1 201.1M287.6 193.1L284.8 188.9M284.8 188.9L276.9 191.9M276.9 191.9L275.7 200.9M275.7 200.9L282.1 201.1M295.4 193.0L287.6 193.1M287.1 205.0L282.1 201.1M286.4 182.4L284.8 183.8M284.8 183.8L284.8 188.9M284.8 183.8L274.8 182.2M274.8 182.2L273.2 183.9M273.2 183.9L276.9 191.9M276.2 173.8L275.0 163.2M276.2 173.8L275.3 174.7M275.3 174.7L262.5 171.2M274.4 162.8L264.0 164.5M274.4 162.8L275.0 163.2M264.0 164.5L262.5 171.2M285.4 172.6L276.2 173.8M284.2 162.3L275.0 163.2M274.8 182.2L275.3 174.7M263.8 164.1L264.0 164.5M273.9 152.7L274.4 162.8M252.0 173.1L260.5 173.3M260.5 173.3L262.5 171.2M273.2 183.9L263.8 186.0M260.5 173.3L263.8 186.0M263.8 186.0L263.8 186.0M249.0 175.5L250.3 185.8M263.8 186.0L250.3 185.8M263.6 199.3L260.9 212.8M263.6 199.3L275.6 200.9M260.9 212.8L275.3 213.2M275.6 200.9L275.3 213.2M275.7 200.9L275.6 200.9M263.2 198.7L263.8 186.0M263.2 198.7L263.6 199.3M275.4 213.3L275.3 213.2M265.5 225.2L262.4 222.2M260.9 212.8L260.6 213.2M262.4 222.2L260.6 213.2M252.1 236.7L250.0 226.9M262.4 222.2L250.0 226.9M399.0 143.2L399.7 142.6M399.0 143.2L388.7 142.8M399.7 142.6L398.5 132.9M398.5 132.9L389.1 132.5M389.1 132.5L387.8 141.7M387.8 141.7L388.7 142.8M398.4 154.0L399.0 143.2M406.8 142.7L399.7 142.6M388.0 151.7L388.7 142.8M399.8 131.6L398.5 132.9M388.7 131.8L389.1 132.5M378.6 141.8L387.8 141.7M249.7 123.6L252.8 120.1M252.8 120.1L250.9 109.8M265.7 141.6L265.8 132.1M275.6 131.6L275.4 131.4M275.4 131.4L266.2 131.6M265.8 132.1L266.2 131.6M250.9 135.6L257.1 132.6M265.8 132.1L257.1 132.6M252.8 120.1L259.5 121.7M257.1 132.6L259.5 121.7M259.5 121.7L264.3 121.1M264.2 110.5L264.3 121.1M266.2 131.6L264.3 121.1M264.3 121.1L264.3 121.1M429.0 178.4L427.2 185.4M435.0 191.0L428.3 188.2M428.3 188.2L427.2 185.4M508.6 223.8L501.2 224.8M508.6 223.8L511.5 218.5M501.2 224.8L502.0 217.0M502.0 217.0L508.6 215.2M511.5 218.5L508.6 215.2M510.0 232.4L508.6 223.8M496.7 228.4L501.2 224.8M512.5 218.6L511.5 218.5M497.1 215.5L502.0 217.0M507.7 204.9L508.6 215.2M674.6 362.0L662.6 359.4M674.6 362.0L666.6 372.0M661.6 369.6L661.3 360.4M661.6 369.6L665.3 372.5M661.3 360.4L662.6 359.4M666.6 372.0L665.3 372.5M676.4 361.4L674.6 362.0M665.0 353.6L662.6 359.4M679.8 373.5L666.6 372.0M652.8 372.0L661.6 369.6M658.0 359.2L661.3 360.4M665.7 378.4L665.3 372.5M396.2 353.0L390.5 347.9M379.0 362.9L379.4 354.9M379.4 354.9L390.5 347.9M393.8 327.2L389.4 340.6M377.1 330.9L381.1 338.9M381.1 338.9L389.4 340.6M403.7 340.4L390.1 341.9M390.5 347.9L390.1 341.9M390.1 341.9L389.4 340.6M397.3 459.0L388.3 440.9M380.1 456.2L379.9 443.2M379.9 443.2L388.3 440.9M366.4 442.2L362.3 455.4M366.9 441.9L379.1 442.7M379.9 443.2L379.1 442.7M367.1 426.0L377.6 428.3M379.1 442.7L377.6 428.3M402.4 443.7L391.0 438.5M388.3 440.9L391.0 438.5M402.2 429.2L392.5 432.0M391.0 438.5L392.5 432.0M523.1 425.9L516.8 424.6M523.1 425.9L530.4 415.0M530.4 415.0L520.5 414.1M520.5 414.1L515.9 423.0M515.9 423.0L516.8 424.6M525.4 431.0L523.1 425.9M513.3 431.1L516.8 424.6M531.4 414.5L530.4 415.0M514.7 375.6L513.4 388.2M502.1 383.8L503.9 389.5M503.9 389.5L513.4 388.2M523.8 394.8L521.6 394.1M513.4 388.2L521.6 394.1M482.2 412.6L492.6 412.6M483.1 422.9L488.4 422.1M492.6 412.6L492.9 413.2M492.9 413.2L488.4 422.1M493.5 432.7L491.8 425.6M488.4 422.1L491.8 425.6M523.9 397.2L513.6 406.7M520.5 414.1L514.1 409.3M514.1 409.3L513.6 406.7M484.8 404.4L490.1 404.3M492.6 412.6L493.0 409.8M490.1 404.3L493.0 409.8M483.1 394.5L491.4 398.9M490.1 404.3L491.4 398.9M490.3 387.8L495.3 396.1M491.4 398.9L495.3 396.1M327.5 515.9L341.8 514.7M332.8 527.1L338.5 524.9M338.5 524.9L341.8 514.7M342.9 509.4L342.8 513.7M359.0 517.0L351.3 519.1M351.3 519.1L342.8 513.7M342.8 513.7L341.8 514.7M214.1 405.2L224.6 403.1M214.1 405.2L213.8 392.0M224.6 403.1L223.1 391.6M213.8 392.0L214.8 391.0M214.8 391.0L222.0 391.0M223.1 391.6L222.0 391.0M226.8 405.3L224.6 403.1M226.8 405.3L221.7 414.8M213.4 406.2L214.1 405.2M201.7 395.2L213.8 392.0M233.9 406.1L237.6 391.9M233.9 406.1L226.8 405.3M236.1 390.3L223.1 391.6M211.3 382.2L214.8 391.0M223.8 379.6L222.0 391.0M252.1 454.2L251.5 444.2M252.1 454.2L263.6 453.8M251.5 444.2L261.2 440.5M263.6 453.8L264.1 443.7M264.1 443.7L261.2 440.5M248.2 458.6L252.1 454.2M248.4 442.4L251.5 444.2M266.6 457.4L263.6 453.8M263.7 466.6L262.4 467.5M276.4 443.0L264.1 443.7M276.1 368.1L266.4 369.3M276.1 368.1L274.6 380.8M266.4 369.3L261.7 380.5M274.6 380.8L262.0 380.8M261.7 380.5L262.0 380.8M253.1 378.5L261.7 380.5M249.7 368.3L261.8 363.1M261.8 363.1L266.4 369.3M250.1 405.0L251.8 418.0M250.1 405.0L237.7 410.8M237.7 410.8L237.2 416.0M237.2 416.0L250.7 418.7M250.7 418.7L251.8 418.0M261.3 419.7L262.7 406.3M261.3 419.7L251.8 418.0M262.7 406.3L250.9 404.0M250.9 404.0L250.1 405.0M247.2 394.3L249.0 396.1M233.9 406.1L237.7 410.8M249.0 396.1L250.9 404.0M236.3 417.8L237.2 416.0M247.7 428.6L250.7 418.7M287.4 377.9L289.8 381.0M287.4 377.9L276.5 382.3M289.8 381.0L290.2 390.8M276.5 382.3L277.9 392.0M277.9 392.0L289.1 392.2M290.2 390.8L289.1 392.2M286.7 370.0L288.9 368.5M286.7 370.0L287.4 377.9M300.6 378.4L289.8 381.0M286.7 370.0L278.0 366.7M278.0 366.7L276.1 368.1M274.6 380.8L276.5 382.3M302.3 390.1L302.2 390.2M302.2 390.2L290.2 390.8M275.7 393.9L273.4 404.8M275.7 393.9L263.1 389.0M263.1 389.0L261.9 390.9M261.9 390.9L263.9 405.5M273.4 404.8L263.9 405.5M275.9 407.2L273.4 404.8M275.9 407.2L291.0 403.0M291.0 403.0L289.1 392.2M277.9 392.0L275.7 393.9M262.0 380.8L263.1 389.0M249.0 396.1L261.9 390.9M262.7 406.3L263.9 405.5M351.0 453.1L351.6 440.0M351.0 453.1L340.4 454.9M351.6 440.0L339.9 441.8M340.4 454.9L338.5 454.2M338.5 454.2L338.2 445.3M338.2 445.3L339.9 441.8M357.6 456.8L351.0 453.1M352.7 438.4L351.6 440.0M344.3 470.8L347.6 471.5M344.3 470.8L340.4 454.9M336.1 430.0L339.9 441.8M328.3 431.2L327.7 431.5M327.7 431.5L327.5 440.9M327.5 440.9L338.2 445.3M325.8 443.5L316.6 445.4M325.8 443.5L330.5 456.5M330.2 456.7L315.3 453.7M330.2 456.7L330.5 456.5M315.3 453.7L316.6 445.4M327.7 431.5L317.9 430.0M327.5 440.9L325.8 443.5M313.0 439.3L317.9 430.0M313.0 439.3L316.6 445.4M338.5 454.2L330.5 456.5M312.6 455.9L315.3 453.7M327.8 467.4L319.2 469.7M327.8 467.4L330.2 456.7M278.3 526.3L274.3 524.2M265.3 534.5L267.9 527.6M274.3 524.2L267.9 527.6M254.3 525.2L253.1 528.5M254.3 525.2L260.9 521.8M267.9 527.6L260.9 521.8M240.5 522.4L241.0 516.9M230.4 518.8L234.3 514.9M241.0 516.9L234.3 514.9M224.8 510.4L229.9 507.5M234.3 514.9L229.9 507.5M328.7 468.4L326.9 478.9M328.7 468.4L338.1 473.8M338.1 473.8L337.4 476.9M337.4 476.9L329.3 481.6M326.9 478.9L329.3 481.6M327.8 467.4L328.7 468.4M317.9 478.9L326.9 478.9M344.3 470.8L338.1 473.8M340.2 486.5L337.4 476.9M328.3 486.3L329.3 481.6M276.2 420.8L277.7 430.3M276.2 420.8L262.0 420.7M262.0 420.7L259.8 430.7M277.2 431.4L277.7 430.3M277.2 431.4L261.5 433.5M259.8 430.7L261.5 433.5M261.3 419.7L262.0 420.7M275.9 407.2L278.1 417.6M278.1 417.6L276.2 420.8M250.7 430.5L259.8 430.7M278.6 440.3L277.2 431.4M261.2 440.5L261.5 433.5M276.7 471.9L276.7 472.0M263.2 481.1L274.2 479.3M263.2 481.1L260.8 477.3M276.7 472.0L274.2 479.3M295.1 504.3L293.9 500.4M304.1 498.7L301.1 496.5M293.9 500.4L301.1 496.5M304.6 486.9L301.8 489.2M301.1 496.5L301.8 489.2M303.5 480.9L299.3 477.8M302.9 465.3L299.0 469.3M299.3 477.8L299.0 469.3M286.2 466.7L288.7 468.7M288.6 456.8L302.5 455.9M302.5 455.9L303.7 457.0M288.7 468.7L299.0 469.3M602.4 574.7L594.0 578.2M554.4 578.6L558.3 570.0M566.8 580.4L559.2 569.8M559.2 569.8L558.3 570.0M541.5 566.5L549.2 564.6M558.3 570.0L549.2 564.6M561.0 545.3L562.3 554.7M546.2 546.3L553.4 556.0M562.3 554.7L553.4 556.0M553.4 556.0L549.2 564.6M589.5 341.0L578.9 356.0M589.5 341.0L578.2 337.7M573.0 341.9L578.2 337.7M573.0 341.9L575.3 351.4M575.3 351.4L578.9 356.0M592.8 339.9L589.5 341.0M579.0 356.5L578.9 356.0M577.4 325.4L578.2 337.7M561.5 337.9L573.0 341.9M558.7 350.8L575.3 351.4M598.5 488.3L596.0 480.5M586.5 485.8L587.8 481.0M587.8 481.0L596.0 480.5M608.7 480.4L600.3 475.5M596.0 480.5L600.3 475.5M606.2 467.6L599.0 469.4M600.3 475.5L599.0 469.4M599.0 459.5L597.1 467.7M599.0 469.4L597.1 467.7M587.8 481.0L586.7 479.0M597.1 467.7L593.7 467.8M586.7 479.0L593.7 467.8M587.6 457.3L588.8 465.7M588.8 465.7L593.7 467.8M567.6 478.8L575.3 480.6M567.6 478.8L568.3 468.5M575.3 480.6L581.4 475.7M568.3 468.5L578.3 467.4M581.4 475.7L579.6 468.2M578.3 467.4L579.6 468.2M578.6 488.9L575.3 480.6M566.6 479.8L567.6 478.8M567.1 467.3L568.3 468.5M586.7 479.0L581.4 475.7M578.7 458.2L578.3 467.4M588.8 465.7L579.6 468.2M577.2 567.7L578.1 558.0M577.2 567.7L569.0 568.1M578.1 558.0L570.2 555.0M569.0 568.1L564.6 565.9M564.6 565.9L565.2 556.7M570.2 555.0L565.2 556.7M582.3 547.6L583.4 555.5M572.9 546.2L570.2 555.0M583.4 555.5L578.1 558.0M570.0 578.4L569.0 568.1M559.2 569.8L564.6 565.9M562.3 554.7L565.2 556.7M600.1 569.1L594.2 565.7M601.9 553.1L593.8 556.4M594.2 565.7L593.8 556.4M590.8 545.7L592.7 556.0M583.4 555.5L584.1 555.7M584.1 555.7L592.7 556.0M592.7 556.0L593.8 556.4M308.7 255.6L302.9 257.6M301.7 245.8L295.9 250.4M302.9 257.6L295.9 250.4M308.3 267.2L300.1 261.8M302.9 257.6L300.1 261.8M301.2 271.3L298.9 262.5M298.9 262.5L300.1 261.8M289.9 235.6L290.5 250.5M295.9 250.4L290.5 250.5M276.1 250.8L287.6 253.5M290.5 250.5L287.6 253.5M351.0 281.3L352.5 280.3M359.7 290.3L359.5 283.0M352.5 280.3L359.5 283.0M362.1 270.7L361.8 271.1M372.6 280.7L361.6 281.4M361.8 271.1L361.6 281.4M359.5 283.0L361.6 281.4M279.5 282.1L278.7 275.3M279.5 282.1L269.8 284.4M269.7 284.4L269.0 274.5M269.7 284.4L269.8 284.4M278.7 275.3L272.4 271.5M269.0 274.5L272.4 271.5M278.4 297.0L269.8 284.4M282.5 283.2L279.5 282.1M268.2 285.1L269.7 284.4M254.3 269.5L269.0 274.5M274.1 264.6L274.5 265.4M274.5 265.4L272.4 271.5M290.7 274.9L284.8 272.8M290.7 274.9L291.7 262.7M284.8 272.8L279.9 265.8M279.9 265.8L288.9 259.9M291.7 262.7L288.9 259.9M291.2 275.9L290.7 274.9M278.7 275.3L284.8 272.8M298.9 262.5L291.7 262.7M274.5 265.4L279.9 265.8M287.6 253.5L288.9 259.9M340.3 270.8L350.9 274.4M340.3 270.8L339.2 269.3M339.2 269.3L340.0 266.2M340.0 266.2L348.1 263.6M348.1 263.6L352.9 265.7M352.9 265.7L352.5 272.1M352.5 272.1L350.9 274.4M340.1 281.1L340.3 270.8M352.5 280.3L350.9 274.4M336.7 269.9L339.2 269.3M359.7 262.2L359.0 261.7M359.0 261.7L352.9 265.7M361.8 271.1L352.5 272.1M329.8 256.2L338.8 262.2M329.8 256.2L335.5 248.2M338.8 262.2L343.6 253.7M335.5 248.2L339.3 247.7M339.3 247.7L342.2 250.7M343.6 253.7L342.2 250.7M328.2 256.5L329.8 256.2M340.0 266.2L338.8 262.2M332.0 244.8L335.5 248.2M349.8 255.2L348.1 263.6M349.8 255.2L343.6 253.7M342.9 238.3L342.9 239.5M342.9 239.5L339.3 247.7M351.4 245.6L342.9 239.5M351.4 245.6L342.2 250.7M352.8 254.2L358.0 257.6M352.8 254.2L353.7 246.2M353.7 246.2L357.9 242.9M361.9 254.0L363.1 246.5M361.9 254.0L358.0 257.6M357.9 242.9L363.1 246.5M359.0 261.7L358.0 257.6M349.8 255.2L352.8 254.2M351.4 245.6L353.7 246.2M369.4 255.6L361.9 254.0M367.9 246.1L363.1 246.5M357.9 239.3L362.7 234.8M357.9 239.3L354.2 236.6M362.7 234.8L356.1 228.1M354.2 236.6L354.1 230.0M356.1 228.1L354.1 230.0M344.8 235.7L354.2 236.6M357.9 242.9L357.9 239.3M345.1 228.2L354.1 230.0M356.9 224.6L356.1 228.1M371.0 237.8L363.2 234.5M371.0 237.8L373.8 226.8M363.2 234.5L365.9 225.2M373.8 226.8L367.4 224.3M365.9 225.2L367.4 224.3M372.1 239.3L371.0 237.8M362.7 234.8L363.2 234.5M377.7 226.1L373.8 226.8M358.2 223.6L365.9 225.2M368.0 214.7L367.4 224.3M356.9 214.9L358.4 213.4M366.4 175.1L358.5 173.1M356.1 183.3L356.0 183.2M356.0 183.2L357.9 173.6M358.5 173.1L357.9 173.6M368.6 163.9L358.7 163.9M358.5 173.1L358.7 163.9M356.0 183.2L348.0 183.7M348.0 183.7L347.1 172.7M357.9 173.6L347.1 172.7M357.2 195.0L347.3 192.5M357.2 195.0L356.4 203.6M347.3 192.5L346.6 203.4M356.4 203.6L347.7 204.4M347.7 204.4L346.6 203.4M357.4 204.5L356.4 203.6M358.9 193.4L357.2 195.0M346.8 213.4L347.7 204.4M337.0 203.4L337.4 202.9M337.4 202.9L346.6 203.4M348.0 183.7L347.7 184.1M347.3 192.5L347.3 192.5M347.7 184.1L347.3 192.5M335.8 195.6L337.4 202.9M335.8 195.6L337.0 193.9M347.3 192.5L337.0 193.9M347.7 184.1L337.1 183.1M337.0 193.9L336.3 183.7M337.1 183.1L336.3 183.7M327.4 194.3L326.1 204.1M327.4 194.3L327.0 193.8M327.0 193.8L317.3 193.8M317.6 203.2L326.1 204.1M317.6 203.2L317.1 194.1M317.1 194.1L317.3 193.8M335.8 195.6L327.4 194.3M326.7 204.7L326.1 204.1M328.2 183.5L336.3 183.7M328.2 183.5L327.0 193.8M316.8 204.1L317.6 203.2M306.7 194.8L317.1 194.1M235.5 185.8L238.9 188.6M250.3 185.8L247.8 189.1M238.9 188.6L247.8 189.1M263.2 198.7L251.3 198.2M247.8 189.1L251.3 198.2M260.6 213.2L251.2 212.9M250.0 226.9L248.4 225.5M251.2 212.9L248.4 225.5M226.2 224.8L236.5 223.5M225.2 208.5L237.3 214.3M237.3 214.3L236.5 223.5M237.2 236.7L237.3 224.4M248.4 225.5L237.3 224.4M236.5 223.5L237.3 224.4M276.3 113.2L274.8 120.3M276.3 113.2L284.9 112.1M285.5 122.6L285.6 112.6M285.5 122.6L275.7 121.5M275.7 121.5L274.8 120.3M285.6 112.6L284.9 112.1M274.9 111.3L276.3 113.2M264.3 121.1L274.8 120.3M285.0 100.2L284.9 112.1M285.9 123.0L285.5 122.6M294.5 112.8L285.6 112.6M275.4 131.4L275.7 121.5M427.3 198.4L424.3 194.4M428.3 188.2L426.4 189.6M424.3 194.4L426.4 189.6M236.6 328.5L239.1 328.9M234.5 341.0L238.0 337.9M238.0 337.9L239.1 328.9M240.6 313.2L241.7 325.7M241.7 325.7L240.0 328.3M239.1 328.9L240.0 328.3M277.7 322.5L272.2 327.9M272.2 327.9L265.4 326.7M266.1 309.9L261.3 323.2M265.4 326.7L261.3 323.2M250.2 313.1L255.9 323.3M261.3 323.2L255.9 323.3M378.0 341.6L375.6 350.7M378.0 341.6L366.0 339.0M375.6 350.7L367.2 349.0M367.2 349.0L363.5 341.3M366.0 339.0L363.5 341.3M379.4 354.9L375.6 350.7M381.1 338.9L378.0 341.6M369.4 331.5L366.0 339.0M365.4 352.3L367.2 349.0M353.2 340.1L363.5 341.3M391.0 429.8L379.7 426.9M391.0 429.8L391.4 416.1M379.7 426.9L382.3 415.4M382.3 415.4L389.7 415.2M389.7 415.2L391.4 416.1M392.5 432.0L391.0 429.8M377.6 428.3L379.7 426.9M402.7 414.6L391.4 416.1M381.2 414.7L382.3 415.4M389.9 402.3L389.7 415.2M510.2 420.2L503.9 424.5M510.2 420.2L510.0 415.6M510.0 415.6L503.0 413.6M503.9 424.5L500.0 420.9M500.0 420.9L498.4 416.4M498.4 416.4L503.0 413.6M503.7 429.6L503.9 424.5M515.9 423.0L510.2 420.2M514.1 409.3L510.0 415.6M491.8 425.6L500.0 420.9M492.9 413.2L498.4 416.4M503.6 390.9L508.2 395.8M503.6 390.9L498.1 396.0M498.1 396.0L501.9 404.5M508.2 395.8L509.2 404.7M509.2 404.7L504.3 405.4M504.3 405.4L501.9 404.5M503.9 389.5L503.6 390.9M521.6 394.1L508.2 395.8M495.3 396.1L498.1 396.0M493.0 409.8L501.9 404.5M513.6 406.7L509.2 404.7M503.0 413.6L504.3 405.4M345.2 529.1L350.2 524.0M345.2 529.1L346.0 532.9M354.6 532.9L353.0 526.5M354.6 532.9L347.1 534.1M353.0 526.5L350.2 524.0M347.1 534.1L346.0 532.9M338.5 524.9L345.2 529.1M351.3 519.1L350.2 524.0M335.9 536.6L346.0 532.9M359.7 534.2L354.6 532.9M362.3 526.4L353.0 526.5M347.6 542.2L347.1 534.1M276.8 356.3L273.0 353.4M276.8 356.3L289.2 351.7M273.0 353.4L276.3 339.4M289.2 351.7L288.1 341.2M276.3 339.4L286.3 339.6M286.3 339.6L288.1 341.2M278.0 366.7L276.8 356.3M261.8 363.1L263.1 353.7M263.1 353.7L273.0 353.4M292.6 354.3L289.2 351.7M301.7 337.4L288.1 341.2M272.2 327.9L274.4 337.7M287.9 323.4L286.3 339.6M274.4 337.7L276.3 339.4M291.0 403.0L291.8 403.7M302.2 390.2L303.2 402.9M291.8 403.7L303.2 402.9M311.2 403.9L303.3 403.0M311.2 403.9L315.2 400.1M303.3 403.0L303.2 402.9M302.5 455.9L300.7 444.4M313.0 439.3L305.1 440.0M300.7 444.4L305.1 440.0M288.5 442.8L291.9 441.1M300.7 444.4L291.9 441.1M263.2 481.1L262.8 483.5M249.2 478.0L249.2 487.7M262.8 483.5L251.6 489.1M251.6 489.1L249.2 487.7M233.8 482.5L236.2 487.6M236.2 487.6L245.7 489.0M249.2 487.7L245.7 489.0M254.3 525.2L249.5 515.8M241.0 516.9L244.2 514.6M249.5 515.8L244.2 514.6M243.8 499.1L249.3 501.8M243.8 499.1L245.7 489.0M254.4 494.9L251.6 489.1M254.4 494.9L251.4 501.4M249.3 501.8L251.4 501.4M278.1 511.7L277.9 511.8M274.3 524.2L272.6 517.0M277.9 511.8L272.6 517.0M229.5 499.4L234.0 495.4M229.5 499.4L230.6 504.8M230.6 504.8L239.2 505.7M234.0 495.4L243.1 499.2M243.1 499.2L239.2 505.7M236.2 487.6L234.0 495.4M224.6 497.5L229.5 499.4M229.9 507.5L230.6 504.8M244.0 511.2L244.2 514.6M244.0 511.2L239.2 505.7M243.8 499.1L243.1 499.2M249.3 501.8L244.0 511.2M276.7 472.0L287.0 480.0M288.7 468.7L289.6 478.5M287.0 480.0L289.6 478.5M299.3 477.8L293.5 479.9M289.6 478.5L293.5 479.9M301.8 489.2L293.7 488.9M293.5 479.9L293.7 488.9M577.2 567.7L578.0 568.6M584.1 555.7L586.4 567.5M578.0 568.6L586.4 567.5M594.0 578.2L589.1 574.0M594.2 565.7L589.4 568.7M589.1 574.0L589.4 568.7M589.4 568.7L586.4 567.5M357.6 162.8L347.2 163.8M357.6 162.8L358.4 153.1M347.2 163.8L346.0 153.6M357.2 152.0L347.9 151.5M357.2 152.0L358.4 153.1M347.9 151.5L346.0 153.6M367.6 152.0L358.4 153.1M358.7 163.9L357.6 162.8M357.9 142.3L357.2 152.0M346.5 142.4L347.9 151.5M337.6 153.0L346.0 153.6M347.1 172.6L347.0 164.1M347.1 172.6L337.5 174.3M347.0 164.1L336.9 164.0M336.9 164.0L334.9 171.7M337.5 174.3L334.9 171.7M347.1 172.7L347.1 172.6M347.2 163.8L347.0 164.1M337.1 183.1L337.5 174.3M335.8 162.7L336.9 164.0M324.9 163.9L327.0 172.8M327.0 172.8L334.9 171.7M326.5 173.6L327.1 182.6M326.5 173.6L316.1 174.0M327.1 182.6L316.7 184.4M316.1 174.0L316.5 184.2M316.5 184.2L316.7 184.4M328.2 183.5L327.1 182.6M327.0 172.8L326.5 173.6M315.7 173.5L316.1 174.0M317.3 193.8L316.7 184.4M306.7 183.9L316.5 184.2M249.7 199.9L238.6 199.3M249.7 199.9L247.8 210.4M239.9 211.7L247.8 210.4M239.9 211.7L237.4 200.5M237.4 200.5L238.6 199.3M238.9 188.6L238.6 199.3M251.3 198.2L249.7 199.9M251.2 212.9L247.8 210.4M237.3 214.3L239.9 211.7M226.1 200.4L237.4 200.5M417.3 194.4L418.5 193.2M417.3 194.4L409.6 194.0M418.5 193.2L419.1 188.6M409.1 193.4L409.6 194.0M409.1 193.4L410.1 184.7M410.1 184.7L417.7 184.0M419.1 188.6L417.9 184.2M417.7 184.0L417.9 184.2M418.9 202.3L417.3 194.4M424.3 194.4L418.5 193.2M409.2 200.9L409.6 194.0M426.4 189.6L419.1 188.6M398.8 193.3L409.1 193.4M407.2 182.2L410.1 184.7M421.3 173.8L417.7 184.0M427.2 185.4L417.9 184.2M237.8 349.4L249.3 341.8M238.0 337.9L249.4 341.4M249.3 341.8L249.4 341.4M252.7 352.0L252.9 351.8M249.3 341.8L252.9 351.8M263.1 353.7L262.6 353.2M252.9 351.8L262.6 353.2M274.4 337.7L263.2 341.0M262.6 353.2L263.2 341.0M265.4 326.7L259.7 337.7M263.2 341.0L259.7 337.7M214.3 454.0L209.8 469.8M215.7 470.6L210.8 470.7M305.1 440.0L301.5 428.9M291.9 441.1L292.7 429.4M301.5 428.9L292.7 429.4M291.8 403.7L292.5 415.5M303.3 403.0L301.3 416.3M301.3 416.3L292.5 415.5M278.1 417.6L290.5 417.5M277.7 430.3L292.7 429.4M290.5 417.5L292.7 429.4M290.5 417.5L292.5 415.5M292.7 429.4L292.7 429.4M262.8 483.5L265.7 491.5M254.4 494.9L262.6 494.9M262.6 494.9L265.7 491.5M274.2 479.3L276.8 484.1M276.8 484.1L268.9 492.0M268.9 492.0L265.7 491.5M256.1 511.4L257.5 507.3M256.1 511.4L261.9 518.5M257.5 507.3L264.4 505.3M261.9 518.5L268.1 515.2M268.1 515.2L265.0 505.6M264.4 505.3L265.0 505.6M249.5 515.8L256.1 511.4M251.4 501.4L257.5 507.3M260.9 521.8L261.9 518.5M262.6 494.9L264.4 505.3M272.6 517.0L268.1 515.2M277.9 511.8L271.4 503.7M271.4 503.7L265.0 505.6M275.3 498.1L271.4 503.7M275.3 498.1L268.9 492.0M280.5 486.2L284.6 484.0M280.5 486.2L282.2 497.0M284.6 484.0L292.7 489.6M292.7 489.6L289.0 497.0M289.0 497.0L283.3 497.6M282.2 497.0L283.3 497.6M276.8 484.1L280.5 486.2M287.0 480.0L284.6 484.0M275.3 498.1L282.2 497.0M293.7 488.9L292.7 489.6M293.9 500.4L289.0 497.0M283.1 504.7L283.3 497.6M578.0 568.6L578.8 576.3M589.1 574.0L582.5 578.0M256.8 337.5L250.7 339.4M256.8 337.5L254.6 324.6M250.9 326.4L249.7 336.8M250.9 326.4L254.6 324.6M249.7 336.8L250.7 339.4M249.4 341.4L250.7 339.4M259.7 337.7L256.8 337.5M255.9 323.3L254.6 324.6M241.7 325.7L250.9 326.4M240.0 328.3L249.7 336.8M303.1 417.6L302.8 427.6M303.1 417.6L313.6 415.4M302.8 427.6L316.5 428.0M316.5 428.0L315.8 417.0M315.8 417.0L313.6 415.4M301.5 428.9L302.8 427.6M301.3 416.3L303.1 417.6M311.2 403.9L313.6 415.4M317.9 430.0L316.5 428.0M325.8 413.3L315.8 417.0" fill="none" stroke="#111" stroke-width="0.62" stroke-opacity="0.9"/>
<path d="M218.5 485.96 L226.5 486.41 L234.5 486.85 L242.5 487.28 L250.5 487.68 L258.5 488.08 L266.5 488.45 L274.5 488.82 L282.5 489.16 L290.5 489.49 L298.5 489.80 L306.5 490.10 L314.5 490.39 L322.5 490.65 L330.5 490.90 L338.5 491.14 L346.5 491.36 L354.5 491.57 L362.5 491.75 L370.5 491.93 L378.5 492.08 L386.5 492.23 L394.5 492.35 L402.5 492.46 L410.5 492.56 L418.5 492.64 L426.5 492.70 L434.5 492.75 L442.5 492.78 L450.5 492.80 L458.5 492.80 L466.5 492.78 L474.5 492.75 L482.5 492.71 L490.5 492.65 L498.5 492.57 L506.5 492.48 L514.5 492.37 L522.5 492.24 L530.5 492.10 L538.5 491.95 L546.5 491.78 L554.5 491.59 L562.5 491.39 L570.5 491.17 L578.5 490.93 L586.5 490.69 L594.5 490.42 L602.5 490.14 L610.5 489.84 L618.5 489.53 L626.5 489.20 L634.5 488.86 L642.5 488.50 L650.5 488.12 L658.5 487.73 L666.5 487.33 M218.5 316.16 L226.5 316.64 L234.5 317.09 L242.5 317.54 L250.5 317.96 L258.5 318.37 L266.5 318.77 L274.5 319.14 L282.5 319.50 L290.5 319.85 L298.5 320.18 L306.5 320.49 L314.5 320.78 L322.5 321.06 L330.5 321.32 L338.5 321.57 L346.5 321.80 L354.5 322.01 L362.5 322.21 L370.5 322.39 L378.5 322.55 L386.5 322.70 L394.5 322.83 L402.5 322.95 L410.5 323.05 L418.5 323.13 L426.5 323.20 L434.5 323.25 L442.5 323.28 L450.5 323.30 L458.5 323.30 L466.5 323.28 L474.5 323.25 L482.5 323.20 L490.5 323.14 L498.5 323.06 L506.5 322.96 L514.5 322.85 L522.5 322.72 L530.5 322.57 L538.5 322.41 L546.5 322.23 L554.5 322.04 L562.5 321.83 L570.5 321.60 L578.5 321.35 L586.5 321.09 L594.5 320.82 L602.5 320.52 L610.5 320.21 L618.5 319.89 L626.5 319.55 L634.5 319.19 L642.5 318.81 L650.5 318.42 L658.5 318.01 L666.5 317.59 M218.5 146.34 L226.5 146.83 L234.5 147.31 L242.5 147.78 L250.5 148.22 L258.5 148.65 L266.5 149.06 L274.5 149.45 L282.5 149.83 L290.5 150.19 L298.5 150.53 L306.5 150.86 L314.5 151.17 L322.5 151.46 L330.5 151.73 L338.5 151.99 L346.5 152.23 L354.5 152.45 L362.5 152.66 L370.5 152.85 L378.5 153.02 L386.5 153.17 L394.5 153.31 L402.5 153.43 L410.5 153.54 L418.5 153.62 L426.5 153.69 L434.5 153.74 L442.5 153.78 L450.5 153.80 L458.5 153.80 L466.5 153.78 L474.5 153.75 L482.5 153.70 L490.5 153.63 L498.5 153.55 L506.5 153.45 L514.5 153.33 L522.5 153.19 L530.5 153.04 L538.5 152.87 L546.5 152.68 L554.5 152.48 L562.5 152.26 L570.5 152.02 L578.5 151.77 L586.5 151.49 L594.5 151.21 L602.5 150.90 L610.5 150.58 L618.5 150.23 L626.5 149.88 L634.5 149.50 L642.5 149.11 L650.5 148.70 L658.5 148.28 L666.5 147.83 M265.3 570.0L285.9 116.5 M415.4 570.0L419.7 116.5 M565.1 570.0L553.1 116.5" fill="none" stroke="#c8c8c8" stroke-width="0.6" stroke-opacity="0.7"/>
<g fill="none" stroke="#000" stroke-width="1.65" stroke-linejoin="round" stroke-linecap="round">
<polyline points="218.5,127.5 244.6,129.0 249.6,133.5 252.0,137.0 252.6,138.0"/>
<polyline points="266.5,116.1 264.2,117.4 264.4,120.1 263.2,121.8 262.3,123.6 260.2,126.4 258.3,127.9 256.0,128.8 253.8,131.4 254.8,133.9 253.4,136.3 252.0,138.4 250.6,141.9 250.5,144.0 252.8,146.0 251.0,148.3 250.9,150.8 252.3,153.0 252.4,155.4 253.5,157.3 255.0,159.0 256.0,161.0 256.4,163.6 259.8,164.0 260.2,166.6 262.3,167.7 263.6,169.4 264.4,171.6 265.7,174.1 268.0,175.8 269.1,178.2 268.9,180.8 269.9,183.5 270.0,186.4 272.2,189.2 274.0,187.5 276.4,187.8 279.1,188.5 281.4,190.0 283.5,192.8 282.7,194.8 282.5,197.0 280.0,199.8 279.6,202.0 277.8,203.4 276.9,205.4 277.1,207.6 276.3,210.2 277.8,212.5 278.4,215.2 280.6,216.8 281.4,219.2 283.9,219.6 285.6,221.0 287.3,222.3 289.4,223.1 290.5,225.2 293.0,226.6 294.5,229.0 296.9,232.2 297.5,234.4 298.3,236.5 298.5,239.4 297.6,242.1 298.6,244.9 298.3,247.8 300.5,249.8 301.1,252.7 303.2,254.1 305.3,255.2 305.4,257.6 306.2,260.0 304.6,261.9 304.0,264.1 303.4,266.3 301.1,267.5 299.2,268.9 296.9,269.6 295.5,270.4 293.6,272.1 294.1,274.6 291.8,276.1 291.9,278.8 291.1,280.9 291.2,283.1 291.0,286.0 289.8,288.7 290.0,291.1 288.4,292.9 286.1,294.5 285.6,297.2 283.7,299.0 282.8,301.4 282.1,303.4 280.8,305.2 279.9,307.1 277.4,309.4 278.5,312.7 276.6,314.1 275.7,316.0 275.7,318.4 273.1,319.5 271.5,321.9 269.6,323.6 267.9,325.4 266.9,328.1 264.4,329.6 264.5,331.8 263.6,333.6 262.3,335.3 261.0,337.3 260.2,339.5 257.8,340.7 256.6,343.1 253.9,344.3 253.1,347.2 251.0,348.6 249.3,350.3 248.9,352.9 248.3,355.7 247.5,358.5 245.4,359.8 244.2,361.8 243.9,364.2 243.9,366.6 243.8,368.9 244.6,371.2 244.4,373.6 243.5,375.9 244.6,378.3 242.4,380.5 241.2,382.7 243.9,385.4 243.9,387.8 245.6,389.9 244.6,392.4 245.7,394.8 245.0,397.1 244.6,399.5 244.8,402.0 245.5,404.3 246.8,406.5 249.0,409.0 248.2,412.2 247.3,414.8 244.7,415.8 243.2,417.8 241.1,419.5 238.9,421.0 237.6,423.5 236.0,425.2 234.9,427.3 233.4,429.1 232.5,431.0 231.5,432.7 231.2,434.8 229.7,437.0 228.6,439.3 227.7,441.8 227.4,443.9 226.2,445.6 225.6,447.5 225.8,450.2 226.3,452.8"/>
<polyline points="354.7,115.8 352.6,176.5 350.5,182.2 349.8,185.0 351.9,190.6 352.6,197.7 350.5,204.8 345.5,210.4 340.6,214.6 338.5,220.3 337.8,225.9 336.4,230.5"/>
<polyline points="303.2,254.1 304.8,252.1 306.8,250.6 308.8,249.0 311.0,247.8 314.0,246.3 316.6,248.5 318.3,250.2 321.1,250.3 322.3,252.7 325.1,252.7 324.6,249.9 326.5,247.8 327.0,244.9 327.9,242.1 329.7,240.3 332.2,240.7 334.9,239.3 333.9,236.3 335.6,233.6 337.1,230.1 337.9,227.4 340.6,226.7 343.1,226.8 345.5,227.4 349.0,226.0 352.6,226.7 355.0,229.0 358.2,228.1 360.5,228.5 362.4,226.7 364.6,226.7 366.7,226.6 368.8,226.0 371.2,224.9 373.8,224.5 376.1,222.9 378.7,221.7 381.3,220.6 382.9,218.2 384.5,219.8 385.8,221.7 388.3,223.0 390.7,224.5 394.2,223.1 394.6,220.3 396.4,218.2 397.4,216.1 399.2,214.6 400.6,212.8 402.0,211.1 402.8,208.8 404.8,207.6 405.6,205.1 407.6,203.4 409.1,200.5 411.0,199.3 413.3,199.1 415.2,197.7 417.5,197.7 419.2,195.7 421.8,196.3 423.9,193.5 421.5,191.9 422.5,189.2 424.6,186.4 426.9,185.7 428.8,187.1 431.3,186.4 433.8,187.1 435.9,190.0 436.1,193.2 438.7,194.9 441.5,195.3 442.9,197.7 445.2,197.9 447.2,199.1 450.0,199.8 451.7,201.2 453.5,202.6 456.1,203.2 458.4,201.7 460.6,203.5 463.4,203.4 465.4,202.1 467.6,201.2 470.4,200.4 473.2,199.8 475.4,201.2 476.1,203.5 477.5,205.5 480.3,208.3 483.1,210.4 485.2,210.0 487.4,209.7 490.9,208.3 492.5,206.9 493.0,204.8 492.2,202.5 493.7,200.5 495.5,198.8 495.8,196.3 498.0,194.3 497.2,191.4 499.4,190.0 500.8,192.1 501.5,194.2 502.9,192.1 504.1,190.1 504.3,187.8 505.7,185.0 507.1,182.2 509.2,180.8 511.4,177.9 514.2,177.2 517.0,177.2 519.8,175.1 522.6,172.3 524.6,171.0 525.5,168.8 526.9,167.2 527.6,165.2 527.9,163.0 529.0,161.0 529.2,158.9 529.7,156.8 531.1,154.9 531.1,152.5 531.9,150.4 532.5,148.3 532.6,145.8 533.2,143.4 533.3,140.9 533.7,138.4 532.5,134.9 535.4,134.2"/>
<polyline points="424.3,115.8 423.6,186.4"/>
<polyline points="534.9,115.8 535.4,134.2 536.5,164.5 563.6,164.1 615.0,161.6 660.5,158.4"/>
<polyline points="563.6,164.1 563.8,180.9"/>
<polyline points="563.8,180.9 566.2,180.0 567.1,177.6 569.3,176.8 570.4,174.8 572.5,174.0 574.1,172.4 576.5,171.9 579.3,169.1 581.2,166.8 582.6,166.8 583.5,168.2 585.4,169.1 589.2,169.6 591.1,169.1 591.1,166.8 593.4,165.4 596.2,163.9 598.6,163.9 600.5,164.4 602.8,165.4 605.2,165.8 606.6,167.2 608.0,169.1 608.9,171.0 609.9,174.8 612.7,175.2 615.0,176.8 617.1,178.2 618.3,180.2 617.8,182.4 620.2,182.9 622.1,184.5 624.1,185.1 625.6,186.6 627.9,187.1 631.6,188.5 630.8,190.8 629.4,192.9 627.9,194.8 625.7,195.9 623.5,198.8 623.3,200.8 623.0,202.8 622.1,204.7 624.7,203.0 627.9,203.2 629.9,204.2 631.6,205.7 633.8,206.2 635.4,208.5 638.2,208.4 640.1,210.1 642.6,210.6 644.8,212.1 647.1,213.5 649.3,215.7"/>
<polyline points="609.4,174.8 607.1,181.2 593.4,171.0 592.9,176.6 591.5,182.3 588.2,186.1 585.4,188.9 583.1,190.8 581.2,194.5 577.9,193.6 576.5,195.5 575.1,199.2 573.2,202.1 571.8,205.8 569.4,207.2 566.6,205.8 563.8,203.9 560.8,203.4 557.9,211.8 553.7,220.3 549.5,225.9 545.9,232.3 544.5,236.5 542.4,239.3 539.6,240.7 535.4,242.1 531.1,242.1 529.7,244.2 524.1,246.4 518.4,247.8 514.2,249.2 509.9,250.6 505.7,249.2 501.5,244.9 499.4,240.7"/>
<polyline points="483.1,210.4 482.5,213.2 482.4,216.1 482.8,218.2 483.1,220.3 483.0,223.5 485.5,225.5 486.5,228.3 488.5,230.5 489.8,232.2 491.5,233.5 492.1,235.8 494.4,236.5 496.1,237.9 498.0,239.0 499.4,240.7"/>
<polyline points="499.4,240.7 493.0,244.9 487.4,249.2 481.7,254.1 477.5,257.6 474.6,261.9 470.4,264.7 461.9,268.2 454.2,271.8"/>
<polyline points="299.7,272.0 335.0,273.3 335.6,268.2 339.9,268.9 358.2,269.6 386.5,270.4 414.7,271.8 450.0,272.5 504.3,271.1 565.0,271.8 602.4,269.6 630.6,267.5 660.2,265.8"/>
<polyline points="218.5,266.4 277.1,270.4 279.9,273.2 280.6,277.4 277.1,281.6 272.9,285.2 271.5,288.0 289.1,288.4"/>
<polyline points="272.2,321.2 330.0,324.0 358.2,325.1 386.5,325.7 414.7,326.4 435.9,326.5 450.0,326.8 469.0,326.1"/>
<polyline points="330.8,324.0 331.2,330.0 330.0,345.0 325.1,371.2 322.3,399.5 319.5,420.6 318.1,441.8 317.4,463.0 317.4,479.5"/>
<polyline points="400.6,326.8 403.4,343.0 409.1,371.2 413.3,399.5 416.8,412.2 418.9,416.4 416.8,419.9 414.7,424.9 413.3,434.8 414.7,444.6 415.4,455.9 416.1,460.4"/>
<polyline points="346.9,479.0 345.5,476.2 344.1,469.1 340.6,463.5 341.3,459.9 416.1,460.6 417.5,464.9 420.4,469.1 421.8,470.5 450.0,471.9 485.0,474.0 497.9,475.5 498.6,481.1 501.5,481.8 502.2,471.9 502.9,468.4 507.1,467.7 514.2,468.4 519.1,468.4"/>
<polyline points="508.5,271.8 508.4,274.1 507.7,276.4 507.8,278.8 505.2,280.0 502.9,281.6 501.7,283.3 501.0,285.5 498.6,285.9 495.9,287.2 493.0,288.0 490.0,288.6 487.4,290.1 485.9,291.9 483.8,292.9 480.3,291.5 477.9,292.5 476.1,294.4 475.3,296.5 474.6,298.6 471.8,298.3 469.6,299.6 467.6,301.4 465.4,301.8 463.1,302.1 461.1,303.1 459.1,304.2 456.9,304.7 454.8,305.5 452.7,306.4 450.6,307.1 448.8,308.3 447.0,309.6 445.8,311.5 444.0,313.0 442.0,314.5 441.5,317.0 439.4,317.8 437.3,318.4 437.4,320.8 436.6,323.0 436.6,325.4"/>
<polyline points="469.0,326.1 477.5,322.6 490.2,319.5 526.9,320.0 528.3,322.6 531.1,323.3 533.9,326.8 534.6,330.4 565.0,330.8 565.6,331.1 574.1,338.1 578.4,342.5 596.7,360.6"/>
<polyline points="469.0,326.1 467.6,328.2 465.9,330.2 464.8,332.5 464.5,334.7 463.4,336.7 465.4,338.3 467.6,339.5 469.3,340.6 471.5,341.1 472.5,343.1 474.7,343.8 475.9,345.8 477.5,347.2 478.4,349.1 480.1,350.4 480.6,352.6 481.7,354.3 483.1,356.1 484.4,358.0 485.7,359.8 487.4,361.4 489.2,362.6 490.2,364.5 491.9,365.9 493.0,367.7 495.8,369.8 496.6,372.1 498.0,374.1 500.1,375.5 501.2,377.6 503.2,379.0 504.3,381.1 505.8,382.8 507.1,384.7 509.1,386.0 509.9,388.2 511.1,390.8 513.2,392.5 515.6,393.8 515.3,396.3 517.4,397.6 518.4,399.5 518.1,402.5 519.8,405.1 521.5,406.8 523.1,408.6 524.1,410.8 525.0,412.7 525.9,414.6 526.9,416.4 528.9,418.1 528.3,420.6 531.1,422.1 532.6,419.8 535.4,419.9"/>
<polyline points="218.5,385.1 243.9,386.1"/>
<polyline points="226.3,452.8 279.2,455.9 277.1,463.5 277.5,471.1 280.2,474.9 281.3,480.3 282.5,484.1"/>
<polyline points="660.5,158.4 661.6,154.9 664.4,153.5 668.6,153.1 673.0,153.1"/>
<polyline points="660.3,158.4 666.2,200.3 673.0,200.3"/>
<polyline points="672.2,153.5 668.6,156.3 665.8,160.5 665.1,164.8 667.2,167.6 670.8,170.4 673.0,173.5"/>
<polyline points="632.4,241.5 638.2,244.4 644.1,247.4 650.0,250.3 654.4,253.2 660.3,253.2 664.7,265.0"/>
<polyline points="665.8,218.3 670.0,215.5 672.5,214.8"/>
<polyline points="664.7,265.0 665.9,267.5 668.7,274.6 671.5,281.6 673.0,284.5"/>
<polyline points="642.4,275.1 643.5,281.8 646.9,284.0 651.3,281.8 654.7,279.6 658.0,276.2 662.5,277.3 665.8,279.6 670.3,281.8"/>
<polyline points="644.6,287.4 649.1,286.3 654.7,285.2 659.1,284.0 665.8,285.2 670.3,287.4"/>
<polyline points="663.0,287.4 663.6,295.2"/>
<polyline points="635.7,301.9 643.5,304.1 648.0,306.4 651.3,304.1 652.4,300.8 649.1,299.7"/>
<polyline points="636.8,315.3 640.0,317.5 643.5,319.8 648.0,320.0 652.0,320.5 656.9,319.8"/>
<polyline points="672.5,312.0 665.8,314.2 660.3,319.8 654.7,326.5 652.4,332.1"/>
<polyline points="657.4,319.8 650.4,325.4 644.7,328.2 639.1,329.6 633.4,331.1 629.2,332.5 624.9,338.1 620.7,343.8 617.9,348.6 615.1,354.3 613.6,359.2 608.0,358.5 600.9,359.7 595.3,361.4 589.6,365.6 585.4,370.5 582.6,375.5 580.5,379.7 578.4,385.4 574.1,389.6 569.9,393.8 564.2,398.1 560.0,400.9 557.9,403.7 552.3,407.2 548.8,409.0 544.0,408.6 540.5,408.6 546.5,411.0 546.5,414.5 543.5,416.3 539.5,416.5 537.5,412.0 536.5,408.5 536.8,414.0 538.9,417.5 535.3,421.7 533.9,423.5 533.2,425.9 529.7,428.8 526.9,431.6 526.2,434.4 525.5,438.6 524.1,442.2 522.6,450.3 519.8,455.9 519.1,460.6 519.1,468.4 519.8,477.6 521.2,487.5 524.1,497.4 528.3,508.6 532.5,517.1 536.8,525.6 541.0,534.1 545.2,545.4 549.5,556.6 553.5,571.0"/>
<polyline points="538.2,534.1 541.0,537.0 544.0,541.0 546.5,546.0 547.5,552.0 546.0,555.0 544.0,549.0 541.5,543.0 539.0,538.0"/>
<polyline points="218.5,496.0 219.8,498.0 222.1,497.4 223.3,499.4 224.8,501.2 226.3,503.0 227.4,504.7 229.4,505.5 230.5,507.2 230.4,509.0 229.8,510.8 231.5,511.9 234.0,511.9 234.8,514.3 236.1,515.8 237.6,517.1 239.2,518.5 241.4,518.8 243.2,520.0 245.0,519.3 247.1,519.3 248.9,518.5 249.4,516.6 250.0,514.7 252.2,513.3 254.6,512.4 257.6,513.9 259.8,514.7 259.9,517.0 261.2,518.4 262.2,520.0 263.8,518.5 265.3,517.0 265.9,514.7 266.1,512.4 266.2,509.9 268.3,508.6 270.5,508.5 272.2,507.0 274.5,509.3 272.9,512.4 276.0,513.9 278.1,515.1 280.6,515.4 282.5,516.9 284.4,518.5 284.8,521.2 287.5,521.6 286.0,523.2 285.9,525.4"/>
<polyline points="276.8,503.2 279.0,506.3 282.1,508.6 286.7,511.6 291.3,513.9 294.3,517.0 296.6,518.5 295.1,521.6 291.3,523.1 287.5,526.1"/>
<polyline points="276.8,503.2 279.0,502.5 283.6,500.9 288.2,498.6 291.3,495.6 292.8,490.2 293.6,486.4 289.7,486.4 285.9,487.9 283.6,491.0 280.6,494.0 276.8,491.8 276.0,488.7 279.0,485.6 282.9,484.5"/>
<polyline points="258.4,484.9 259.9,480.3 263.8,477.2 267.6,476.8 270.6,479.1 272.9,481.4 276.0,483.3 276.8,485.3 274.5,486.4 269.9,487.5 265.3,487.9 260.7,487.2 258.4,484.9"/>
<polyline points="282.5,484.1 285.9,481.8 289.7,479.5 295.9,478.4 303.5,477.2 309.6,479.1 313.8,479.7 319.5,479.7 326.5,480.4 329.4,476.2 328.6,471.5 329.5,466.0 331.0,462.5 332.3,466.5 332.5,473.4 333.6,480.4 335.0,483.2 338.5,483.9 346.9,481.8 358.2,480.4 366.7,479.7 375.2,480.1 383.6,481.8 389.3,484.6 394.9,487.5 399.2,491.0 402.0,494.5 404.1,498.8 404.8,503.0 409.1,505.8 414.7,507.2 420.4,505.1 426.0,501.6 431.6,497.4 435.2,493.8 440.1,492.0 445.4,491.5 450.6,494.5 456.3,498.8 460.5,504.4 463.4,508.6 466.2,512.9 470.0,517.8 473.5,522.1 479.2,523.5 481.3,526.3 484.1,530.5 485.2,533.4 485.2,539.7 485.2,546.8 483.4,551.7 481.3,555.9 479.9,560.9 479.9,566.5 481.5,571.0"/>
<polyline points="304.3,489.5 303.8,493.0 303.5,497.1 300.4,502.5"/>
<polyline points="295.9,483.7 310.0,483.3 320.0,484.5 335.0,484.6" stroke-dasharray="3 2"/>
<ellipse cx="256" cy="480.2" rx="2.4" ry="3"/>
<g stroke-width="3.2"><polyline points="277.5,502.5 280.0,500.5 282.0,499.5 283.5,497.0 285.5,496.0 286.5,493.5 288.5,492.5 289.5,490.0 291.5,489.0 293.0,487.0"/></g>
<g stroke-width="2.4"><polyline points="285.0,523.0 287.5,521.5 290.0,522.5 292.5,520.5 295.0,519.0"/></g>
<g stroke-width="1.9"><polyline points="657.4,164.3 655.1,164.5 653.8,166.0 652.9,167.9 650.9,167.6 649.0,167.5 647.5,168.0 647.1,170.9 645.3,171.6 643.6,172.4 642.5,173.9 641.2,175.3 639.7,176.8 640.3,178.3 640.8,179.9 641.6,181.3 642.6,182.6 641.0,183.8 640.6,185.3 641.2,187.1 641.4,188.8 642.1,190.3 642.9,191.7 644.1,192.9 643.2,194.7 644.3,196.0 644.8,197.4 645.6,198.8 646.3,200.2 648.3,201.3 647.2,203.1 647.1,204.7 647.1,206.3 648.1,207.6 646.8,209.5 648.5,210.6 649.3,212.0 649.6,213.5 650.0,215.0"/><polyline points="658.1,165.7 656.1,166.1 655.5,168.1 654.4,169.4 653.5,171.1 652.9,172.9 651.0,173.7 650.0,175.3 651.0,177.2 648.7,178.1 649.0,179.8 648.2,181.1 647.8,182.6 648.2,184.6 647.3,186.6 648.5,188.5 649.9,189.7 650.1,191.3 650.4,192.8 649.8,194.6 650.7,195.9 651.7,197.2 652.2,198.7 653.1,200.0 652.9,201.8 654.2,203.1 654.7,204.9 655.9,206.2 657.8,207.2 658.8,209.1 659.4,210.8 660.1,212.5 661.8,213.5 661.5,215.2 661.8,216.7 663.2,217.9"/><polyline points="630.9,209.1 632.5,209.6 633.9,210.4 636.0,209.9 636.8,212.1 638.7,212.9 640.9,212.0 642.6,213.5 644.6,213.2 645.6,214.8 647.5,214.9 648.5,216.5 650.6,217.2 650.7,219.4 652.1,221.0 651.3,222.9 649.7,224.8 650.6,226.5 651.5,228.2"/><polyline points="633.8,216.5 634.0,218.5 635.3,219.4 636.7,220.2 638.2,220.9 640.2,221.0 641.5,222.2 642.6,223.8 644.1,224.5 645.1,225.7 646.4,226.7 647.1,228.2 648.5,228.9 649.8,229.8 650.7,231.2"/><polyline points="635.3,228.2 636.5,229.4 637.4,230.8 639.2,231.4 639.9,233.1 641.2,234.1 642.8,235.1 644.9,235.3 646.3,236.6 647.1,238.5 648.4,239.4 649.4,240.6 650.7,241.5 650.3,239.4 651.3,237.6 651.5,235.6"/><polyline points="651.5,229.7 651.4,231.6 651.9,233.4 650.4,235.4 652.2,237.1 651.3,239.0 651.3,240.9 651.5,242.9 649.9,244.7 650.9,246.8 650.7,248.8"/><polyline points="663.2,217.9 663.9,219.3 663.8,221.0 664.7,222.4 664.1,224.1 664.5,226.0 665.7,228.0 663.8,229.5 663.2,231.2 662.3,232.9 663.4,234.8 661.6,236.4 662.0,238.2 661.8,240.0 661.8,242.9 661.9,245.7 664.7,245.9 666.6,245.0 666.6,243.1 667.9,242.0 667.6,240.0 668.6,238.7 668.7,237.1 669.0,235.6 669.1,234.1 669.9,232.7 670.6,231.3 670.9,229.8 670.6,228.2 672.4,226.7 670.9,224.7 671.0,223.0 672.0,221.4 671.2,219.5 672.1,217.9"/></g>
<g stroke-width="2.2"><polyline points="649.0,269.5 655.0,273.0 661.0,279.0"/><polyline points="653.0,268.5 659.0,272.0 665.0,278.0"/><polyline points="657.0,268.0 663.0,272.0 668.0,278.0"/><polyline points="666.0,288.0 668.0,294.0"/><polyline points="642.4,275.1 643.5,281.8 646.9,284.0 651.3,281.8 654.7,279.6 658.0,276.2 662.5,277.3 665.8,279.6 670.3,281.8"/><polyline points="644.6,287.4 649.1,286.3 654.7,285.2 659.1,284.0 665.8,285.2 670.3,287.4"/><polyline points="635.7,301.9 643.5,304.1 648.0,306.4 651.3,304.1 652.4,300.8 649.1,299.7"/><polyline points="636.8,315.3 640.0,317.5 643.5,319.8 648.0,320.0 652.0,320.5 656.9,319.8"/></g>
<g stroke-width="1.6"><polyline points="484.5,560.5 486.5,562.5 488.5,561.8 487.2,564.5 489.2,567.0 491.0,564.8 492.3,567.2 493.6,565.2 493.2,568.5"/><polyline points="484.0,566.0 486.5,568.5 489.0,569.5"/></g>
<g stroke-width="2.2"><polyline points="538.2,534.1 541.0,537.0 544.0,541.0 546.5,546.0 547.5,552.0 546.0,555.0 544.0,549.0 541.5,543.0 539.0,538.0"/></g>
<g fill="#000" stroke="none"><ellipse cx="629" cy="332" rx="2" ry="3"/><ellipse cx="650" cy="302" rx="2.5" ry="1.8"/></g>
</g>
</g>
<rect x="218.5" y="116.5" width="453.9" height="453.5" fill="none" stroke="#1a1a1a" stroke-width="1.4"/>
<g stroke="#000" stroke-width="1.4">
<line x1="207" y1="147.4" x2="218.5" y2="147.4" /><line x1="207" y1="215.6" x2="218.5" y2="215.6" /><line x1="207" y1="283.6" x2="218.5" y2="283.6" /><line x1="207" y1="351.4" x2="218.5" y2="351.4" /><line x1="207" y1="418.6" x2="218.5" y2="418.6" /><line x1="207" y1="486.2" x2="218.5" y2="486.2" /><line x1="207" y1="554.6" x2="218.5" y2="554.6" /><line x1="265.3" y1="570.0" x2="265.3" y2="580.8" /><line x1="325.6" y1="570.0" x2="325.6" y2="580.8" /><line x1="385.4" y1="570.0" x2="385.4" y2="580.8" /><line x1="445.3" y1="570.0" x2="445.3" y2="580.8" /><line x1="505.3" y1="570.0" x2="505.3" y2="580.8" /><line x1="565.1" y1="570.0" x2="565.1" y2="580.8" /><line x1="624.8" y1="570.0" x2="624.8" y2="580.8" />
</g>
<g>
<text x="177.39" y="150.95" font-size="10.2" textLength="23.71" lengthAdjust="spacingAndGlyphs" xml:space="preserve">40°N</text><text x="177.17" y="219.15" font-size="10.2" textLength="23.93" lengthAdjust="spacingAndGlyphs" xml:space="preserve">38°N</text><text x="177.17" y="287.15" font-size="10.2" textLength="23.93" lengthAdjust="spacingAndGlyphs" xml:space="preserve">36°N</text><text x="177.17" y="354.95" font-size="10.2" textLength="23.93" lengthAdjust="spacingAndGlyphs" xml:space="preserve">34°N</text><text x="177.17" y="422.15" font-size="10.2" textLength="23.93" lengthAdjust="spacingAndGlyphs" xml:space="preserve">32°N</text><text x="177.17" y="489.75" font-size="10.2" textLength="23.93" lengthAdjust="spacingAndGlyphs" xml:space="preserve">30°N</text><text x="177.06" y="558.15" font-size="10.2" textLength="24.05" lengthAdjust="spacingAndGlyphs" xml:space="preserve">28°N</text><text x="252.12" y="595.90" font-size="10.4" textLength="25.94" lengthAdjust="spacingAndGlyphs" xml:space="preserve">90°W</text><text x="312.42" y="595.90" font-size="10.4" textLength="25.94" lengthAdjust="spacingAndGlyphs" xml:space="preserve">88°W</text><text x="372.22" y="595.90" font-size="10.4" textLength="25.94" lengthAdjust="spacingAndGlyphs" xml:space="preserve">86°W</text><text x="432.12" y="595.90" font-size="10.4" textLength="25.94" lengthAdjust="spacingAndGlyphs" xml:space="preserve">84°W</text><text x="492.12" y="595.90" font-size="10.4" textLength="25.94" lengthAdjust="spacingAndGlyphs" xml:space="preserve">82°W</text><text x="551.92" y="595.90" font-size="10.4" textLength="25.94" lengthAdjust="spacingAndGlyphs" xml:space="preserve">80°W</text><text x="611.57" y="595.90" font-size="10.4" textLength="25.99" lengthAdjust="spacingAndGlyphs" xml:space="preserve">78°W</text>
</g>
<text x="374.27" y="616.65" font-size="11.5" textLength="142.60" lengthAdjust="spacingAndGlyphs" xml:space="preserve">Vapor Pressure Deficit  (hPa)</text>
<g font-size="11">
<rect x="225.40" y="622.3" width="36.67" height="15.80" fill="#ffffff" stroke="#000" stroke-width="1"/><rect x="262.07" y="622.3" width="36.67" height="15.80" fill="#ffffff" stroke="#000" stroke-width="1"/><rect x="298.73" y="622.3" width="36.67" height="15.80" fill="#63b8ff" stroke="#000" stroke-width="1"/><rect x="335.40" y="622.3" width="36.67" height="15.80" fill="#9acd32" stroke="#000" stroke-width="1"/><rect x="372.07" y="622.3" width="36.67" height="15.80" fill="#adff2f" stroke="#000" stroke-width="1"/><rect x="408.73" y="622.3" width="36.67" height="15.80" fill="#00ff00" stroke="#000" stroke-width="1"/><rect x="445.40" y="622.3" width="36.67" height="15.80" fill="#ffff00" stroke="#000" stroke-width="1"/><rect x="482.07" y="622.3" width="36.67" height="15.80" fill="#daa520" stroke="#000" stroke-width="1"/><rect x="518.73" y="622.3" width="36.67" height="15.80" fill="#ffa500" stroke="#000" stroke-width="1"/><rect x="555.40" y="622.3" width="36.67" height="15.80" fill="#ff4500" stroke="#000" stroke-width="1"/><rect x="592.07" y="622.3" width="36.67" height="15.80" fill="#ff0000" stroke="#000" stroke-width="1"/><rect x="628.73" y="622.3" width="36.67" height="15.80" fill="#3a10f0" stroke="#000" stroke-width="1"/><text x="262.27" y="658.5" text-anchor="middle">0</text><text x="298.93" y="658.5" text-anchor="middle">4</text><text x="335.60" y="658.5" text-anchor="middle">8</text><text x="372.27" y="658.5" text-anchor="middle">12</text><text x="408.93" y="658.5" text-anchor="middle">16</text><text x="445.60" y="658.5" text-anchor="middle">20</text><text x="482.27" y="658.5" text-anchor="middle">24</text><text x="518.93" y="658.5" text-anchor="middle">28</text><text x="555.60" y="658.5" text-anchor="middle">32</text><text x="592.27" y="658.5" text-anchor="middle">36</text><text x="628.93" y="658.5" text-anchor="middle">40</text>
</g>
<text x="219.43" y="827.70" font-size="10.9" textLength="177.71" lengthAdjust="spacingAndGlyphs" xml:space="preserve">OUTPUT FROM WRF V4.6.1 MODEL</text>
<text x="220.15" y="839.40" font-size="10.9" textLength="432.97" lengthAdjust="spacingAndGlyphs" xml:space="preserve">WE = 1000 ; SN = 1000 ; Levels = 38 ; Dis = 1.5km ; Phys Opt = 8 ; PBL Opt = 1 ; Cu Opt = 3</text>
</svg>
</body></html>
